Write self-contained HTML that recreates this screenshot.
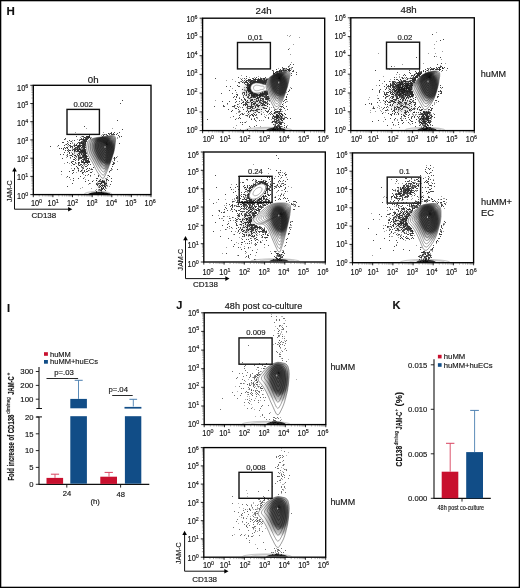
<!DOCTYPE html><html><head><meta charset="utf-8"><style>html,body{margin:0;padding:0;background:#fff;font-family:"Liberation Sans",sans-serif;}svg{display:block;opacity:.999}text{stroke:#222;stroke-width:.16px}</style></head><body>
<svg width="520" height="588" viewBox="0 0 520 588">
<rect x="0" y="0" width="520" height="588" fill="#fff"/>
<defs><filter id="blur2" x="-50%" y="-50%" width="200%" height="200%"><feGaussianBlur stdDeviation="2.5"/></filter><filter id="blur1" x="-50%" y="-50%" width="200%" height="200%"><feGaussianBlur stdDeviation="1.3"/></filter><filter id="blur05" x="-50%" y="-50%" width="200%" height="200%"><feGaussianBlur stdDeviation="0.6"/></filter><filter id="blur15" x="-50%" y="-50%" width="200%" height="200%"><feGaussianBlur stdDeviation="1.8"/></filter></defs>
<clipPath id="c0"><rect x="34" y="86" width="116.3" height="107.9"/></clipPath>
<g clip-path="url(#c0)">
<ellipse cx="80" cy="152" rx="8" ry="5" transform="rotate(5 80 152)" fill="#000" fill-opacity="0.12" filter="url(#blur2)"/>
<ellipse cx="102" cy="184" rx="4" ry="5" transform="rotate(0 102 184)" fill="#000" fill-opacity="0.12" filter="url(#blur2)"/>
<path transform="translate(0,0.5)" d="M122 100h1m-3 3h1m-4 17h1m-34 6h1m37 3h1m-12 3h1m2 0h1m4 0h1m-12 1h1m1 0h1m0 0h1m1 0h1m3 0h1m-33 1h1m18 0h1m1 0h1m2 0h1m1 0h1m0 0h1m0 0h1m0 0h1m1 0h1m-28 1h1m13 0h1m3 0h1m10 0h1m-43 1h1m5 0h1m0 0h1m2 0h1m0 0h1m0 0h1m0 0h1m12 0h1m16 0h1m1 0h1m-38 1h1m0 0h1m0 0h1m0 0h1m0 0h1m0 0h1m-25 1h1m15 0h1m1 0h1m1 0h1m0 0h1m0 0h1m0 0h1m1 0h1m-27 1h1m15 0h1m0 0h1m0 0h1m0 0h1m0 0h1m0 0h1m0 0h1m0 0h1m-19 1h1m4 0h1m4 0h1m3 0h1m0 0h1m0 0h1m0 0h1m-20 1h1m3 0h1m9 0h1m0 0h1m0 0h1m0 0h1m0 0h1m0 0h1m-25 1h1m0 0h1m14 0h1m0 0h1m0 0h1m0 0h1m0 0h1m0 0h1m0 0h1m0 0h1m-19 1h1m2 0h1m6 0h1m1 0h1m0 0h1m0 0h1m0 0h1m0 0h1m0 0h1m0 0h1m33 0h1m-54 1h1m1 0h1m5 0h1m1 0h1m2 0h1m2 0h1m0 0h1m0 0h1m0 0h1m-28 1h1m5 0h1m4 0h1m0 0h1m3 0h1m0 0h1m0 0h1m1 0h1m0 0h1m0 0h1m0 0h1m0 0h1m0 0h1m0 0h1m0 0h1m-36 1h1m19 0h1m0 0h1m0 0h1m1 0h1m2 0h1m0 0h1m0 0h1m0 0h1m1 0h1m0 0h1m0 0h1m-21 1h1m1 0h1m0 0h1m2 0h1m1 0h1m2 0h1m0 0h1m0 0h1m0 0h1m0 0h1m1 0h1m0 0h1m0 0h1m0 0h1m0 0h1m-27 1h1m1 0h1m1 0h1m1 0h1m1 0h1m6 0h1m0 0h1m1 0h1m1 0h1m3 0h1m0 0h1m-22 1h1m4 0h1m4 0h1m0 0h1m0 0h1m0 0h1m0 0h1m0 0h1m0 0h1m0 0h1m1 0h1m0 0h1m0 0h1m0 0h1m-21 1h1m1 0h1m1 0h1m0 0h1m1 0h1m1 0h1m0 0h1m1 0h1m0 0h1m1 0h1m0 0h1m0 0h1m0 0h1m0 0h1m0 0h1m-18 1h1m5 0h1m1 0h1m0 0h1m0 0h1m0 0h1m0 0h1m0 0h1m0 0h1m0 0h1m0 0h1m0 0h1m-22 1h1m4 0h1m9 0h1m0 0h1m0 0h1m0 0h1m0 0h1m0 0h1m0 0h1m-17 1h1m2 0h1m5 0h1m0 0h1m1 0h1m1 0h1m0 0h1m0 0h1m0 0h1m-27 1h1m2 0h1m3 0h1m4 0h1m4 0h1m1 0h1m1 0h1m1 0h1m0 0h1m0 0h1m-16 1h1m0 0h1m2 0h1m0 0h1m2 0h1m3 0h1m0 0h1m0 0h1m0 0h1m0 0h1m-20 1h1m4 0h1m3 0h1m1 0h1m3 0h1m0 0h1m0 0h1m0 0h1m0 0h1m0 0h1m-18 1h1m3 0h1m3 0h1m0 0h1m0 0h1m0 0h1m0 0h1m0 0h1m0 0h1m0 0h1m0 0h1m27 0h1m1 0h1m-55 1h1m12 0h1m2 0h1m0 0h1m0 0h1m0 0h1m2 0h1m0 0h1m0 0h1m0 0h1m0 0h1m25 0h1m-42 1h1m0 0h1m3 0h1m3 0h1m0 0h1m0 0h1m0 0h1m0 0h1m1 0h1m25 0h1m-40 1h1m2 0h1m2 0h1m1 0h1m1 0h1m0 0h1m0 0h1m0 0h1m25 0h1m-43 1h1m0 0h1m7 0h1m0 0h1m0 0h1m1 0h1m0 0h1m0 0h1m0 0h1m0 0h1m-23 1h1m3 0h1m3 0h1m2 0h1m0 0h1m1 0h1m0 0h1m0 0h1m0 0h1m0 0h1m0 0h1m0 0h1m0 0h1m0 0h1m23 0h1m-42 1h1m5 0h1m5 0h1m2 0h1m25 0h1m0 0h1m-42 1h1m0 0h1m3 0h1m1 0h1m0 0h1m6 0h1m1 0h1m21 0h1m0 0h1m-35 1h1m2 0h1m4 0h1m-12 1h1m4 0h1m3 0h1m0 0h1m25 0h1m-36 1h1m4 0h1m10 0h1m-20 1h1m3 0h1m4 0h1m3 0h1m1 0h1m21 0h1m-26 1h1m4 0h1m0 0h1m24 0h1m-46 1h1m0 0h1m4 0h1m2 0h1m2 0h1m3 0h1m21 0h1m-50 1h1m7 0h1m10 0h1m3 0h1m1 0h1m0 0h1m21 0h1m-37 1h1m8 0h1m0 0h1m6 0h1m0 0h1m-20 1h1m9 0h1m5 1h1m-4 1h1m4 0h1m7 0h1m9 0h1m-42 1h1m12 0h1m17 0h1m10 0h1m-41 1h1m3 1h1m4 0h1m4 0h1m12 0h1m0 0h1m13 0h1m-12 1h1m5 0h1m0 0h1m-35 1h1m14 0h1m7 0h1m2 0h1m2 0h1m3 0h1m1 0h1m-24 1h1m6 0h1m5 0h1m0 0h1m0 0h1m0 0h1m0 0h1m0 0h1m0 0h1m6 0h1m-11 1h1m0 0h1m0 0h1m0 0h1m-33 1h1m16 0h1m6 0h1m1 0h1m0 0h1m0 0h1m0 0h1m2 0h1m0 0h1m0 0h1m-11 1h1m0 0h1m2 0h1m3 0h1m0 0h1m4 0h1m-14 1h1m1 0h1m1 0h1m0 0h1m0 0h1m0 0h1m1 0h1m-40 1h1m32 0h1m1 0h1m1 0h1m0 0h1m-7 1h1m1 0h1m1 0h1m1 0h1m-5 1h1m0 0h1m0 0h1m-5 1h1m1 0h1m0 0h1m1 0h1m-5 1h1m0 0h1m3 0h1m-10 1h1m-1 1h1m4 0h1m1 1h1" stroke="#000" stroke-opacity="0.72" stroke-width="1" fill="none"/>
<path transform="translate(0,0.5)" d="M86 128h1m25 0h1m-38 4h1m27 0h1m4 1h1m0 0h1m-8 1h1m0 0h1m1 0h1m-5 1h1m1 0h1m2 0h1m-26 1h1m4 0h1m0 0h1m0 0h1m0 0h1m-10 1h1m2 0h1m0 0h1m2 0h1m0 0h1m0 0h1m0 0h1m0 0h1m25 0h1m1 0h1m-34 1h1m30 0h1m-53 1h1m11 0h1m1 0h1m3 0h1m1 0h1m0 0h1m-15 1h1m6 0h1m2 0h1m0 0h1m0 0h1m-15 1h1m13 0h1m0 0h1m-18 1h1m3 0h1m8 0h1m1 0h1m1 0h1m-16 1h1m1 0h1m1 0h1m4 0h1m1 0h1m0 0h1m0 0h1m1 0h1m-21 1h1m14 0h1m2 0h1m0 0h1m-18 1h1m5 0h1m2 0h1m0 0h1m0 0h1m0 0h1m1 0h1m1 0h1m-27 1h1m10 0h1m8 0h1m0 0h1m1 0h1m1 0h1m0 0h1m0 0h1m0 0h1m-2 1h1m-13 1h1m3 0h1m0 0h1m0 0h1m0 0h1m0 0h1m0 0h1m0 0h1m0 0h1m0 0h1m-13 1h1m6 0h1m0 0h1m0 0h1m2 0h1m-17 1h1m0 0h1m4 0h1m2 0h1m0 0h1m2 0h1m0 0h1m0 0h1m0 0h1m-10 1h1m3 0h1m1 0h1m0 0h1m0 0h1m0 0h1m0 0h1m-19 1h1m1 0h1m1 0h1m2 0h1m5 0h1m1 0h1m1 0h1m0 0h1m0 0h1m-13 1h1m5 0h1m1 0h1m0 0h1m1 0h1m-13 1h1m5 0h1m1 0h1m0 0h1m1 0h1m0 0h1m-20 1h1m0 0h1m1 0h1m1 0h1m3 0h1m1 0h1m0 0h1m0 0h1m0 0h1m2 0h1m0 0h1m0 0h1m-14 1h1m2 0h1m3 0h1m0 0h1m2 0h1m1 0h1m0 0h1m30 0h1m-52 1h1m9 0h1m3 0h1m0 0h1m3 0h1m0 0h1m27 0h1m-45 1h1m12 0h1m0 0h1m1 0h1m26 0h1m1 0h1m-42 1h1m1 0h1m2 0h1m3 0h1m0 0h1m-1 1h1m0 0h1m1 0h1m-17 1h1m14 0h1m1 0h1m0 0h1m22 0h1m4 0h1m-47 1h1m6 0h1m3 0h1m1 0h1m0 0h1m0 0h1m0 0h1m26 0h1m-51 1h1m4 0h1m5 0h1m0 0h1m2 0h1m3 0h1m0 0h1m-2 1h1m0 0h1m0 0h1m0 0h1m-16 1h1m6 0h1m0 0h1m0 0h1m3 0h1m-2 1h1m-3 1h1m1 0h1m-13 1h1m2 0h1m2 0h1m4 0h1m6 0h1m1 0h1m-18 1h1m3 0h1m3 0h1m7 0h1m20 0h1m0 0h1m-35 1h1m2 0h1m0 0h1m6 0h1m21 0h1m-34 1h1m2 0h1m10 0h1m-17 1h1m8 0h1m23 0h1m-49 2h1m21 0h1m10 0h1m-8 1h1m19 0h1m-18 1h1m18 0h1m-44 1h1m17 0h1m22 0h1m-3 1h1m0 0h1m-37 1h1m14 0h1m7 1h1m2 0h1m3 0h1m1 0h1m0 0h1m0 0h1m-13 1h1m9 0h1m0 0h1m0 0h1m1 0h1m-10 1h1m3 0h1m1 0h1m0 0h1m0 0h1m0 0h1m-17 1h1m6 0h1m3 0h1m2 0h1m1 0h1m-19 1h1m9 0h1m3 0h1m3 0h1m-6 1h1m3 0h1m1 0h1m-10 1h1m0 0h1m0 0h1m3 0h1m2 0h1m1 0h1m-28 1h1m15 0h1m2 0h1m1 0h1m-24 1h1m10 0h1m9 0h1m1 0h1m1 0h1m0 0h1m-11 1h1m1 0h1m1 0h1m-6 1h1m2 0h1m0 0h1m1 0h1m-1 1h1m0 2h1m0 0h1m5 0h1" stroke="#000" stroke-opacity="0.38" stroke-width="1" fill="none"/>
<ellipse cx="98" cy="194.3" rx="14" ry="3" fill="#000" fill-opacity="0.06" stroke="#000" stroke-opacity="0.4" stroke-width="0.5"/>
<ellipse cx="100" cy="194.3" rx="10" ry="2.2" fill="none" stroke="#000" stroke-opacity="0.3" stroke-width="0.5"/>
<ellipse cx="99" cy="194.4" rx="11" ry="2.5" fill="#000" fill-opacity="0.9" filter="url(#blur05)"/>
<path d="M86.9,145.6 87.1,143.9 87.5,142.4 88.2,141.1 89.1,140.3 90.8,139.3 92.3,138.7 94.1,138.1 96.1,137.7 98.1,137.4 99.7,137.2 102.2,136.8 104.5,136.4 106.4,136.2 108.2,135.9 110.1,135.7 111.6,135.6 112.9,135.6 113.9,135.9 115,136.5 115.4,137.4 115.6,139.3 115.4,142 115.2,143.9 114.9,146.3 114.4,149 114.1,150.9 113.4,153.5 112.6,155.8 112.1,157.6 111.1,160.5 110.5,162.4 109.8,164.3 108.7,166.9 108.1,168.5 107.3,170.6 106.4,172.6 105.6,174.5 104.8,176 103.8,177.8 103.1,178.3 102,178 100.8,176.8 99.7,175.2 98.4,173.5 97.2,171.6 96.1,169.7 95.2,167.9 94.5,166.4 93.3,164.2 92.2,162.1 91.2,160.4 90.2,158.8 89.3,157.1 88.5,155.6 87.9,154 87.4,152.5 86.9,150.3 86.8,148.9 86.7,147.3Z" fill="#fff"/>
<clipPath id="c0k"><path d="M86.9,145.6 87.1,143.9 87.5,142.4 88.2,141.1 89.1,140.3 90.8,139.3 92.3,138.7 94.1,138.1 96.1,137.7 98.1,137.4 99.7,137.2 102.2,136.8 104.5,136.4 106.4,136.2 108.2,135.9 110.1,135.7 111.6,135.6 112.9,135.6 113.9,135.9 115,136.5 115.4,137.4 115.6,139.3 115.4,142 115.2,143.9 114.9,146.3 114.4,149 114.1,150.9 113.4,153.5 112.6,155.8 112.1,157.6 111.1,160.5 110.5,162.4 109.8,164.3 108.7,166.9 108.1,168.5 107.3,170.6 106.4,172.6 105.6,174.5 104.8,176 103.8,177.8 103.1,178.3 102,178 100.8,176.8 99.7,175.2 98.4,173.5 97.2,171.6 96.1,169.7 95.2,167.9 94.5,166.4 93.3,164.2 92.2,162.1 91.2,160.4 90.2,158.8 89.3,157.1 88.5,155.6 87.9,154 87.4,152.5 86.9,150.3 86.8,148.9 86.7,147.3Z"/></clipPath>
<g clip-path="url(#c0k)">
<ellipse cx="105" cy="150" rx="15.2" ry="20.2" transform="rotate(-20 105 150)" fill="#000" fill-opacity="0.3" filter="url(#blur15)"/>
<ellipse cx="105" cy="150" rx="10.5" ry="15" transform="rotate(-20 105 150)" fill="#0a0a0a" fill-opacity="0.6" filter="url(#blur1)"/>
</g>
<path d="M88.7,145.4 88.9,143.9 89.2,142.5 89.9,141.4 90.7,140.6 92.3,139.7 93.6,139.2 95.3,138.7 97.1,138.3 98.9,138 100.3,137.8 102.6,137.5 104.6,137.1 106.4,136.9 108.1,136.6 109.8,136.4 111.1,136.3 112.3,136.4 113.2,136.6 114.2,137.2 114.6,138 114.8,139.7 114.6,142.2 114.4,143.9 114.1,146.1 113.7,148.5 113.4,150.2 112.7,152.6 112.1,154.7 111.6,156.4 110.7,158.9 110.1,160.7 109.5,162.4 108.5,164.8 107.9,166.3 107.2,168.1 106.4,170 105.7,171.7 105,173.1 104.1,174.7 103.4,175.1 102.4,174.9 101.4,173.7 100.3,172.4 99.1,170.8 98,169.1 97.1,167.3 96.2,165.7 95.6,164.4 94.5,162.3 93.5,160.5 92.6,158.9 91.7,157.4 90.9,155.9 90.2,154.5 89.6,153.1 89.2,151.7 88.7,149.7 88.6,148.5 88.6,147ZM90.5,145.3 90.6,144 90.9,142.6 91.5,141.6 92.2,140.9 93.7,140.2 94.9,139.6 96.4,139.2 98,138.9 99.6,138.6 100.9,138.4 102.9,138.1 104.8,137.8 106.4,137.6 107.9,137.4 109.4,137.2 110.6,137.1 111.7,137.1 112.5,137.4 113.4,137.8 113.8,138.6 113.9,140.1 113.8,142.3 113.6,143.9 113.4,145.9 113,148.1 112.7,149.6 112.1,151.8 111.5,153.7 111.1,155.1 110.3,157.5 109.7,159 109.2,160.6 108.3,162.7 107.8,164.1 107.1,165.7 106.4,167.4 105.7,169 105.1,170.2 104.3,171.7 103.7,172 102.8,171.8 101.9,170.8 100.9,169.6 99.9,168.2 98.9,166.6 98,165 97.2,163.5 96.6,162.3 95.7,160.5 94.8,158.8 94,157.4 93.2,156.1 92.4,154.7 91.8,153.5 91.2,152.2 90.9,150.9 90.5,149.2 90.4,148 90.3,146.7ZM92.2,145.1 92.3,144 92.6,142.8 93.1,141.9 93.8,141.3 95.1,140.6 96.1,140.1 97.5,139.7 98.9,139.4 100.4,139.2 101.5,139 103.3,138.7 105,138.5 106.4,138.3 107.8,138.1 109.1,137.9 110.2,137.8 111.2,137.9 111.9,138.1 112.7,138.5 113,139.2 113.2,140.6 113,142.5 112.9,143.9 112.6,145.7 112.3,147.7 112,149 111.5,150.9 111,152.6 110.6,153.9 109.9,156 109.4,157.4 108.9,158.8 108.1,160.7 107.7,161.9 107.1,163.4 106.4,164.9 105.8,166.3 105.3,167.4 104.5,168.7 104,169 103.2,168.8 102.4,167.9 101.5,166.8 100.6,165.6 99.7,164.2 98.9,162.8 98.2,161.4 97.7,160.4 96.9,158.7 96.1,157.2 95.3,156 94.6,154.8 93.9,153.6 93.4,152.5 92.9,151.3 92.5,150.2 92.2,148.6 92.1,147.6 92.1,146.4ZM93.8,145 94,144 94.2,142.9 94.7,142.1 95.2,141.6 96.4,141 97.3,140.6 98.5,140.2 99.8,140 101.1,139.7 102.1,139.6 103.7,139.3 105.2,139.1 106.4,138.9 107.6,138.8 108.8,138.6 109.8,138.5 110.6,138.6 111.3,138.8 112,139.1 112.3,139.8 112.4,141 112.3,142.7 112.1,143.9 111.9,145.5 111.6,147.2 111.4,148.4 110.9,150.1 110.5,151.6 110.1,152.8 109.5,154.6 109.1,155.9 108.6,157.1 107.9,158.8 107.5,159.8 107,161.1 106.4,162.5 105.9,163.7 105.4,164.7 104.8,165.8 104.3,166.1 103.6,165.9 102.8,165.2 102.1,164.2 101.3,163.1 100.5,161.8 99.8,160.6 99.2,159.4 98.7,158.5 98,157 97.3,155.7 96.6,154.6 96,153.5 95.4,152.5 94.9,151.5 94.5,150.5 94.2,149.5 93.9,148.1 93.8,147.2 93.7,146.1ZM95.5,144.9 95.6,144 95.8,143.1 96.2,142.4 96.7,141.9 97.7,141.4 98.5,141 99.5,140.7 100.7,140.5 101.8,140.3 102.7,140.2 104.1,139.9 105.3,139.7 106.4,139.6 107.5,139.4 108.5,139.3 109.4,139.2 110.1,139.3 110.7,139.4 111.3,139.8 111.5,140.3 111.6,141.3 111.5,142.9 111.4,143.9 111.2,145.3 111,146.8 110.8,147.9 110.4,149.3 110,150.6 109.6,151.7 109.1,153.3 108.7,154.3 108.3,155.4 107.8,156.9 107.4,157.8 106.9,159 106.5,160.1 106,161.2 105.6,162 105,163 104.6,163.3 104,163.1 103.3,162.4 102.6,161.6 101.9,160.6 101.2,159.5 100.6,158.5 100.1,157.4 99.7,156.6 99.1,155.4 98.5,154.2 97.9,153.2 97.4,152.3 96.8,151.4 96.4,150.5 96,149.6 95.8,148.8 95.5,147.6 95.4,146.8 95.4,145.8ZM97,144.8 97.1,144 97.3,143.2 97.7,142.6 98.1,142.2 98.9,141.7 99.6,141.4 100.5,141.2 101.5,141 102.4,140.8 103.2,140.7 104.4,140.5 105.5,140.4 106.4,140.2 107.3,140.1 108.2,140 108.9,139.9 109.6,140 110.1,140.1 110.6,140.4 110.8,140.8 110.9,141.7 110.8,143 110.7,143.9 110.6,145.1 110.3,146.4 110.1,147.3 109.8,148.6 109.5,149.7 109.2,150.6 108.7,152 108.4,152.9 108.1,153.8 107.6,155.1 107.3,155.9 106.9,156.8 106.5,157.8 106,158.7 105.7,159.5 105.2,160.3 104.8,160.6 104.3,160.4 103.8,159.8 103.2,159.1 102.6,158.3 102,157.3 101.5,156.4 101,155.5 100.7,154.8 100.1,153.7 99.6,152.8 99.1,151.9 98.6,151.1 98.2,150.3 97.8,149.6 97.5,148.8 97.3,148.1 97.1,147 97,146.4 97,145.6ZM98.5,144.6 98.6,144 98.8,143.3 99.1,142.8 99.4,142.5 100.1,142.1 100.7,141.8 101.5,141.6 102.3,141.5 103.1,141.3 103.7,141.2 104.7,141.1 105.7,140.9 106.4,140.8 107.2,140.7 108,140.6 108.6,140.6 109.1,140.6 109.5,140.7 109.9,140.9 110.1,141.3 110.2,142.1 110.1,143.2 110,143.9 109.9,144.9 109.7,146 109.6,146.8 109.3,147.9 109,148.8 108.8,149.5 108.4,150.7 108.1,151.5 107.8,152.2 107.4,153.3 107.1,154 106.8,154.8 106.5,155.6 106.1,156.4 105.8,157 105.4,157.7 105.1,157.9 104.7,157.8 104.2,157.3 103.7,156.7 103.2,156 102.7,155.2 102.3,154.4 101.9,153.7 101.6,153.1 101.1,152.2 100.7,151.4 100.3,150.7 99.9,150 99.5,149.3 99.2,148.7 98.9,148.1 98.7,147.4 98.6,146.6 98.5,146 98.5,145.3ZM100,144.5 100.1,144 100.2,143.5 100.4,143 100.7,142.8 101.3,142.4 101.8,142.2 102.4,142.1 103.1,141.9 103.7,141.8 104.2,141.7 105.1,141.6 105.8,141.5 106.5,141.4 107.1,141.3 107.7,141.2 108.2,141.2 108.6,141.2 109,141.3 109.3,141.5 109.5,141.8 109.5,142.4 109.5,143.3 109.4,144 109.3,144.8 109.1,145.7 109,146.3 108.8,147.2 108.5,147.9 108.4,148.5 108,149.5 107.8,150.1 107.6,150.7 107.2,151.6 107,152.2 106.8,152.8 106.5,153.5 106.2,154.1 105.9,154.6 105.6,155.2 105.4,155.4 105,155.3 104.6,154.9 104.2,154.4 103.8,153.8 103.4,153.2 103,152.5 102.7,151.9 102.5,151.5 102.1,150.7 101.7,150 101.4,149.5 101.1,148.9 100.8,148.4 100.5,147.9 100.3,147.3 100.2,146.8 100,146.1 99.9,145.6 99.9,145.1ZM101.4,144.4 101.4,144 101.5,143.6 101.7,143.2 101.9,143 102.4,142.8 102.8,142.6 103.3,142.5 103.8,142.4 104.3,142.3 104.7,142.2 105.4,142.1 106,142 106.5,141.9 107,141.9 107.4,141.8 107.8,141.8 108.2,141.8 108.4,141.9 108.7,142 108.8,142.3 108.9,142.8 108.8,143.5 108.8,144 108.7,144.6 108.6,145.3 108.5,145.8 108.3,146.5 108.1,147.1 108,147.6 107.7,148.3 107.5,148.8 107.4,149.3 107.1,150 106.9,150.4 106.7,151 106.5,151.5 106.3,152 106.1,152.4 105.8,152.9 105.6,153 105.3,152.9 105,152.6 104.7,152.2 104.4,151.7 104.1,151.2 103.8,150.7 103.5,150.3 103.3,149.9 103,149.3 102.8,148.8 102.5,148.3 102.2,147.9 102,147.4 101.8,147 101.6,146.6 101.5,146.2 101.4,145.7 101.3,145.3 101.3,144.9ZM102.7,144.3 102.7,144 102.8,143.7 102.9,143.4 103.1,143.3 103.4,143.1 103.7,143 104.1,142.9 104.5,142.8 104.9,142.7 105.2,142.7 105.6,142.6 106.1,142.5 106.5,142.5 106.8,142.4 107.2,142.4 107.5,142.3 107.8,142.4 107.9,142.4 108.2,142.5 108.3,142.7 108.3,143.1 108.2,143.6 108.2,144 108.1,144.5 108.1,145 108,145.3 107.8,145.9 107.7,146.3 107.6,146.7 107.4,147.2 107.3,147.6 107.1,148 106.9,148.5 106.8,148.8 106.7,149.2 106.5,149.6 106.3,150 106.2,150.3 106,150.6 105.8,150.7 105.6,150.7 105.4,150.4 105.2,150.1 104.9,149.8 104.7,149.4 104.5,149 104.3,148.7 104.1,148.4 103.9,148 103.7,147.6 103.5,147.2 103.3,146.9 103.1,146.6 103,146.3 102.8,146 102.8,145.7 102.7,145.2 102.6,145 102.6,144.6ZM103.9,144.2 103.9,144 103.9,143.8 104,143.6 104.1,143.5 104.4,143.4 104.6,143.3 104.8,143.2 105.1,143.2 105.4,143.1 105.6,143.1 105.9,143 106.2,143 106.5,142.9 106.7,142.9 107,142.9 107.2,142.9 107.4,142.9 107.5,142.9 107.6,143 107.7,143.1 107.7,143.4 107.7,143.7 107.7,144 107.6,144.3 107.6,144.7 107.5,144.9 107.4,145.3 107.3,145.6 107.3,145.8 107.1,146.2 107,146.5 106.9,146.7 106.8,147.1 106.7,147.3 106.6,147.6 106.5,147.9 106.4,148.1 106.3,148.3 106.1,148.6 106,148.6 105.9,148.6 105.7,148.4 105.6,148.2 105.4,148 105.2,147.7 105.1,147.5 105,147.2 104.9,147 104.7,146.7 104.6,146.4 104.4,146.2 104.3,146 104.2,145.8 104.1,145.6 104,145.3 103.9,145.1 103.9,144.9 103.8,144.7 103.8,144.4ZM104.9,144.1 105,144 105,143.9 105,143.8 105.1,143.7 105.3,143.6 105.4,143.6 105.5,143.5 105.7,143.5 105.8,143.5 106,143.5 106.2,143.4 106.3,143.4 106.5,143.4 106.6,143.4 106.8,143.3 106.9,143.3 107,143.3 107.1,143.4 107.2,143.4 107.2,143.5 107.2,143.6 107.2,143.8 107.2,144 107.2,144.2 107.1,144.4 107.1,144.5 107,144.8 107,144.9 106.9,145.1 106.9,145.3 106.8,145.5 106.8,145.6 106.7,145.8 106.6,146 106.6,146.1 106.5,146.3 106.4,146.4 106.4,146.6 106.3,146.7 106.2,146.7 106.1,146.7 106,146.6 106,146.5 105.9,146.4 105.8,146.2 105.7,146 105.6,145.9 105.5,145.8 105.4,145.6 105.4,145.4 105.3,145.3 105.2,145.2 105.1,145 105.1,144.9 105,144.8 105,144.7 104.9,144.5 104.9,144.4 104.9,144.3ZM105.9,144.1 105.9,144 105.9,143.9 105.9,143.9 105.9,143.9 106,143.8 106,143.8 106.1,143.8 106.2,143.8 106.2,143.8 106.3,143.8 106.4,143.8 106.4,143.8 106.5,143.7 106.6,143.7 106.6,143.7 106.7,143.7 106.7,143.7 106.7,143.7 106.8,143.8 106.8,143.8 106.8,143.8 106.8,143.9 106.8,144 106.8,144.1 106.8,144.2 106.7,144.2 106.7,144.3 106.7,144.4 106.7,144.4 106.6,144.5 106.6,144.6 106.6,144.7 106.6,144.7 106.6,144.8 106.5,144.9 106.5,144.9 106.5,145 106.4,145 106.4,145.1 106.4,145.1 106.4,145.1 106.3,145.1 106.3,145 106.2,145 106.2,144.9 106.2,144.8 106.1,144.8 106.1,144.7 106.1,144.7 106,144.6 106,144.5 106,144.5 105.9,144.4 105.9,144.4 105.9,144.3 105.9,144.3 105.9,144.2 105.9,144.2 105.9,144.1Z" fill="none" stroke="#000" stroke-opacity="0.72" stroke-width="0.5"/>
<path d="M86.9,145.6 87,144.8 87.1,143.9 87.3,143.1 87.5,142.4 87.7,141.8 88.2,141.1 88.5,140.7 89.1,140.3 89.7,139.9 90.8,139.3 91.5,139 92.3,138.7 93,138.5 94.1,138.1 94.9,138 96.1,137.7 97.3,137.5 98.1,137.4 98.9,137.3 99.7,137.2 100.9,137 102.2,136.8 103,136.7 104.5,136.4 105.3,136.3 106.4,136.2 107.3,136 108.2,135.9 109.2,135.8 110.1,135.7 111,135.6 111.6,135.6 112.4,135.6 112.9,135.6 113.4,135.7 113.9,135.9 114.6,136.2 115,136.5 115.3,136.9 115.4,137.4 115.6,138.5 115.6,139.3 115.5,140.6 115.4,142 115.3,142.9 115.2,143.9 115.1,144.8 114.9,146.3 114.7,147.9 114.4,149 114.3,149.9 114.1,150.9 113.8,152 113.4,153.5 112.9,154.9 112.6,155.8 112.4,156.7 112.1,157.6 111.6,159 111.1,160.5 110.8,161.5 110.5,162.4 110.1,163.2 109.8,164.3 109.2,165.6 108.7,166.9 108.4,167.7 108.1,168.5 107.8,169.3 107.3,170.6 106.8,171.8 106.4,172.6 105.9,173.8 105.6,174.5 105.2,175.3 104.8,176 104.2,177.2 103.8,177.8 103.4,178.2 103.1,178.3 102.4,178.2 102,178 101.4,177.4 100.8,176.8 100.3,176 99.7,175.2 99,174.4 98.4,173.5 97.9,172.8 97.2,171.6 96.7,170.8 96.1,169.7 95.5,168.6 95.2,167.9 94.8,167.1 94.5,166.4 93.9,165.3 93.3,164.2 92.9,163.4 92.2,162.1 91.8,161.4 91.2,160.4 90.7,159.6 90.2,158.8 89.8,157.9 89.3,157.1 88.8,156.2 88.5,155.6 88.1,154.6 87.9,154 87.6,153.2 87.4,152.5 87.1,151 86.9,150.3 86.8,149.5 86.8,148.9 86.7,147.9 86.7,147.3 86.8,146.4Z" fill="none" stroke="#000" stroke-opacity="0.75" stroke-width="0.55"/>
<ellipse cx="105" cy="147" rx="0.5" ry="1.0" fill="#fff" fill-opacity="0.75"/>
</g>
<path d="M32.7,189.1h-1.3M39.2,195.2v1.3M32.7,185.9h-1.3M42.7,195.2v1.3M32.7,183.6h-1.3M45.1,195.2v1.3M32.7,181.9h-1.3M47,195.2v1.3M32.7,180.4h-1.3M48.6,195.2v1.3M32.7,179.2h-1.3M49.9,195.2v1.3M32.7,178.1h-1.3M51,195.2v1.3M32.7,177.2h-1.3M52,195.2v1.3M32.7,170.9h-1.3M58.8,195.2v1.3M32.7,167.7h-1.3M62.3,195.2v1.3M32.7,165.4h-1.3M64.7,195.2v1.3M32.7,163.7h-1.3M66.6,195.2v1.3M32.7,162.2h-1.3M68.2,195.2v1.3M32.7,161h-1.3M69.5,195.2v1.3M32.7,159.9h-1.3M70.6,195.2v1.3M32.7,159h-1.3M71.6,195.2v1.3M32.7,152.7h-1.3M78.4,195.2v1.3M32.7,149.5h-1.3M81.9,195.2v1.3M32.7,147.2h-1.3M84.3,195.2v1.3M32.7,145.4h-1.3M86.2,195.2v1.3M32.7,144h-1.3M87.8,195.2v1.3M32.7,142.8h-1.3M89.1,195.2v1.3M32.7,141.7h-1.3M90.2,195.2v1.3M32.7,140.8h-1.3M91.3,195.2v1.3M32.7,134.5h-1.3M98.1,195.2v1.3M32.7,131.3h-1.3M101.5,195.2v1.3M32.7,129h-1.3M104,195.2v1.3M32.7,127.2h-1.3M105.9,195.2v1.3M32.7,125.8h-1.3M107.4,195.2v1.3M32.7,124.6h-1.3M108.7,195.2v1.3M32.7,123.5h-1.3M109.9,195.2v1.3M32.7,122.6h-1.3M110.9,195.2v1.3M32.7,116.2h-1.3M117.7,195.2v1.3M32.7,113h-1.3M121.1,195.2v1.3M32.7,110.8h-1.3M123.6,195.2v1.3M32.7,109h-1.3M125.5,195.2v1.3M32.7,107.6h-1.3M127,195.2v1.3M32.7,106.3h-1.3M128.3,195.2v1.3M32.7,105.3h-1.3M129.5,195.2v1.3M32.7,104.4h-1.3M130.5,195.2v1.3M32.7,98h-1.3M137.3,195.2v1.3M32.7,94.8h-1.3M140.7,195.2v1.3M32.7,92.5h-1.3M143.2,195.2v1.3M32.7,90.8h-1.3M145.1,195.2v1.3M32.7,89.3h-1.3M146.6,195.2v1.3M32.7,88.1h-1.3M148,195.2v1.3M32.7,87.1h-1.3M149.1,195.2v1.3M32.7,86.1h-1.3M150.1,195.2v1.3" stroke="#555" stroke-width="0.5" fill="none"/>
<path d="M33.3,194.6h-3M33.3,194.6v2.6M33.3,176.4h-3M52.9,194.6v2.6M33.3,158.2h-3M72.5,194.6v2.6M33.3,139.9h-3M92.2,194.6v2.6M33.3,121.7h-3M111.8,194.6v2.6M33.3,103.5h-3M131.4,194.6v2.6M33.3,85.3h-3M151,194.6v2.6" stroke="#111" stroke-width="0.9" fill="none"/>
<text x="28.3" y="198.6" font-size="8.3" text-anchor="end" font-family="'Liberation Sans', sans-serif" fill="#111" textLength="11.2" lengthAdjust="spacingAndGlyphs">10<tspan font-size="6.0" dy="-3.0">0</tspan></text>
<text x="28.3" y="180.4" font-size="8.3" text-anchor="end" font-family="'Liberation Sans', sans-serif" fill="#111" textLength="11.2" lengthAdjust="spacingAndGlyphs">10<tspan font-size="6.0" dy="-3.0">1</tspan></text>
<text x="28.3" y="162.2" font-size="8.3" text-anchor="end" font-family="'Liberation Sans', sans-serif" fill="#111" textLength="11.2" lengthAdjust="spacingAndGlyphs">10<tspan font-size="6.0" dy="-3.0">2</tspan></text>
<text x="28.3" y="143.9" font-size="8.3" text-anchor="end" font-family="'Liberation Sans', sans-serif" fill="#111" textLength="11.2" lengthAdjust="spacingAndGlyphs">10<tspan font-size="6.0" dy="-3.0">3</tspan></text>
<text x="28.3" y="125.7" font-size="8.3" text-anchor="end" font-family="'Liberation Sans', sans-serif" fill="#111" textLength="11.2" lengthAdjust="spacingAndGlyphs">10<tspan font-size="6.0" dy="-3.0">4</tspan></text>
<text x="28.3" y="107.5" font-size="8.3" text-anchor="end" font-family="'Liberation Sans', sans-serif" fill="#111" textLength="11.2" lengthAdjust="spacingAndGlyphs">10<tspan font-size="6.0" dy="-3.0">5</tspan></text>
<text x="28.3" y="90.9" font-size="8.3" text-anchor="end" font-family="'Liberation Sans', sans-serif" fill="#111" textLength="11.2" lengthAdjust="spacingAndGlyphs">10<tspan font-size="6.0" dy="-3.0">6</tspan></text>
<text x="36.5" y="205.6" font-size="8.3" text-anchor="middle" font-family="'Liberation Sans', sans-serif" fill="#111" textLength="11.2" lengthAdjust="spacingAndGlyphs">10<tspan font-size="6.0" dy="-3.0">0</tspan></text>
<text x="53.2" y="205.6" font-size="8.3" text-anchor="middle" font-family="'Liberation Sans', sans-serif" fill="#111" textLength="11.2" lengthAdjust="spacingAndGlyphs">10<tspan font-size="6.0" dy="-3.0">1</tspan></text>
<text x="72.6" y="205.6" font-size="8.3" text-anchor="middle" font-family="'Liberation Sans', sans-serif" fill="#111" textLength="11.2" lengthAdjust="spacingAndGlyphs">10<tspan font-size="6.0" dy="-3.0">2</tspan></text>
<text x="92" y="205.6" font-size="8.3" text-anchor="middle" font-family="'Liberation Sans', sans-serif" fill="#111" textLength="11.2" lengthAdjust="spacingAndGlyphs">10<tspan font-size="6.0" dy="-3.0">3</tspan></text>
<text x="111.4" y="205.6" font-size="8.3" text-anchor="middle" font-family="'Liberation Sans', sans-serif" fill="#111" textLength="11.2" lengthAdjust="spacingAndGlyphs">10<tspan font-size="6.0" dy="-3.0">4</tspan></text>
<text x="130.8" y="205.6" font-size="8.3" text-anchor="middle" font-family="'Liberation Sans', sans-serif" fill="#111" textLength="11.2" lengthAdjust="spacingAndGlyphs">10<tspan font-size="6.0" dy="-3.0">5</tspan></text>
<text x="150.2" y="205.6" font-size="8.3" text-anchor="middle" font-family="'Liberation Sans', sans-serif" fill="#111" textLength="11.2" lengthAdjust="spacingAndGlyphs">10<tspan font-size="6.0" dy="-3.0">6</tspan></text>
<rect x="33.3" y="85.3" width="117.7" height="109.3" fill="none" stroke="#000" stroke-width="1.35"/>
<rect x="67" y="109.4" width="32.4" height="25" fill="none" stroke="#111" stroke-width="1.4"/>
<text x="83.2" y="106.7" font-size="7.7" text-anchor="middle" font-family="'Liberation Sans', sans-serif" fill="#222">0.002</text>
<clipPath id="c1"><rect x="203.3" y="18.9" width="120.7" height="111"/></clipPath>
<g clip-path="url(#c1)">
<ellipse cx="255" cy="90" rx="11" ry="6" transform="rotate(0 255 90)" fill="#000" fill-opacity="0.3" filter="url(#blur2)"/>
<ellipse cx="256" cy="104" rx="10" ry="8" transform="rotate(0 256 104)" fill="#000" fill-opacity="0.12" filter="url(#blur2)"/>
<ellipse cx="278" cy="118" rx="3.5" ry="7" transform="rotate(0 278 118)" fill="#000" fill-opacity="0.15" filter="url(#blur2)"/>
<path transform="translate(0,0.5)" d="M288 49h1m1 15h1m2 0h1m-6 2h1m-7 1h1m9 0h1m-10 1h1m0 0h1m1 0h1m2 0h1m-14 1h1m3 0h1m2 0h1m3 0h1m0 0h1m0 0h1m-18 1h1m6 0h1m0 0h1m0 0h1m0 0h1m0 0h1m0 0h1m0 0h1m0 0h1m1 0h1m0 0h1m0 0h1m2 0h1m-21 1h1m2 0h1m0 0h1m0 0h1m0 0h1m0 0h1m0 0h1m2 0h1m4 0h1m2 0h1m0 0h1m-21 1h1m1 0h1m0 0h1m0 0h1m1 0h1m16 0h1m-24 1h1m0 0h1m16 0h1m-19 1h1m22 0h1m-6 1h1m-46 1h1m-9 1h1m17 0h1m8 0h1m-51 1h1m28 0h1m1 0h1m5 0h1m0 0h1m1 0h1m2 0h1m1 0h1m0 0h1m1 0h1m0 0h1m-24 1h1m6 0h1m0 0h1m0 0h1m2 0h1m0 0h1m0 0h1m0 0h1m0 0h1m0 0h1m0 0h1m0 0h1m0 0h1m1 0h1m0 0h1m1 0h1m0 0h1m-26 1h1m1 0h1m1 0h1m0 0h1m0 0h1m0 0h1m0 0h1m0 0h1m0 0h1m0 0h1m0 0h1m0 0h1m1 0h1m0 0h1m0 0h1m0 0h1m0 0h1m0 0h1m0 0h1m0 0h1m0 0h1m0 0h1m-26 1h1m3 0h1m0 0h1m1 0h1m1 0h1m0 0h1m0 0h1m0 0h1m0 0h1m0 0h1m0 0h1m0 0h1m0 0h1m0 0h1m0 0h1m0 0h1m0 0h1m0 0h1m0 0h1m0 0h1m0 0h1m-29 1h1m0 0h1m2 0h1m1 0h1m0 0h1m0 0h1m0 0h1m1 0h1m0 0h1m0 0h1m0 0h1m0 0h1m0 0h1m0 0h1m0 0h1m0 0h1m0 0h1m0 0h1m0 0h1m0 0h1m0 0h1m0 0h1m0 0h1m0 0h1m0 0h1m-23 1h1m2 0h1m0 0h1m1 0h1m0 0h1m0 0h1m0 0h1m0 0h1m5 0h1m0 0h1m0 0h1m0 0h1m0 0h1m0 0h1m-21 1h1m1 0h1m0 0h1m0 0h1m0 0h1m0 0h1m11 0h1m0 0h1m0 0h1m-29 1h1m9 0h1m0 0h1m0 0h1m0 0h1m0 0h1m-26 1h1m3 0h1m7 0h1m0 0h1m7 0h1m0 0h1m0 0h1m0 0h1m0 0h1m-6 1h1m0 0h1m0 0h1m0 0h1m0 0h1m-4 1h1m0 0h1m0 0h1m0 0h1m40 0h1m-50 1h1m4 0h1m0 0h1m0 0h1m0 0h1m-22 1h1m5 0h1m11 0h1m0 0h1m0 0h1m0 0h1m0 0h1m37 0h1m-44 1h1m1 0h1m0 0h1m0 0h1m0 0h1m12 0h1m0 0h1m0 0h1m0 0h1m20 0h1m-46 1h1m0 0h1m1 0h1m3 0h1m0 0h1m0 0h1m9 0h1m1 0h1m0 0h1m0 0h1m0 0h1m-47 1h1m10 0h1m9 0h1m1 0h1m4 0h1m0 0h1m0 0h1m0 0h1m0 0h1m0 0h1m0 0h1m4 0h1m0 0h1m0 0h1m0 0h1m0 0h1m0 0h1m0 0h1m0 0h1m-32 1h1m0 0h1m6 0h1m1 0h1m1 0h1m2 0h1m0 0h1m0 0h1m0 0h1m0 0h1m0 0h1m0 0h1m1 0h1m0 0h1m0 0h1m0 0h1m0 0h1m0 0h1m0 0h1m0 0h1m0 0h1m19 0h1m-51 1h1m5 0h1m2 0h1m2 0h1m1 0h1m0 0h1m0 0h1m0 0h1m0 0h1m0 0h1m0 0h1m0 0h1m0 0h1m0 0h1m0 0h1m0 0h1m0 0h1m1 0h1m0 0h1m-33 1h1m1 0h1m11 0h1m2 0h1m0 0h1m0 0h1m0 0h1m0 0h1m0 0h1m0 0h1m1 0h1m0 0h1m1 0h1m0 0h1m0 0h1m0 0h1m0 0h1m0 0h1m0 0h1m17 0h1m-54 1h1m2 0h1m6 0h1m3 0h1m0 0h1m1 0h1m0 0h1m1 0h1m0 0h1m0 0h1m1 0h1m0 0h1m0 0h1m4 0h1m0 0h1m0 0h1m0 0h1m0 0h1m17 0h1m-48 1h1m4 0h1m4 0h1m6 0h1m0 0h1m0 0h1m1 0h1m0 0h1m0 0h1m0 0h1m1 0h1m0 0h1m0 0h1m0 0h1m0 0h1m-35 1h1m5 0h1m2 0h1m0 0h1m5 0h1m0 0h1m1 0h1m3 0h1m1 0h1m1 0h1m0 0h1m1 0h1m0 0h1m0 0h1m0 0h1m16 0h1m0 0h1m-42 1h1m1 0h1m2 0h1m0 0h1m0 0h1m3 0h1m1 0h1m1 0h1m0 0h1m1 0h1m5 0h1m14 0h1m-63 1h1m6 0h1m6 0h1m2 0h1m3 0h1m2 0h1m3 0h1m2 0h1m2 0h1m0 0h1m1 0h1m2 0h1m0 0h1m0 0h1m0 0h1m1 0h1m15 0h1m-49 1h1m6 0h1m0 0h1m1 0h1m1 0h1m0 0h1m2 0h1m0 0h1m2 0h1m3 0h1m0 0h1m2 0h1m0 0h1m0 0h1m0 0h1m18 0h1m-59 1h1m13 0h1m3 0h1m0 0h1m4 0h1m1 0h1m0 0h1m0 0h1m5 0h1m0 0h1m0 0h1m1 0h1m1 0h1m-31 1h1m5 0h1m0 0h1m0 0h1m0 0h1m0 0h1m3 0h1m1 0h1m0 0h1m1 0h1m0 0h1m4 0h1m0 0h1m0 0h1m2 0h1m1 0h1m12 0h1m-60 1h1m10 0h1m8 0h1m1 0h1m1 0h1m3 0h1m4 0h1m0 0h1m0 0h1m0 0h1m1 0h1m0 0h1m1 0h1m0 0h1m-52 1h1m8 0h1m0 0h1m7 0h1m0 0h1m0 0h1m2 0h1m9 0h1m0 0h1m0 0h1m0 0h1m0 0h1m0 0h1m0 0h1m1 0h1m1 0h1m0 0h1m8 0h1m12 0h1m0 0h1m0 0h1m3 0h1m-49 1h1m3 0h1m4 0h1m2 0h1m0 0h1m0 0h1m2 0h1m7 0h1m19 0h1m-49 1h1m0 0h1m10 0h1m0 0h1m0 0h1m0 0h1m1 0h1m11 0h1m0 0h1m0 0h1m17 0h1m-57 1h1m9 0h1m4 0h1m7 0h1m4 0h1m0 0h1m0 0h1m0 0h1m1 0h1m7 0h1m5 0h1m3 0h1m0 0h1m0 0h1m5 0h1m-56 1h1m14 0h1m2 0h1m0 0h1m0 0h1m0 0h1m1 0h1m0 0h1m8 0h1m2 0h1m5 0h1m5 0h1m-50 1h1m7 0h1m6 0h1m1 0h1m1 0h1m6 0h1m8 0h1m0 0h1m0 0h1m2 0h1m3 0h1m0 0h1m0 0h1m0 0h1m0 0h1m0 0h1m-33 1h1m6 0h1m2 0h1m0 0h1m7 0h1m2 0h1m3 0h1m0 0h1m0 0h1m0 0h1m1 0h1m-38 1h1m10 0h1m15 0h1m1 0h1m2 0h1m3 0h1m0 0h1m0 0h1m0 0h1m2 0h1m-45 1h1m1 0h1m0 0h1m4 0h1m2 0h1m0 0h1m1 0h1m1 0h1m4 0h1m8 0h1m1 0h1m3 0h1m0 0h1m1 0h1m1 0h1m0 0h1m2 0h1m-47 1h1m6 0h1m0 0h1m2 0h1m1 0h1m0 0h1m1 0h1m17 0h1m2 0h1m0 0h1m0 0h1m1 0h1m1 0h1m-50 1h1m15 0h1m3 0h1m19 0h1m0 0h1m0 0h1m0 0h1m0 0h1m0 0h1m1 0h1m0 0h1m-43 1h1m9 0h1m6 0h1m8 0h1m2 0h1m3 0h1m1 0h1m0 0h1m0 0h1m0 0h1m0 0h1m0 0h1m1 0h1m3 0h1m0 0h1m-49 1h1m1 0h1m13 0h1m13 0h1m3 0h1m0 0h1m2 0h1m0 0h1m2 0h1m0 0h1m0 0h1m0 0h1m0 0h1m2 0h1m2 0h1m-84 1h1m27 0h1m15 0h1m2 0h1m19 0h1m0 0h1m0 0h1m1 0h1m1 0h1m0 0h1m1 0h1m-29 1h1m3 0h1m14 0h1m1 0h1m0 0h1m0 0h1m2 0h1m0 0h1m-11 1h1m0 0h1m0 0h1m0 0h1m0 0h1m2 0h1m-40 1h1m1 0h1m2 0h1m26 0h1m2 0h1m0 0h1m1 0h1m0 0h1m0 0h1m0 0h1m0 0h1m-7 1h1m0 0h1m1 0h1m0 0h1m0 0h1m2 0h1m-43 1h1m30 0h1m1 0h1m2 0h1m1 0h1m0 0h1m-26 1h1m18 0h1m1 0h1m0 0h1m0 0h1m4 0h1m-36 1h1m4 0h1m19 0h1m0 0h1m0 0h1m0 0h1m0 0h1m0 0h1m0 0h1m0 0h1m4 0h1m-13 1h1m1 0h1m0 0h1m1 0h1m0 0h1m3 0h1m1 0h1m-14 1h1m6 0h1m-34 1h1m24 0h1m0 0h1m0 0h1m0 0h1m1 0h1m5 0h1" stroke="#000" stroke-opacity="0.7" stroke-width="1" fill="none"/>
<path transform="translate(0,0.5)" d="M287 35h1m2 0h1m-2 1h1m9 1h1m-7 7h1m-5 4h1m0 6h1m0 8h1m-3 3h1m-1 1h1m-2 1h1m2 0h1m-14 1h1m3 0h1m0 0h1m1 0h1m3 0h1m0 0h1m0 0h1m-10 1h1m0 0h1m0 0h1m0 0h1m0 0h1m0 0h1m0 0h1m0 0h1m1 0h1m-19 1h1m5 0h1m1 0h1m1 0h1m1 0h1m2 0h1m0 0h1m0 0h1m-14 1h1m1 0h1m1 0h1m1 0h1m1 0h1m1 0h1m-13 1h1m-3 1h1m0 0h1m-34 2h1m16 1h1m-10 1h1m4 0h1m5 0h1m-21 1h1m1 0h1m19 0h1m0 0h1m0 0h1m0 0h1m0 0h1m0 0h1m-36 1h1m12 0h1m2 0h1m1 0h1m3 0h1m0 0h1m2 0h1m0 0h1m0 0h1m0 0h1m0 0h1m1 0h1m0 0h1m0 0h1m-41 1h1m19 0h1m2 0h1m1 0h1m0 0h1m4 0h1m0 0h1m0 0h1m0 0h1m0 0h1m0 0h1m1 0h1m0 0h1m0 0h1m-32 1h1m4 0h1m2 0h1m5 0h1m0 0h1m0 0h1m1 0h1m0 0h1m0 0h1m0 0h1m0 0h1m0 0h1m0 0h1m0 0h1m0 0h1m0 0h1m0 0h1m0 0h1m0 0h1m-24 1h1m0 0h1m2 0h1m0 0h1m2 0h1m1 0h1m0 0h1m0 0h1m0 0h1m0 0h1m0 0h1m0 0h1m0 0h1m0 0h1m0 0h1m0 0h1m0 0h1m0 0h1m0 0h1m-27 1h1m10 0h1m0 0h1m0 0h1m1 0h1m4 0h1m1 0h1m0 0h1m0 0h1m1 0h1m-20 1h1m0 0h1m1 0h1m0 0h1m0 0h1m0 0h1m10 0h1m0 0h1m0 0h1m0 0h1m-21 1h1m0 0h1m0 0h1m0 0h1m0 0h1m0 0h1m-3 1h1m0 0h1m-7 1h1m1 0h1m1 0h1m0 0h1m0 0h1m39 0h1m-59 1h1m14 0h1m0 0h1m0 0h1m-6 1h1m3 0h1m0 0h1m0 0h1m38 0h1m-46 1h1m0 0h1m0 0h1m1 0h1m0 0h1m0 0h1m-3 1h1m0 0h1m0 0h1m0 0h1m12 0h1m0 0h1m1 0h1m20 0h1m-53 1h1m5 0h1m3 0h1m1 0h1m0 0h1m1 0h1m0 0h1m10 0h1m0 0h1m0 0h1m0 0h1m19 0h1m-41 1h1m3 0h1m0 0h1m0 0h1m1 0h1m1 0h1m3 0h1m1 0h1m0 0h1m0 0h1m0 0h1m0 0h1m0 0h1m-26 1h1m6 0h1m1 0h1m1 0h1m0 0h1m0 0h1m0 0h1m0 0h1m0 0h1m0 0h1m0 0h1m0 0h1m0 0h1m0 0h1m0 0h1m0 0h1m0 0h1m0 0h1m-23 1h1m2 0h1m2 0h1m0 0h1m0 0h1m0 0h1m1 0h1m0 0h1m0 0h1m0 0h1m0 0h1m0 0h1m0 0h1m1 0h1m1 0h1m-24 1h1m3 0h1m5 0h1m0 0h1m4 0h1m0 0h1m0 0h1m5 0h1m-29 1h1m11 0h1m0 0h1m4 0h1m1 0h1m0 0h1m5 0h1m19 0h1m-39 1h1m1 0h1m5 0h1m0 0h1m8 0h1m0 0h1m0 0h1m-34 1h1m14 0h1m1 0h1m2 0h1m0 0h1m9 0h1m0 0h1m18 0h1m-72 1h1m25 0h1m0 0h1m2 0h1m1 0h1m3 0h1m5 0h1m0 0h1m0 0h1m0 0h1m1 0h1m4 0h1m0 0h1m-22 1h1m6 0h1m0 0h1m1 0h1m2 0h1m8 0h1m16 0h1m0 0h1m-42 1h1m0 0h1m1 0h1m1 0h1m0 0h1m1 0h1m6 0h1m3 0h1m1 0h1m-29 1h1m1 0h1m11 0h1m0 0h1m3 0h1m1 0h1m0 0h1m4 0h1m1 0h1m14 0h1m-57 1h1m10 0h1m7 0h1m5 0h1m7 0h1m3 0h1m2 0h1m14 0h1m-48 1h1m9 0h1m5 0h1m2 0h1m0 0h1m3 0h1m2 0h1m0 0h1m1 0h1m0 0h1m16 0h1m-45 1h1m18 0h1m8 0h1m-34 1h1m5 0h1m5 0h1m8 0h1m2 0h1m3 0h1m0 0h1m0 0h1m4 0h1m1 0h1m1 0h1m7 0h1m1 0h1m-31 1h1m0 0h1m2 0h1m5 0h1m2 0h1m2 0h1m10 0h1m-34 1h1m13 0h1m12 0h1m-36 1h1m14 0h1m0 0h1m1 0h1m27 0h1m-55 1h1m6 0h1m1 0h1m7 0h1m0 0h1m3 0h1m2 0h1m4 0h1m15 0h1m1 0h1m1 0h1m0 0h1m-45 1h1m0 0h1m14 0h1m8 0h1m10 0h1m3 0h1m-43 1h1m4 0h1m2 0h1m2 0h1m1 0h1m11 0h1m11 0h1m0 0h1m0 0h1m2 0h1m2 0h1m-28 1h1m9 0h1m3 0h1m7 0h1m2 0h1m1 0h1m0 0h1m2 0h1m-41 1h1m3 0h1m2 0h1m3 0h1m9 0h1m6 0h1m2 0h1m0 0h1m0 0h1m0 0h1m0 0h1m1 0h1m0 0h1m-37 1h1m16 0h1m7 0h1m0 0h1m2 0h1m0 0h1m0 0h1m0 0h1m1 0h1m0 0h1m1 0h1m-55 1h1m26 0h1m16 0h1m1 0h1m0 0h1m1 0h1m0 0h1m0 0h1m0 0h1m1 0h1m-49 1h1m14 0h1m5 0h1m16 0h1m1 0h1m0 0h1m0 0h1m0 0h1m-29 1h1m19 0h1m6 0h1m0 0h1m1 0h1m1 0h1m0 0h1m-24 1h1m1 0h1m15 0h1m2 0h1m-37 1h1m9 0h1m16 0h1m2 0h1m0 0h1m0 0h1m1 0h1m1 0h1m-39 1h1m26 0h1m0 0h1m1 0h1m0 0h1m1 0h1m0 0h1m2 0h1m1 0h1m-9 1h1m3 0h1m0 0h1m-7 1h1m4 0h1m0 0h1m-45 1h1m37 0h1m12 0h1m-28 1h1m15 0h1m2 0h1m2 0h1m-50 1h1m16 0h1m22 0h1m1 0h1m3 0h1m-45 1h1m44 0h1m-41 1h1m39 0h1m3 0h1" stroke="#000" stroke-opacity="0.38" stroke-width="1" fill="none"/>
<ellipse cx="268.5" cy="130.3" rx="23.5" ry="3" fill="#000" fill-opacity="0.06" stroke="#000" stroke-opacity="0.4" stroke-width="0.5"/>
<ellipse cx="270.5" cy="130.3" rx="16.8" ry="2.2" fill="none" stroke="#000" stroke-opacity="0.3" stroke-width="0.5"/>
<ellipse cx="276" cy="130.4" rx="10" ry="2.8" fill="#000" fill-opacity="0.8" filter="url(#blur05)"/>
<path d="M250.8,86.6 251.2,85.5 251.6,84.9 252.2,84.2 253.1,83.8 254.4,83.2 255.3,82.9 256.3,82.8 257.5,82.9 259.1,83.1 260,83.3 261,83.5 261.9,83.8 263,84.2 263.9,84.3 265,84.5 266.4,84.5 268.3,84.5 269.2,84.9 269.8,85.7 270,86.9 270,88.8 269.6,89.7 268.8,90.4 267.6,90.6 265.7,90.7 264.6,90.9 263.4,91.2 262.4,91.6 261.1,92.2 260.3,92.6 259.3,92.8 258.2,93 256.8,93.1 255.9,93.1 254.9,93 254,92.7 252.9,92.1 252.2,91.7 251.6,91 251.2,90.2 250.7,89 250.6,88.3 250.6,87.4Z" fill="#fff" stroke="#444" stroke-width="0.6"/>
<path d="M253.6,87.2 253.8,86.6 254,86.3 254.4,85.9 254.8,85.7 255.6,85.3 256.1,85.2 256.6,85.1 257.3,85.2 258.1,85.3 258.7,85.4 259.2,85.5 259.7,85.7 260.3,85.9 260.8,86 261.4,86.1 262.1,86.1 263.2,86.1 263.7,86.3 264,86.7 264.1,87.4 264.1,88.4 263.9,88.9 263.5,89.3 262.9,89.4 261.8,89.5 261.2,89.6 260.5,89.7 260,90 259.3,90.3 258.8,90.5 258.2,90.7 257.7,90.7 256.9,90.8 256.4,90.8 255.9,90.7 255.4,90.6 254.7,90.3 254.4,90 254,89.7 253.8,89.2 253.6,88.6 253.5,88.2 253.5,87.7Z" fill="none" stroke="#666" stroke-width="0.5"/>
<path d="M266.4,83.9 266.7,82.1 267.3,80.4 268.3,78.7 269.5,77.4 271.2,76.2 272.9,74.9 274.7,73.9 277.1,73 279.7,72.3 281.4,72 283.6,71.5 285.6,71.2 287.3,71.1 288.4,71.3 289.5,71.8 289.9,72.7 290,74.5 289.6,77.3 289.2,79.2 288.7,81.7 288.3,83.3 287.8,85.5 287.2,87.7 286.6,89.3 286.1,90.9 285.4,92.9 284.8,94.7 284.2,96.3 283.4,98.3 282.6,100.2 281.7,102.1 280.5,104.3 279.6,106 278.3,108.1 277,109.4 275.5,109.4 274.1,107.7 273.3,106.2 272.2,104.2 271.2,102.1 270.2,99.8 269.5,97.6 268.9,95.6 268.3,93.5 267.7,91.8 267.2,90.6 266.6,88.9 266.2,87.7 266.1,86.2 266.2,84.7Z" fill="#fff"/>
<clipPath id="c1k"><path d="M266.4,83.9 266.7,82.1 267.3,80.4 268.3,78.7 269.5,77.4 271.2,76.2 272.9,74.9 274.7,73.9 277.1,73 279.7,72.3 281.4,72 283.6,71.5 285.6,71.2 287.3,71.1 288.4,71.3 289.5,71.8 289.9,72.7 290,74.5 289.6,77.3 289.2,79.2 288.7,81.7 288.3,83.3 287.8,85.5 287.2,87.7 286.6,89.3 286.1,90.9 285.4,92.9 284.8,94.7 284.2,96.3 283.4,98.3 282.6,100.2 281.7,102.1 280.5,104.3 279.6,106 278.3,108.1 277,109.4 275.5,109.4 274.1,107.7 273.3,106.2 272.2,104.2 271.2,102.1 270.2,99.8 269.5,97.6 268.9,95.6 268.3,93.5 267.7,91.8 267.2,90.6 266.6,88.9 266.2,87.7 266.1,86.2 266.2,84.7Z"/></clipPath>
<g clip-path="url(#c1k)">
<ellipse cx="279" cy="84" rx="13" ry="16.9" transform="rotate(-15 279 84)" fill="#000" fill-opacity="0.3" filter="url(#blur15)"/>
<ellipse cx="279" cy="84" rx="9" ry="12.5" transform="rotate(-15 279 84)" fill="#0a0a0a" fill-opacity="0.62" filter="url(#blur1)"/>
</g>
<path d="M267.6,83.4 267.9,81.8 268.4,80.2 269.3,78.7 270.4,77.5 271.9,76.4 273.5,75.3 275.2,74.3 277.3,73.5 279.7,72.9 281.3,72.6 283.2,72.2 285,71.9 286.6,71.8 287.6,71.9 288.6,72.4 289,73.2 289,74.9 288.7,77.4 288.3,79.1 287.9,81.4 287.5,82.8 287,84.8 286.5,86.8 286,88.3 285.5,89.8 284.9,91.6 284.3,93.2 283.8,94.7 283.1,96.5 282.3,98.2 281.5,99.9 280.4,101.9 279.6,103.5 278.4,105.4 277.2,106.6 275.9,106.6 274.6,105 273.9,103.6 272.9,101.9 272,100 271.1,97.9 270.4,95.9 269.9,94 269.3,92.2 268.8,90.6 268.4,89.5 267.8,88 267.5,86.8 267.4,85.5 267.5,84.2ZM268.8,82.9 269,81.5 269.5,80 270.3,78.7 271.3,77.6 272.7,76.6 274.1,75.6 275.6,74.7 277.5,74 279.7,73.4 281.1,73.1 282.8,72.8 284.5,72.5 285.9,72.5 286.8,72.6 287.7,73 288,73.7 288.1,75.3 287.8,77.5 287.4,79.1 287,81.1 286.7,82.4 286.3,84.2 285.8,86 285.3,87.4 284.9,88.6 284.4,90.3 283.8,91.7 283.4,93.1 282.7,94.7 282,96.3 281.3,97.8 280.3,99.6 279.5,101 278.5,102.8 277.4,103.8 276.2,103.8 275.1,102.4 274.4,101.1 273.6,99.6 272.7,97.8 271.9,96 271.3,94.1 270.8,92.5 270.3,90.8 269.8,89.4 269.5,88.4 268.9,87 268.6,86 268.6,84.8 268.7,83.6ZM269.9,82.4 270.2,81.2 270.6,79.9 271.3,78.7 272.2,77.7 273.4,76.8 274.7,75.9 276,75.1 277.7,74.5 279.6,74 280.9,73.7 282.5,73.4 284,73.2 285.2,73.1 286,73.2 286.8,73.6 287.1,74.3 287.2,75.6 286.9,77.6 286.6,79 286.2,80.8 286,82 285.6,83.6 285.1,85.2 284.7,86.4 284.3,87.6 283.8,89 283.4,90.3 282.9,91.5 282.4,93 281.8,94.4 281.1,95.7 280.3,97.3 279.5,98.6 278.6,100.2 277.6,101.1 276.6,101.1 275.6,99.8 275,98.7 274.2,97.3 273.4,95.8 272.7,94.1 272.2,92.5 271.8,91 271.3,89.5 270.9,88.2 270.5,87.3 270.1,86.1 269.8,85.2 269.7,84.1 269.8,83.1ZM271,82 271.2,80.8 271.6,79.7 272.2,78.7 273,77.8 274.1,77 275.2,76.2 276.4,75.5 277.9,75 279.6,74.5 280.7,74.3 282.1,74 283.4,73.8 284.5,73.7 285.3,73.8 286,74.1 286.2,74.8 286.3,75.9 286,77.7 285.8,78.9 285.4,80.5 285.2,81.6 284.8,83 284.4,84.4 284.1,85.5 283.8,86.5 283.3,87.8 282.9,89 282.5,90 282,91.3 281.5,92.5 280.9,93.7 280.2,95.1 279.5,96.3 278.7,97.6 277.9,98.5 276.9,98.4 276,97.3 275.5,96.4 274.8,95.1 274.1,93.8 273.5,92.3 273,90.8 272.7,89.5 272.3,88.2 271.9,87.1 271.6,86.3 271.2,85.2 270.9,84.4 270.9,83.5 270.9,82.5ZM272.1,81.5 272.3,80.5 272.6,79.5 273.2,78.6 273.9,77.9 274.8,77.2 275.8,76.5 276.8,75.9 278.1,75.4 279.6,75 280.6,74.8 281.8,74.6 282.9,74.4 283.9,74.3 284.5,74.4 285.2,74.7 285.4,75.2 285.4,76.3 285.2,77.8 285,78.9 284.7,80.3 284.5,81.2 284.2,82.4 283.8,83.7 283.5,84.6 283.2,85.5 282.8,86.6 282.5,87.6 282.2,88.5 281.7,89.6 281.2,90.7 280.7,91.8 280.1,93 279.5,94 278.8,95.2 278.1,95.9 277.3,95.9 276.5,94.9 276,94.1 275.4,93 274.8,91.8 274.3,90.5 273.9,89.3 273.5,88.1 273.2,87 272.9,86 272.6,85.3 272.2,84.4 272,83.7 272,82.8 272,82ZM273.2,81.1 273.3,80.3 273.6,79.4 274.1,78.6 274.7,78 275.5,77.4 276.3,76.8 277.2,76.3 278.3,75.8 279.6,75.5 280.4,75.3 281.5,75.1 282.4,75 283.3,74.9 283.8,75 284.4,75.2 284.5,75.7 284.6,76.6 284.4,77.9 284.2,78.8 283.9,80 283.8,80.8 283.5,81.9 283.2,82.9 282.9,83.7 282.7,84.5 282.4,85.5 282.1,86.3 281.8,87.1 281.4,88.1 281,89 280.5,89.9 280,90.9 279.5,91.8 278.9,92.8 278.3,93.4 277.6,93.4 276.9,92.6 276.5,91.9 276,90.9 275.5,89.9 275,88.8 274.7,87.7 274.4,86.8 274.1,85.8 273.8,84.9 273.6,84.3 273.3,83.5 273.1,82.9 273,82.2 273.1,81.5ZM274.2,80.7 274.3,80 274.5,79.3 274.9,78.6 275.4,78.1 276.1,77.5 276.8,77 277.6,76.6 278.5,76.3 279.6,76 280.3,75.8 281.2,75.7 282,75.5 282.7,75.5 283.1,75.6 283.6,75.8 283.7,76.1 283.8,76.9 283.6,78 283.4,78.8 283.2,79.8 283.1,80.4 282.9,81.3 282.6,82.2 282.4,82.9 282.2,83.5 281.9,84.3 281.7,85.1 281.4,85.7 281.1,86.5 280.8,87.3 280.4,88.1 279.9,89 279.5,89.7 279,90.5 278.5,91.1 277.9,91 277.3,90.4 277,89.7 276.6,89 276.1,88.1 275.7,87.2 275.4,86.3 275.2,85.4 274.9,84.6 274.7,83.9 274.5,83.4 274.3,82.7 274.1,82.2 274.1,81.6 274.1,81ZM275.1,80.3 275.2,79.7 275.4,79.1 275.8,78.6 276.2,78.1 276.7,77.7 277.3,77.3 277.9,77 278.7,76.7 279.6,76.4 280.1,76.3 280.9,76.2 281.5,76.1 282.1,76 282.5,76.1 282.8,76.3 283,76.6 283,77.2 282.9,78.1 282.7,78.7 282.6,79.5 282.4,80.1 282.3,80.8 282,81.5 281.9,82.1 281.7,82.6 281.5,83.3 281.3,83.9 281.1,84.4 280.8,85.1 280.5,85.7 280.2,86.3 279.8,87.1 279.5,87.7 279.1,88.4 278.7,88.8 278.2,88.8 277.7,88.2 277.4,87.7 277.1,87.1 276.7,86.4 276.4,85.6 276.2,84.9 276,84.2 275.8,83.5 275.6,82.9 275.4,82.5 275.2,82 275.1,81.6 275.1,81.1 275.1,80.6ZM276.1,79.9 276.1,79.5 276.3,79 276.6,78.6 276.9,78.2 277.3,77.9 277.8,77.6 278.2,77.3 278.9,77.1 279.6,76.9 280,76.8 280.6,76.7 281.1,76.6 281.5,76.6 281.8,76.6 282.1,76.7 282.2,77 282.2,77.5 282.1,78.2 282,78.7 281.9,79.3 281.8,79.8 281.7,80.3 281.5,80.9 281.4,81.3 281.2,81.7 281.1,82.3 280.9,82.7 280.7,83.2 280.5,83.7 280.3,84.2 280.1,84.7 279.8,85.3 279.5,85.7 279.2,86.3 278.8,86.6 278.5,86.6 278.1,86.2 277.9,85.8 277.6,85.3 277.3,84.7 277.1,84.1 276.9,83.5 276.7,83 276.6,82.4 276.4,82 276.3,81.7 276.1,81.2 276,80.9 276,80.5 276,80.1ZM276.9,79.6 277,79.2 277.1,78.9 277.3,78.5 277.5,78.3 277.9,78 278.2,77.8 278.6,77.6 279,77.4 279.5,77.3 279.9,77.2 280.3,77.1 280.7,77.1 281,77.1 281.2,77.1 281.5,77.2 281.5,77.4 281.6,77.7 281.5,78.3 281.4,78.6 281.3,79.1 281.2,79.4 281.1,79.9 281,80.3 280.9,80.6 280.8,80.9 280.7,81.3 280.5,81.7 280.4,82 280.3,82.4 280.1,82.8 279.9,83.1 279.7,83.6 279.5,83.9 279.3,84.3 279,84.6 278.7,84.6 278.4,84.2 278.3,83.9 278.1,83.6 277.9,83.1 277.7,82.7 277.5,82.3 277.4,81.9 277.3,81.5 277.2,81.1 277.1,80.9 277,80.5 276.9,80.3 276.9,80 276.9,79.7ZM277.7,79.2 277.8,79 277.8,78.8 278,78.5 278.2,78.4 278.4,78.2 278.6,78 278.9,77.9 279.2,77.8 279.5,77.7 279.8,77.6 280,77.6 280.3,77.5 280.6,77.5 280.7,77.5 280.9,77.6 280.9,77.7 280.9,78 280.9,78.3 280.8,78.6 280.7,78.9 280.7,79.1 280.6,79.4 280.5,79.7 280.5,80 280.4,80.2 280.3,80.4 280.2,80.7 280.1,80.9 280,81.2 279.9,81.4 279.8,81.7 279.6,82 279.5,82.2 279.3,82.5 279.2,82.7 279,82.7 278.8,82.4 278.7,82.2 278.5,82 278.4,81.7 278.3,81.4 278.2,81.1 278.1,80.8 278,80.5 277.9,80.3 277.8,80.1 277.8,79.9 277.7,79.7 277.7,79.5 277.7,79.3ZM278.5,78.9 278.5,78.8 278.5,78.6 278.6,78.5 278.7,78.4 278.8,78.3 279,78.2 279.1,78.1 279.3,78.1 279.5,78 279.7,78 279.8,77.9 280,77.9 280.1,77.9 280.2,77.9 280.3,78 280.3,78 280.3,78.2 280.3,78.4 280.3,78.6 280.2,78.8 280.2,78.9 280.2,79.1 280.1,79.2 280.1,79.4 280,79.5 280,79.6 279.9,79.8 279.9,79.9 279.8,80.1 279.7,80.2 279.7,80.4 279.6,80.6 279.5,80.7 279.4,80.9 279.3,81 279.2,81 279.1,80.8 279,80.7 278.9,80.6 278.8,80.4 278.8,80.2 278.7,80 278.7,79.9 278.6,79.7 278.6,79.6 278.5,79.5 278.5,79.3 278.4,79.2 278.4,79.1 278.4,79ZM279.1,78.7 279.1,78.6 279.1,78.6 279.1,78.5 279.2,78.5 279.2,78.4 279.3,78.4 279.3,78.4 279.4,78.3 279.5,78.3 279.6,78.3 279.6,78.3 279.7,78.3 279.8,78.3 279.8,78.3 279.8,78.3 279.8,78.3 279.8,78.4 279.8,78.5 279.8,78.5 279.8,78.6 279.8,78.7 279.8,78.7 279.7,78.8 279.7,78.9 279.7,78.9 279.7,79 279.7,79 279.7,79.1 279.6,79.1 279.6,79.2 279.6,79.3 279.5,79.3 279.5,79.4 279.5,79.5 279.4,79.5 279.4,79.5 279.3,79.4 279.3,79.4 279.3,79.3 279.2,79.3 279.2,79.2 279.2,79.1 279.2,79.1 279.1,79 279.1,78.9 279.1,78.9 279.1,78.8 279.1,78.8 279.1,78.8 279.1,78.7Z" fill="none" stroke="#000" stroke-opacity="0.72" stroke-width="0.5"/>
<path d="M266.4,83.9 266.6,83 266.7,82.1 266.9,81.3 267.3,80.4 267.6,79.7 268.3,78.7 268.7,78.2 269.5,77.4 270.3,76.8 271.2,76.2 272,75.5 272.9,74.9 273.9,74.3 274.7,73.9 276.1,73.3 277.1,73 278.4,72.6 279.7,72.3 280.6,72.1 281.4,72 282.3,71.8 283.6,71.5 284.8,71.3 285.6,71.2 286.7,71.1 287.3,71.1 287.9,71.2 288.4,71.3 289.2,71.5 289.5,71.8 289.8,72.2 289.9,72.7 290,73.7 290,74.5 289.8,75.8 289.6,77.3 289.4,78.2 289.2,79.2 289,80.1 288.7,81.7 288.5,82.5 288.3,83.3 288,84.5 287.8,85.5 287.5,86.4 287.2,87.7 286.9,88.5 286.6,89.3 286.4,90.1 286.1,90.9 285.8,91.9 285.4,92.9 285.1,93.9 284.8,94.7 284.5,95.5 284.2,96.3 283.9,97.1 283.4,98.3 283,99.2 282.6,100.2 282,101.3 281.7,102.1 281.3,102.9 280.5,104.3 280,105.2 279.6,106 279.1,106.9 278.3,108.1 277.5,109.1 277,109.4 276,109.6 275.5,109.4 274.8,108.7 274.1,107.7 273.7,106.9 273.3,106.2 272.9,105.4 272.2,104.2 271.6,103 271.2,102.1 270.6,100.7 270.2,99.8 269.8,98.7 269.5,97.6 269.2,96.6 268.9,95.6 268.6,94.6 268.3,93.5 268.1,92.9 267.7,91.8 267.5,91.3 267.2,90.6 267,90 266.6,88.9 266.4,88.3 266.2,87.7 266.2,87.2 266.1,86.2 266.2,85.6 266.2,84.7Z" fill="none" stroke="#000" stroke-opacity="0.75" stroke-width="0.55"/>
<ellipse cx="278.8" cy="82.5" rx="0.5" ry="1.0" fill="#fff" fill-opacity="0.75"/>
</g>
<path d="M202,125h-1.3M208.7,131.2v1.3M202,121.7h-1.3M212.3,131.2v1.3M202,119.3h-1.3M214.9,131.2v1.3M202,117.5h-1.3M216.8,131.2v1.3M202,116h-1.3M218.4,131.2v1.3M202,114.8h-1.3M219.8,131.2v1.3M202,113.7h-1.3M221,131.2v1.3M202,112.7h-1.3M222,131.2v1.3M202,106.2h-1.3M229.1,131.2v1.3M202,102.9h-1.3M232.7,131.2v1.3M202,100.6h-1.3M235.2,131.2v1.3M202,98.8h-1.3M237.2,131.2v1.3M202,97.3h-1.3M238.8,131.2v1.3M202,96h-1.3M240.1,131.2v1.3M202,94.9h-1.3M241.3,131.2v1.3M202,94h-1.3M242.4,131.2v1.3M202,87.5h-1.3M249.4,131.2v1.3M202,84.2h-1.3M253,131.2v1.3M202,81.9h-1.3M255.6,131.2v1.3M202,80h-1.3M257.5,131.2v1.3M202,78.6h-1.3M259.1,131.2v1.3M202,77.3h-1.3M260.5,131.2v1.3M202,76.2h-1.3M261.7,131.2v1.3M202,75.3h-1.3M262.7,131.2v1.3M202,68.8h-1.3M269.8,131.2v1.3M202,65.5h-1.3M273.4,131.2v1.3M202,63.1h-1.3M275.9,131.2v1.3M202,61.3h-1.3M277.9,131.2v1.3M202,59.8h-1.3M279.5,131.2v1.3M202,58.6h-1.3M280.8,131.2v1.3M202,57.5h-1.3M282,131.2v1.3M202,56.5h-1.3M283.1,131.2v1.3M202,50h-1.3M290.1,131.2v1.3M202,46.7h-1.3M293.7,131.2v1.3M202,44.4h-1.3M296.3,131.2v1.3M202,42.6h-1.3M298.2,131.2v1.3M202,41.1h-1.3M299.8,131.2v1.3M202,39.8h-1.3M301.2,131.2v1.3M202,38.7h-1.3M302.4,131.2v1.3M202,37.8h-1.3M303.4,131.2v1.3M202,31.3h-1.3M310.5,131.2v1.3M202,28h-1.3M314.1,131.2v1.3M202,25.7h-1.3M316.6,131.2v1.3M202,23.8h-1.3M318.6,131.2v1.3M202,22.4h-1.3M320.2,131.2v1.3M202,21.1h-1.3M321.5,131.2v1.3M202,20h-1.3M322.7,131.2v1.3M202,19.1h-1.3M323.8,131.2v1.3" stroke="#555" stroke-width="0.5" fill="none"/>
<path d="M202.6,130.6h-3M202.6,130.6v2.6M202.6,111.9h-3M222.9,130.6v2.6M202.6,93.1h-3M243.3,130.6v2.6M202.6,74.4h-3M263.6,130.6v2.6M202.6,55.7h-3M284,130.6v2.6M202.6,36.9h-3M304.4,130.6v2.6M202.6,18.2h-3M324.7,130.6v2.6" stroke="#111" stroke-width="0.9" fill="none"/>
<text x="197.6" y="132.6" font-size="8.3" text-anchor="end" font-family="'Liberation Sans', sans-serif" fill="#111" textLength="11.2" lengthAdjust="spacingAndGlyphs">10<tspan font-size="6.0" dy="-3.0">0</tspan></text>
<text x="197.6" y="113.9" font-size="8.3" text-anchor="end" font-family="'Liberation Sans', sans-serif" fill="#111" textLength="11.2" lengthAdjust="spacingAndGlyphs">10<tspan font-size="6.0" dy="-3.0">1</tspan></text>
<text x="197.6" y="95.1" font-size="8.3" text-anchor="end" font-family="'Liberation Sans', sans-serif" fill="#111" textLength="11.2" lengthAdjust="spacingAndGlyphs">10<tspan font-size="6.0" dy="-3.0">2</tspan></text>
<text x="197.6" y="76.4" font-size="8.3" text-anchor="end" font-family="'Liberation Sans', sans-serif" fill="#111" textLength="11.2" lengthAdjust="spacingAndGlyphs">10<tspan font-size="6.0" dy="-3.0">3</tspan></text>
<text x="197.6" y="57.7" font-size="8.3" text-anchor="end" font-family="'Liberation Sans', sans-serif" fill="#111" textLength="11.2" lengthAdjust="spacingAndGlyphs">10<tspan font-size="6.0" dy="-3.0">4</tspan></text>
<text x="197.6" y="38.9" font-size="8.3" text-anchor="end" font-family="'Liberation Sans', sans-serif" fill="#111" textLength="11.2" lengthAdjust="spacingAndGlyphs">10<tspan font-size="6.0" dy="-3.0">5</tspan></text>
<text x="197.6" y="21.8" font-size="8.3" text-anchor="end" font-family="'Liberation Sans', sans-serif" fill="#111" textLength="11.2" lengthAdjust="spacingAndGlyphs">10<tspan font-size="6.0" dy="-3.0">6</tspan></text>
<text x="208.3" y="141.6" font-size="8.3" text-anchor="middle" font-family="'Liberation Sans', sans-serif" fill="#111" textLength="11.2" lengthAdjust="spacingAndGlyphs">10<tspan font-size="6.0" dy="-3.0">0</tspan></text>
<text x="225.2" y="141.6" font-size="8.3" text-anchor="middle" font-family="'Liberation Sans', sans-serif" fill="#111" textLength="11.2" lengthAdjust="spacingAndGlyphs">10<tspan font-size="6.0" dy="-3.0">1</tspan></text>
<text x="244.8" y="141.6" font-size="8.3" text-anchor="middle" font-family="'Liberation Sans', sans-serif" fill="#111" textLength="11.2" lengthAdjust="spacingAndGlyphs">10<tspan font-size="6.0" dy="-3.0">2</tspan></text>
<text x="264.4" y="141.6" font-size="8.3" text-anchor="middle" font-family="'Liberation Sans', sans-serif" fill="#111" textLength="11.2" lengthAdjust="spacingAndGlyphs">10<tspan font-size="6.0" dy="-3.0">3</tspan></text>
<text x="284" y="141.6" font-size="8.3" text-anchor="middle" font-family="'Liberation Sans', sans-serif" fill="#111" textLength="11.2" lengthAdjust="spacingAndGlyphs">10<tspan font-size="6.0" dy="-3.0">4</tspan></text>
<text x="303.6" y="141.6" font-size="8.3" text-anchor="middle" font-family="'Liberation Sans', sans-serif" fill="#111" textLength="11.2" lengthAdjust="spacingAndGlyphs">10<tspan font-size="6.0" dy="-3.0">5</tspan></text>
<text x="323.2" y="141.6" font-size="8.3" text-anchor="middle" font-family="'Liberation Sans', sans-serif" fill="#111" textLength="11.2" lengthAdjust="spacingAndGlyphs">10<tspan font-size="6.0" dy="-3.0">6</tspan></text>
<rect x="202.6" y="18.2" width="122.1" height="112.4" fill="none" stroke="#000" stroke-width="1.35"/>
<rect x="237.5" y="42.5" width="32.9" height="26.4" fill="none" stroke="#111" stroke-width="1.4"/>
<text x="255.2" y="39.9" font-size="7.7" text-anchor="middle" font-family="'Liberation Sans', sans-serif" fill="#222">0,01</text>
<clipPath id="c2"><rect x="351.5" y="18.5" width="122.1" height="111.4"/></clipPath>
<g clip-path="url(#c2)">
<ellipse cx="403" cy="88.5" rx="8.5" ry="5.5" transform="rotate(-12 403 88.5)" fill="#000" fill-opacity="0.4" filter="url(#blur2)"/>
<ellipse cx="402" cy="105" rx="10" ry="8" transform="rotate(0 402 105)" fill="#000" fill-opacity="0.12" filter="url(#blur2)"/>
<ellipse cx="425" cy="118" rx="3.5" ry="7" transform="rotate(0 425 118)" fill="#000" fill-opacity="0.15" filter="url(#blur2)"/>
<path transform="translate(0,0.5)" d="M432 34h1m10 5h1m-4 1h1m-7 16h1m-19 1h1m23 0h1m0 6h1m-5 1h1m-47 2h1m48 0h1m0 0h1m-12 1h1m5 0h1m1 0h1m0 0h1m0 0h1m1 0h1m1 0h1m-18 1h1m3 0h1m1 0h1m0 0h1m2 0h1m1 0h1m2 0h1m0 0h1m3 0h1m-29 1h1m5 0h1m2 0h1m1 0h1m0 0h1m0 0h1m0 0h1m1 0h1m0 0h1m0 0h1m0 0h1m0 0h1m0 0h1m-66 1h1m33 0h1m9 0h1m3 0h1m3 0h1m11 0h1m2 0h1m-28 1h1m3 0h1m1 0h1m1 0h1m1 0h1m-29 1h1m11 0h1m6 0h1m1 0h1m0 0h1m0 0h1m0 0h1m-12 1h1m5 0h1m0 0h1m0 0h1m0 0h1m0 0h1m0 0h1m-18 1h1m9 0h1m2 0h1m0 0h1m0 0h1m0 0h1m-18 1h1m1 0h1m5 0h1m0 0h1m1 0h1m1 0h1m0 0h1m0 0h1m0 0h1m-7 1h1m1 0h1m0 0h1m0 0h1m1 0h1m-26 1h1m7 0h1m3 0h1m6 0h1m0 0h1m0 0h1m0 0h1m0 0h1m-16 1h1m0 0h1m3 0h1m2 0h1m0 0h1m0 0h1m0 0h1m0 0h1m0 0h1m-22 1h1m1 0h1m0 0h1m2 0h1m6 0h1m4 0h1m0 0h1m0 0h1m0 0h1m-37 1h1m18 0h1m2 0h1m1 0h1m0 0h1m0 0h1m4 0h1m0 0h1m0 0h1m0 0h1m0 0h1m0 0h1m-32 1h1m4 0h1m2 0h1m0 0h1m0 0h1m4 0h1m1 0h1m0 0h1m0 0h1m0 0h1m0 0h1m0 0h1m0 0h1m0 0h1m0 0h1m0 0h1m1 0h1m0 0h1m0 0h1m-23 1h1m0 0h1m1 0h1m1 0h1m0 0h1m0 0h1m0 0h1m0 0h1m0 0h1m2 0h1m2 0h1m1 0h1m0 0h1m1 0h1m0 0h1m-25 1h1m1 0h1m0 0h1m0 0h1m1 0h1m2 0h1m0 0h1m0 0h1m0 0h1m1 0h1m0 0h1m0 0h1m0 0h1m0 0h1m0 0h1m0 0h1m0 0h1m0 0h1m-27 1h1m3 0h1m1 0h1m0 0h1m0 0h1m0 0h1m1 0h1m0 0h1m0 0h1m0 0h1m0 0h1m0 0h1m0 0h1m1 0h1m0 0h1m0 0h1m0 0h1m1 0h1m0 0h1m0 0h1m-34 1h1m8 0h1m1 0h1m0 0h1m0 0h1m0 0h1m1 0h1m0 0h1m0 0h1m0 0h1m0 0h1m0 0h1m1 0h1m1 0h1m0 0h1m0 0h1m0 0h1m0 0h1m0 0h1m0 0h1m0 0h1m0 0h1m27 0h1m-57 1h1m2 0h1m0 0h1m0 0h1m0 0h1m1 0h1m0 0h1m0 0h1m0 0h1m0 0h1m0 0h1m0 0h1m0 0h1m0 0h1m1 0h1m0 0h1m1 0h1m0 0h1m0 0h1m1 0h1m0 0h1m0 0h1m-26 1h1m3 0h1m1 0h1m0 0h1m0 0h1m1 0h1m0 0h1m0 0h1m0 0h1m0 0h1m0 0h1m0 0h1m1 0h1m1 0h1m0 0h1m0 0h1m0 0h1m0 0h1m0 0h1m28 0h1m1 0h1m-57 1h1m6 0h1m1 0h1m1 0h1m0 0h1m0 0h1m1 0h1m0 0h1m0 0h1m0 0h1m0 0h1m0 0h1m0 0h1m0 0h1m0 0h1m0 0h1m0 0h1m-40 1h1m7 0h1m4 0h1m3 0h1m0 0h1m1 0h1m0 0h1m0 0h1m1 0h1m0 0h1m0 0h1m0 0h1m0 0h1m0 0h1m0 0h1m0 0h1m0 0h1m1 0h1m1 0h1m0 0h1m0 0h1m0 0h1m-33 1h1m14 0h1m0 0h1m0 0h1m1 0h1m0 0h1m0 0h1m0 0h1m0 0h1m0 0h1m0 0h1m0 0h1m0 0h1m0 0h1m0 0h1m0 0h1m0 0h1m29 0h1m-62 1h1m9 0h1m0 0h1m1 0h1m1 0h1m0 0h1m1 0h1m0 0h1m0 0h1m0 0h1m0 0h1m0 0h1m0 0h1m0 0h1m0 0h1m0 0h1m0 0h1m0 0h1m0 0h1m0 0h1m0 0h1m0 0h1m25 0h1m1 0h1m0 0h1m-63 1h1m4 0h1m1 0h1m0 0h1m0 0h1m1 0h1m0 0h1m1 0h1m2 0h1m0 0h1m0 0h1m0 0h1m1 0h1m0 0h1m0 0h1m0 0h1m0 0h1m0 0h1m0 0h1m0 0h1m0 0h1m0 0h1m0 0h1m0 0h1m28 0h1m-58 1h1m1 0h1m3 0h1m1 0h1m1 0h1m1 0h1m0 0h1m1 0h1m0 0h1m0 0h1m0 0h1m0 0h1m1 0h1m0 0h1m0 0h1m0 0h1m0 0h1m0 0h1m0 0h1m0 0h1m27 0h1m0 0h1m-58 1h1m0 0h1m0 0h1m0 0h1m3 0h1m0 0h1m0 0h1m1 0h1m0 0h1m0 0h1m0 0h1m0 0h1m0 0h1m0 0h1m1 0h1m0 0h1m0 0h1m0 0h1m0 0h1m0 0h1m0 0h1m0 0h1m0 0h1m0 0h1m0 0h1m24 0h1m-54 1h1m3 0h1m5 0h1m0 0h1m1 0h1m0 0h1m0 0h1m0 0h1m0 0h1m0 0h1m1 0h1m0 0h1m0 0h1m0 0h1m0 0h1m1 0h1m0 0h1m0 0h1m-31 1h1m2 0h1m0 0h1m3 0h1m0 0h1m0 0h1m2 0h1m0 0h1m1 0h1m0 0h1m0 0h1m0 0h1m0 0h1m1 0h1m1 0h1m1 0h1m0 0h1m0 0h1m0 0h1m24 0h1m0 0h1m-54 1h1m4 0h1m1 0h1m0 0h1m2 0h1m0 0h1m1 0h1m1 0h1m0 0h1m0 0h1m0 0h1m1 0h1m0 0h1m0 0h1m1 0h1m4 0h1m21 0h1m-60 1h1m6 0h1m6 0h1m3 0h1m0 0h1m0 0h1m2 0h1m1 0h1m0 0h1m1 0h1m1 0h1m4 0h1m-21 1h1m0 0h1m0 0h1m0 0h1m3 0h1m1 0h1m0 0h1m1 0h1m4 0h1m0 0h1m3 0h1m-37 1h1m3 0h1m2 0h1m3 0h1m0 0h1m0 0h1m2 0h1m2 0h1m3 0h1m0 0h1m1 0h1m1 0h1m5 0h1m21 0h1m0 0h1m-52 1h1m1 0h1m3 0h1m0 0h1m0 0h1m0 0h1m4 0h1m2 0h1m6 0h1m0 0h1m1 0h1m25 0h1m-62 1h1m7 0h1m2 0h1m0 0h1m0 0h1m3 0h1m0 0h1m2 0h1m1 0h1m0 0h1m2 0h1m0 0h1m0 0h1m4 0h1m1 0h1m0 0h1m0 0h1m-47 1h1m1 0h1m21 0h1m4 0h1m0 0h1m5 0h1m0 0h1m2 0h1m0 0h1m4 0h1m-51 1h1m5 0h1m13 0h1m1 0h1m2 0h1m1 0h1m4 0h1m7 0h1m2 0h1m5 0h1m0 0h1m-26 1h1m1 0h1m8 0h1m0 0h1m6 0h1m4 0h1m17 0h1m-46 1h1m9 0h1m2 0h1m0 0h1m1 0h1m0 0h1m0 0h1m5 0h1m3 0h1m3 0h1m-47 1h1m10 0h1m1 0h1m7 0h1m0 0h1m1 0h1m0 0h1m0 0h1m3 0h1m2 0h1m0 0h1m10 0h1m1 0h1m9 0h1m-58 1h1m0 0h1m8 0h1m10 0h1m1 0h1m3 0h1m1 0h1m5 0h1m2 0h1m1 0h1m0 0h1m2 0h1m13 0h1m0 0h1m-46 1h1m3 0h1m2 0h1m1 0h1m1 0h1m2 0h1m7 0h1m0 0h1m1 0h1m1 0h1m2 0h1m1 0h1m1 0h1m0 0h1m5 0h1m0 0h1m1 0h1m-47 1h1m0 0h1m6 0h1m0 0h1m10 0h1m3 0h1m1 0h1m8 0h1m0 0h1m8 0h1m0 0h1m-40 1h1m1 0h1m10 0h1m1 0h1m15 0h1m0 0h1m1 0h1m1 0h1m-34 1h1m1 0h1m6 0h1m0 0h1m0 0h1m1 0h1m4 0h1m0 0h1m1 0h1m1 0h1m1 0h1m2 0h1m0 0h1m0 0h1m0 0h1m0 0h1m0 0h1m0 0h1m0 0h1m-49 1h1m5 0h1m3 0h1m1 0h1m3 0h1m6 0h1m15 0h1m0 0h1m1 0h1m0 0h1m0 0h1m0 0h1m0 0h1m0 0h1m-40 1h1m0 0h1m2 0h1m3 0h1m2 0h1m4 0h1m2 0h1m9 0h1m0 0h1m0 0h1m0 0h1m0 0h1m0 0h1m0 0h1m0 0h1m0 0h1m1 0h1m4 0h1m-44 1h1m11 0h1m0 0h1m3 0h1m13 0h1m0 0h1m1 0h1m0 0h1m0 0h1m2 0h1m0 0h1m-31 1h1m2 0h1m0 0h1m6 0h1m1 0h1m2 0h1m1 0h1m1 0h1m0 0h1m0 0h1m0 0h1m1 0h1m0 0h1m0 0h1m0 0h1m1 0h1m0 0h1m-25 1h1m2 0h1m2 0h1m3 0h1m2 0h1m1 0h1m0 0h1m1 0h1m0 0h1m0 0h1m1 0h1m0 0h1m2 0h1m-45 1h1m4 0h1m4 0h1m4 0h1m5 0h1m8 0h1m0 0h1m0 0h1m0 0h1m0 0h1m0 0h1m0 0h1m0 0h1m0 0h1m0 0h1m0 0h1m-46 1h1m8 0h1m14 0h1m6 0h1m2 0h1m0 0h1m1 0h1m0 0h1m0 0h1m0 0h1m0 0h1m0 0h1m0 0h1m-51 1h1m22 0h1m0 0h1m7 0h1m8 0h1m1 0h1m1 0h1m0 0h1m2 0h1m0 0h1m0 0h1m0 0h1m-59 1h1m38 0h1m0 0h1m6 0h1m2 0h1m0 0h1m0 0h1m0 0h1m0 0h1m1 0h1m1 0h1m-39 1h1m5 0h1m4 0h1m4 0h1m6 0h1m3 0h1m0 0h1m0 0h1m1 0h1m0 0h1m0 0h1m1 0h1m0 0h1m0 0h1m0 0h1m-29 1h1m9 0h1m8 0h1m0 0h1m0 0h1m0 0h1m0 0h1m0 0h1m2 0h1m-37 1h1m4 0h1m21 0h1m1 0h1m2 0h1m1 0h1m2 0h1m-44 1h1m31 0h1m3 0h1m0 0h1m0 0h1m1 0h1m0 0h1m3 0h1m-18 1h1m8 0h1m0 0h1m0 0h1m-4 1h1m2 0h1m0 0h1m1 0h1m0 0h1m-9 1h1m3 0h1m0 0h1m-5 1h1m0 0h1m0 0h1m0 0h1m2 0h1m1 0h1" stroke="#000" stroke-opacity="0.72" stroke-width="1" fill="none"/>
<path transform="translate(0,0.5)" d="M436 32h1m-1 9h1m-3 3h1m-1 4h1m7 3h1m-65 2h1m49 0h1m6 0h1m0 3h1m4 3h1m-19 4h1m21 0h1m-44 1h1m37 1h1m-47 1h1m47 1h1m-15 1h1m0 0h1m2 0h1m3 0h1m2 0h1m2 0h1m-54 1h1m40 0h1m1 0h1m0 0h1m2 0h1m2 0h1m0 0h1m-15 1h1m0 0h1m0 0h1m1 0h1m15 0h1m-28 1h1m0 0h1m4 0h1m2 0h1m12 0h1m-21 1h1m3 0h1m-11 1h1m0 0h1m0 0h1m0 0h1m0 0h1m0 0h1m-25 1h1m2 0h1m14 0h1m0 0h1m1 0h1m0 0h1m0 0h1m0 0h1m-8 1h1m3 0h1m0 0h1m0 0h1m-37 1h1m15 0h1m11 0h1m3 0h1m0 0h1m0 0h1m0 0h1m-23 1h1m2 0h1m1 0h1m2 0h1m5 0h1m1 0h1m2 0h1m0 0h1m0 0h1m-13 1h1m2 0h1m0 0h1m1 0h1m0 0h1m1 0h1m0 0h1m-26 1h1m9 0h1m5 0h1m5 0h1m0 0h1m0 0h1m0 0h1m-16 1h1m8 0h1m3 0h1m0 0h1m-25 1h1m4 0h1m3 0h1m0 0h1m0 0h1m2 0h1m0 0h1m3 0h1m2 0h1m0 0h1m-21 1h1m0 0h1m1 0h1m1 0h1m0 0h1m1 0h1m0 0h1m0 0h1m2 0h1m0 0h1m3 0h1m0 0h1m1 0h1m-33 1h1m11 0h1m2 0h1m0 0h1m1 0h1m1 0h1m0 0h1m0 0h1m1 0h1m0 0h1m1 0h1m0 0h1m0 0h1m0 0h1m0 0h1m-28 1h1m3 0h1m0 0h1m3 0h1m0 0h1m1 0h1m0 0h1m0 0h1m0 0h1m1 0h1m1 0h1m1 0h1m0 0h1m0 0h1m1 0h1m-36 1h1m9 0h1m3 0h1m5 0h1m0 0h1m0 0h1m1 0h1m2 0h1m0 0h1m1 0h1m0 0h1m0 0h1m0 0h1m0 0h1m0 0h1m0 0h1m-23 1h1m2 0h1m4 0h1m3 0h1m1 0h1m0 0h1m0 0h1m0 0h1m0 0h1m1 0h1m0 0h1m-24 1h1m5 0h1m0 0h1m2 0h1m0 0h1m0 0h1m0 0h1m0 0h1m1 0h1m0 0h1m0 0h1m0 0h1m0 0h1m0 0h1m1 0h1m-24 1h1m0 0h1m1 0h1m2 0h1m0 0h1m0 0h1m2 0h1m0 0h1m0 0h1m1 0h1m0 0h1m1 0h1m0 0h1m0 0h1m0 0h1m31 0h1m-49 1h1m0 0h1m1 0h1m1 0h1m0 0h1m0 0h1m0 0h1m0 0h1m0 0h1m0 0h1m0 0h1m0 0h1m1 0h1m0 0h1m0 0h1m0 0h1m-24 1h1m1 0h1m0 0h1m0 0h1m0 0h1m1 0h1m0 0h1m0 0h1m0 0h1m0 0h1m3 0h1m0 0h1m0 0h1m3 0h1m0 0h1m0 0h1m-29 1h1m8 0h1m1 0h1m0 0h1m0 0h1m0 0h1m0 0h1m2 0h1m0 0h1m1 0h1m1 0h1m0 0h1m0 0h1m0 0h1m0 0h1m0 0h1m27 0h1m-52 1h1m3 0h1m1 0h1m0 0h1m1 0h1m1 0h1m0 0h1m1 0h1m0 0h1m0 0h1m2 0h1m1 0h1m0 0h1m0 0h1m0 0h1m-23 1h1m4 0h1m2 0h1m1 0h1m1 0h1m0 0h1m0 0h1m2 0h1m2 0h1m0 0h1m0 0h1m-21 1h1m0 0h1m1 0h1m3 0h1m0 0h1m1 0h1m0 0h1m0 0h1m0 0h1m4 0h1m0 0h1m0 0h1m0 0h1m-37 1h1m10 0h1m4 0h1m0 0h1m2 0h1m0 0h1m0 0h1m2 0h1m1 0h1m0 0h1m0 0h1m1 0h1m0 0h1m1 0h1m0 0h1m-26 1h1m0 0h1m6 0h1m8 0h1m2 0h1m0 0h1m0 0h1m0 0h1m0 0h1m0 0h1m0 0h1m-45 1h1m16 0h1m13 0h1m1 0h1m6 0h1m2 0h1m-36 1h1m11 0h1m1 0h1m5 0h1m4 0h1m0 0h1m2 0h1m-39 1h1m20 0h1m3 0h1m6 0h1m-9 1h1m1 0h1m1 0h1m8 0h1m3 0h1m2 0h1m-29 1h1m2 0h1m1 0h1m0 0h1m2 0h1m4 0h1m0 0h1m0 0h1m6 0h1m5 0h1m-34 1h1m8 0h1m3 0h1m1 0h1m1 0h1m0 0h1m0 0h1m0 0h1m9 0h1m0 0h1m22 0h1m1 0h1m-53 1h1m15 0h1m0 0h1m0 0h1m1 0h1m4 0h1m24 0h1m-36 1h1m0 0h1m0 0h1m1 0h1m2 0h1m0 0h1m3 0h1m22 0h1m-57 1h1m10 0h1m0 0h1m9 0h1m1 0h1m2 0h1m-33 1h1m5 0h1m11 0h1m2 0h1m1 0h1m7 0h1m1 0h1m-30 1h1m3 0h1m6 0h1m9 0h1m5 0h1m0 0h1m1 0h1m1 0h1m4 0h1m-43 1h1m6 0h1m11 0h1m6 0h1m0 0h1m7 0h1m7 0h1m-34 1h1m12 0h1m3 0h1m2 0h1m10 0h1m-44 1h1m9 0h1m6 0h1m0 0h1m9 0h1m1 0h1m3 0h1m2 0h1m1 0h1m0 0h1m8 0h1m0 0h1m7 0h1m-54 1h1m5 0h1m16 0h1m2 0h1m4 0h1m0 0h1m2 0h1m3 0h1m8 0h1m1 0h1m1 0h1m1 0h1m-60 1h1m12 0h1m1 0h1m9 0h1m9 0h1m7 0h1m0 0h1m8 0h1m0 0h1m1 0h1m0 0h1m0 0h1m0 0h1m-48 1h1m21 0h1m7 0h1m7 0h1m2 0h1m0 0h1m2 0h1m0 0h1m1 0h1m2 0h1m-38 1h1m6 0h1m1 0h1m6 0h1m0 0h1m1 0h1m0 0h1m1 0h1m4 0h1m1 0h1m1 0h1m2 0h1m0 0h1m-19 1h1m1 0h1m7 0h1m2 0h1m1 0h1m0 0h1m-19 1h1m10 0h1m3 0h1m0 0h1m0 0h1m-45 1h1m16 0h1m20 0h1m0 0h1m1 0h1m0 0h1m0 0h1m0 0h1m-28 1h1m1 0h1m14 0h1m0 0h1m2 0h1m0 0h1m1 0h1m0 0h1m0 0h1m0 0h1m2 0h1m-35 1h1m3 0h1m18 0h1m0 0h1m0 0h1m0 0h1m2 0h1m0 0h1m3 0h1m-38 1h1m2 0h1m4 0h1m3 0h1m11 0h1m3 0h1m0 0h1m1 0h1m0 0h1m0 0h1m0 0h1m-46 1h1m34 0h1m1 0h1m1 0h1m0 0h1m0 0h1m0 0h1m2 0h1m0 0h1m1 0h1m-12 1h1m0 0h1m0 0h1m1 0h1m3 0h1m0 0h1m-21 1h1m9 0h1m1 0h1m0 0h1m2 0h1m0 0h1m-17 1h1m12 0h1m0 0h1m1 0h1m0 0h1m-35 1h1m1 0h1m24 0h1m1 0h1m4 0h1m2 0h1m-10 1h1m1 0h1m1 0h1m0 0h1m1 0h1m-30 1h1m21 0h1m4 0h1m1 0h1m-38 1h1m33 0h1m-3 1h1m0 0h1m10 0h1m-61 1h1m43 0h1" stroke="#000" stroke-opacity="0.38" stroke-width="1" fill="none"/>
<ellipse cx="425" cy="130.3" rx="20" ry="3" fill="#000" fill-opacity="0.06" stroke="#000" stroke-opacity="0.4" stroke-width="0.5"/>
<ellipse cx="427" cy="130.3" rx="14.3" ry="2.2" fill="none" stroke="#000" stroke-opacity="0.3" stroke-width="0.5"/>
<ellipse cx="427" cy="130.4" rx="10" ry="2.8" fill="#000" fill-opacity="0.8" filter="url(#blur05)"/>
<path d="M414.8,82.8 416.1,81.2 417.6,79.2 419.4,77.3 420.5,76.2 422.2,74.9 424,74 425.8,73.1 427.5,72.5 429.4,71.9 431.3,71.5 433.2,71.1 435,70.9 436.5,70.9 437.5,71.2 438.7,71.8 439.4,72.5 439.7,74.1 439.7,76.2 439.4,78.5 439.1,80.3 438.6,83.4 438.2,85.5 437.7,87.7 437.2,89.3 436.8,90.9 436.1,92.9 435.6,94.7 435,96.3 434.2,98.3 433.2,100.2 432.1,102.1 431.2,103.6 430.2,104.9 429.2,106.3 427.7,108.1 426,109.4 424.3,109.4 422.8,107.7 421.9,106.2 420.8,104.3 419.6,102.2 418.4,100.2 417.4,98.4 416.6,96.7 415.7,95 414.8,93.4 414,92 413.3,90.5 412.6,89 412.5,87.4 413.2,85.3Z" fill="#fff"/>
<clipPath id="c2k"><path d="M414.8,82.8 416.1,81.2 417.6,79.2 419.4,77.3 420.5,76.2 422.2,74.9 424,74 425.8,73.1 427.5,72.5 429.4,71.9 431.3,71.5 433.2,71.1 435,70.9 436.5,70.9 437.5,71.2 438.7,71.8 439.4,72.5 439.7,74.1 439.7,76.2 439.4,78.5 439.1,80.3 438.6,83.4 438.2,85.5 437.7,87.7 437.2,89.3 436.8,90.9 436.1,92.9 435.6,94.7 435,96.3 434.2,98.3 433.2,100.2 432.1,102.1 431.2,103.6 430.2,104.9 429.2,106.3 427.7,108.1 426,109.4 424.3,109.4 422.8,107.7 421.9,106.2 420.8,104.3 419.6,102.2 418.4,100.2 417.4,98.4 416.6,96.7 415.7,95 414.8,93.4 414,92 413.3,90.5 412.6,89 412.5,87.4 413.2,85.3Z"/></clipPath>
<g clip-path="url(#c2k)">
<ellipse cx="429" cy="85" rx="13.8" ry="18.9" transform="rotate(-15 429 85)" fill="#000" fill-opacity="0.3" filter="url(#blur15)"/>
<ellipse cx="429" cy="85" rx="9.5" ry="14" transform="rotate(-15 429 85)" fill="#0a0a0a" fill-opacity="0.62" filter="url(#blur1)"/>
</g>
<path d="M416.2,82.3 417.3,80.9 418.7,79 420.3,77.3 421.4,76.3 422.9,75.2 424.5,74.3 426.1,73.5 427.6,72.9 429.4,72.4 431.2,72 432.8,71.7 434.5,71.5 435.8,71.5 436.8,71.7 437.9,72.3 438.5,73 438.8,74.4 438.7,76.3 438.5,78.4 438.2,80.1 437.8,82.8 437.4,84.8 436.9,86.7 436.5,88.2 436.1,89.7 435.5,91.5 435,93.1 434.5,94.6 433.8,96.4 432.9,98.1 431.9,99.8 431,101.2 430.1,102.4 429.2,103.6 427.9,105.3 426.3,106.5 424.8,106.5 423.4,104.9 422.6,103.5 421.6,101.8 420.5,100 419.4,98.1 418.5,96.4 417.8,95 416.9,93.4 416.1,91.9 415.4,90.6 414.7,89.3 414.1,88 414.1,86.5 414.7,84.5ZM417.5,81.8 418.5,80.5 419.8,78.9 421.2,77.3 422.2,76.4 423.6,75.4 425,74.6 426.4,73.9 427.8,73.4 429.4,72.9 431,72.5 432.5,72.3 434,72.1 435.2,72.1 436,72.3 437.1,72.8 437.6,73.4 437.9,74.7 437.8,76.4 437.6,78.3 437.4,79.8 437,82.3 436.6,84.1 436.2,85.8 435.8,87.2 435.4,88.5 434.9,90.1 434.5,91.6 434,92.9 433.3,94.5 432.6,96.1 431.6,97.6 430.9,98.8 430.1,99.9 429.3,101 428.1,102.6 426.7,103.6 425.2,103.6 424,102.2 423.3,101 422.3,99.4 421.4,97.8 420.4,96.1 419.6,94.6 418.9,93.2 418.2,91.8 417.5,90.5 416.8,89.3 416.2,88.1 415.6,86.9 415.6,85.6 416.2,83.9ZM418.8,81.4 419.7,80.2 420.8,78.7 422.1,77.3 423,76.5 424.2,75.6 425.5,74.9 426.8,74.3 428,73.8 429.4,73.4 430.8,73.1 432.2,72.9 433.5,72.7 434.6,72.7 435.3,72.9 436.3,73.3 436.8,73.9 437,75 436.9,76.5 436.7,78.2 436.5,79.6 436.2,81.8 435.8,83.4 435.5,84.9 435.1,86.1 434.8,87.3 434.4,88.8 434,90.1 433.5,91.2 432.9,92.7 432.2,94.1 431.4,95.5 430.7,96.5 430,97.5 429.3,98.5 428.2,99.9 427,100.8 425.7,100.8 424.6,99.6 423.9,98.5 423.1,97.1 422.3,95.6 421.4,94.1 420.7,92.7 420,91.6 419.4,90.3 418.7,89.1 418.2,88.1 417.6,87 417.1,85.9 417.1,84.7 417.6,83.2ZM420,80.9 420.8,79.9 421.8,78.6 422.9,77.3 423.7,76.6 424.8,75.8 425.9,75.2 427.1,74.7 428.2,74.2 429.4,73.9 430.7,73.6 431.9,73.4 433,73.3 434,73.3 434.7,73.4 435.5,73.8 435.9,74.3 436.1,75.3 436.1,76.7 435.9,78.1 435.7,79.3 435.4,81.3 435.1,82.7 434.8,84.1 434.5,85.1 434.2,86.1 433.8,87.4 433.4,88.6 433.1,89.6 432.5,90.9 431.9,92.2 431.2,93.4 430.6,94.3 429.9,95.2 429.3,96.1 428.4,97.3 427.3,98.1 426.1,98.1 425.2,97 424.6,96 423.9,94.8 423.1,93.5 422.4,92.2 421.7,91 421.1,89.9 420.6,88.8 420,87.8 419.5,86.8 419,85.9 418.6,84.9 418.5,83.9 419,82.5ZM421.2,80.5 421.9,79.6 422.8,78.5 423.8,77.4 424.5,76.8 425.4,76.1 426.4,75.5 427.4,75 428.3,74.7 429.4,74.3 430.5,74.1 431.6,73.9 432.6,73.8 433.4,73.8 434,73.9 434.7,74.3 435.1,74.7 435.3,75.6 435.2,76.8 435.1,78.1 434.9,79.1 434.6,80.8 434.4,82 434.1,83.2 433.8,84.2 433.6,85 433.2,86.2 432.9,87.2 432.6,88.1 432.1,89.2 431.6,90.3 431,91.3 430.4,92.2 429.9,92.9 429.3,93.7 428.5,94.8 427.5,95.5 426.6,95.5 425.7,94.5 425.2,93.6 424.6,92.6 423.9,91.4 423.3,90.3 422.7,89.2 422.2,88.3 421.7,87.4 421.2,86.4 420.8,85.6 420.4,84.8 420,84 419.9,83.1 420.3,81.9ZM422.4,80.1 423,79.3 423.8,78.3 424.6,77.4 425.2,76.9 426,76.3 426.8,75.8 427.7,75.4 428.5,75.1 429.4,74.8 430.4,74.6 431.3,74.4 432.2,74.3 432.9,74.3 433.4,74.4 434,74.7 434.3,75.1 434.4,75.9 434.4,76.9 434.3,78 434.1,78.9 433.9,80.3 433.7,81.4 433.4,82.4 433.2,83.2 433,84 432.7,84.9 432.4,85.8 432.2,86.6 431.8,87.5 431.3,88.5 430.8,89.4 430.3,90.1 429.8,90.8 429.4,91.4 428.7,92.3 427.8,92.9 427,92.9 426.2,92.1 425.8,91.4 425.3,90.4 424.7,89.5 424.2,88.5 423.7,87.6 423.3,86.8 422.8,86 422.4,85.2 422,84.5 421.6,83.8 421.3,83.1 421.3,82.3 421.6,81.2ZM423.5,79.7 424,79 424.7,78.2 425.4,77.4 425.9,77 426.5,76.5 427.3,76.1 428,75.7 428.7,75.5 429.4,75.2 430.2,75 431,74.9 431.7,74.8 432.3,74.8 432.7,74.9 433.3,75.2 433.5,75.5 433.6,76.1 433.6,77 433.5,77.9 433.4,78.7 433.2,79.9 433,80.8 432.8,81.6 432.6,82.3 432.4,82.9 432.2,83.8 432,84.5 431.7,85.1 431.4,85.9 431,86.7 430.6,87.5 430.2,88.1 429.8,88.6 429.4,89.2 428.8,89.9 428.1,90.5 427.4,90.5 426.8,89.8 426.4,89.1 425.9,88.4 425.5,87.6 425,86.7 424.6,86 424.2,85.3 423.9,84.6 423.5,84 423.2,83.4 422.9,82.8 422.6,82.2 422.6,81.5 422.9,80.7ZM424.6,79.3 425,78.7 425.6,78.1 426.1,77.4 426.5,77.1 427.1,76.6 427.7,76.3 428.3,76.1 428.8,75.8 429.5,75.6 430.1,75.5 430.7,75.4 431.3,75.3 431.8,75.3 432.2,75.4 432.6,75.6 432.8,75.9 432.9,76.4 432.9,77.1 432.8,77.8 432.7,78.4 432.5,79.5 432.4,80.2 432.2,80.9 432.1,81.4 431.9,81.9 431.7,82.6 431.5,83.2 431.3,83.7 431.1,84.4 430.7,85 430.4,85.7 430.1,86.2 429.7,86.6 429.4,87.1 428.9,87.7 428.3,88.1 427.8,88.1 427.3,87.5 427,87 426.6,86.4 426.2,85.7 425.8,85 425.5,84.4 425.2,83.9 424.9,83.3 424.6,82.8 424.4,82.3 424.1,81.8 423.9,81.3 423.9,80.8 424.1,80.1ZM425.7,78.9 426,78.5 426.4,77.9 426.8,77.4 427.2,77.2 427.6,76.8 428.1,76.6 428.5,76.4 429,76.2 429.5,76 430,75.9 430.5,75.8 430.9,75.8 431.3,75.8 431.6,75.8 431.9,76 432.1,76.2 432.2,76.6 432.2,77.2 432.1,77.8 432,78.2 431.9,79 431.8,79.6 431.6,80.2 431.5,80.6 431.4,81 431.2,81.5 431.1,82 430.9,82.4 430.7,83 430.5,83.5 430.2,83.9 429.9,84.3 429.7,84.7 429.4,85 429,85.5 428.6,85.9 428.1,85.9 427.7,85.4 427.5,85 427.2,84.5 426.9,84 426.6,83.5 426.3,83 426.1,82.5 425.9,82.1 425.6,81.7 425.4,81.3 425.2,80.9 425.1,80.5 425,80.1 425.2,79.5ZM426.6,78.5 426.9,78.2 427.2,77.8 427.5,77.5 427.7,77.2 428.1,77 428.4,76.8 428.8,76.6 429.1,76.5 429.5,76.4 429.9,76.3 430.2,76.3 430.6,76.2 430.9,76.2 431.1,76.3 431.3,76.4 431.4,76.5 431.5,76.8 431.5,77.2 431.4,77.7 431.4,78.1 431.3,78.7 431.2,79.1 431.1,79.5 431,79.8 430.9,80.1 430.8,80.5 430.7,80.9 430.6,81.2 430.4,81.6 430.2,82 430,82.3 429.8,82.6 429.6,82.9 429.4,83.1 429.2,83.5 428.8,83.8 428.5,83.8 428.2,83.4 428,83.1 427.8,82.8 427.6,82.4 427.3,82 427.1,81.6 427,81.3 426.8,80.9 426.6,80.6 426.5,80.3 426.3,80.1 426.2,79.8 426.2,79.4 426.3,79ZM427.5,78.2 427.7,78 427.9,77.7 428.1,77.5 428.3,77.3 428.5,77.2 428.8,77 429,76.9 429.2,76.8 429.5,76.7 429.7,76.7 430,76.6 430.2,76.6 430.4,76.6 430.6,76.6 430.7,76.7 430.8,76.8 430.9,77 430.9,77.3 430.8,77.6 430.8,77.9 430.7,78.3 430.7,78.6 430.6,78.9 430.5,79.1 430.5,79.3 430.4,79.6 430.3,79.8 430.2,80 430.1,80.3 430,80.6 429.9,80.8 429.7,81 429.6,81.2 429.5,81.4 429.3,81.6 429,81.8 428.8,81.8 428.6,81.6 428.5,81.4 428.3,81.1 428.2,80.8 428,80.6 427.9,80.3 427.8,80.1 427.6,79.9 427.5,79.6 427.4,79.5 427.3,79.3 427.2,79.1 427.2,78.8 427.3,78.5ZM428.3,77.9 428.4,77.8 428.6,77.6 428.7,77.5 428.8,77.4 428.9,77.3 429.1,77.2 429.2,77.2 429.3,77.1 429.5,77.1 429.6,77 429.8,77 429.9,77 430.1,77 430.1,77 430.2,77 430.3,77.1 430.3,77.2 430.3,77.4 430.3,77.6 430.3,77.7 430.2,78 430.2,78.1 430.1,78.3 430.1,78.4 430.1,78.6 430,78.7 430,78.9 429.9,79 429.9,79.2 429.8,79.3 429.7,79.5 429.6,79.6 429.6,79.7 429.5,79.8 429.4,79.9 429.2,80 429.1,80 429,79.9 428.9,79.8 428.8,79.6 428.7,79.5 428.6,79.3 428.5,79.2 428.5,79 428.4,78.9 428.3,78.8 428.3,78.7 428.2,78.5 428.2,78.4 428.1,78.3 428.2,78.1ZM429,77.7 429.1,77.6 429.1,77.6 429.2,77.5 429.2,77.5 429.3,77.4 429.3,77.4 429.4,77.4 429.4,77.3 429.5,77.3 429.6,77.3 429.6,77.3 429.7,77.3 429.7,77.3 429.8,77.3 429.8,77.3 429.8,77.3 429.8,77.4 429.8,77.5 429.8,77.5 429.8,77.6 429.8,77.7 429.8,77.8 429.8,77.8 429.7,77.9 429.7,77.9 429.7,78 429.7,78.1 429.7,78.1 429.7,78.2 429.6,78.2 429.6,78.3 429.6,78.3 429.5,78.4 429.5,78.4 429.4,78.5 429.4,78.5 429.3,78.5 429.3,78.5 429.3,78.4 429.2,78.4 429.2,78.3 429.1,78.2 429.1,78.2 429.1,78.1 429.1,78.1 429,78 429,78 429,77.9 429,77.9 429,77.8 429,77.8Z" fill="none" stroke="#000" stroke-opacity="0.72" stroke-width="0.5"/>
<path d="M414.8,82.8 415.4,82 416.1,81.2 416.7,80.4 417.6,79.2 418.6,78 419.4,77.3 420,76.7 420.5,76.2 421.3,75.6 422.2,74.9 423.1,74.4 424,74 424.9,73.6 425.8,73.1 426.7,72.7 427.5,72.5 428.6,72.1 429.4,71.9 430.4,71.6 431.3,71.5 432.3,71.3 433.2,71.1 434.1,71 435,70.9 435.6,70.9 436.5,70.9 436.9,71 437.5,71.2 438,71.3 438.7,71.8 439.1,72.1 439.4,72.5 439.6,73.1 439.7,74.1 439.7,74.9 439.7,76.2 439.5,77.6 439.4,78.5 439.2,79.4 439.1,80.3 438.9,81.8 438.6,83.4 438.4,84.5 438.2,85.5 437.9,86.5 437.7,87.7 437.4,88.5 437.2,89.3 437,90.1 436.8,90.9 436.5,91.9 436.1,92.9 435.8,93.9 435.6,94.7 435.3,95.5 435,96.3 434.7,97.1 434.2,98.3 433.7,99.2 433.2,100.2 432.6,101.3 432.1,102.1 431.6,102.9 431.2,103.6 430.7,104.3 430.2,104.9 429.7,105.6 429.2,106.3 428.7,106.9 427.7,108.1 426.7,109.1 426,109.4 424.9,109.6 424.3,109.4 423.5,108.7 422.8,107.7 422.3,106.9 421.9,106.2 421.4,105.4 420.8,104.3 420.1,103.1 419.6,102.2 418.9,101 418.4,100.2 417.9,99.2 417.4,98.4 417,97.6 416.6,96.7 416.1,95.9 415.7,95 415.3,94.4 414.8,93.4 414.5,92.8 414,92 413.6,91.2 413.3,90.5 412.9,89.8 412.6,89 412.4,88.1 412.5,87.4 412.9,86.1 413.2,85.3 414,84Z" fill="none" stroke="#000" stroke-opacity="0.75" stroke-width="0.55"/>
<ellipse cx="428" cy="81.5" rx="0.5" ry="1.0" fill="#fff" fill-opacity="0.75"/>
</g>
<path d="M350.2,124.9h-1.3M357,131.2v1.3M350.2,121.6h-1.3M360.6,131.2v1.3M350.2,119.3h-1.3M363.2,131.2v1.3M350.2,117.5h-1.3M365.2,131.2v1.3M350.2,116h-1.3M366.8,131.2v1.3M350.2,114.7h-1.3M368.2,131.2v1.3M350.2,113.6h-1.3M369.4,131.2v1.3M350.2,112.7h-1.3M370.4,131.2v1.3M350.2,106.1h-1.3M377.6,131.2v1.3M350.2,102.8h-1.3M381.2,131.2v1.3M350.2,100.5h-1.3M383.8,131.2v1.3M350.2,98.7h-1.3M385.8,131.2v1.3M350.2,97.2h-1.3M387.4,131.2v1.3M350.2,95.9h-1.3M388.8,131.2v1.3M350.2,94.8h-1.3M390,131.2v1.3M350.2,93.9h-1.3M391,131.2v1.3M350.2,87.3h-1.3M398.2,131.2v1.3M350.2,84h-1.3M401.8,131.2v1.3M350.2,81.7h-1.3M404.4,131.2v1.3M350.2,79.9h-1.3M406.4,131.2v1.3M350.2,78.4h-1.3M408,131.2v1.3M350.2,77.1h-1.3M409.4,131.2v1.3M350.2,76h-1.3M410.6,131.2v1.3M350.2,75.1h-1.3M411.6,131.2v1.3M350.2,68.5h-1.3M418.7,131.2v1.3M350.2,65.2h-1.3M422.4,131.2v1.3M350.2,62.9h-1.3M424.9,131.2v1.3M350.2,61.1h-1.3M426.9,131.2v1.3M350.2,59.6h-1.3M428.6,131.2v1.3M350.2,58.3h-1.3M429.9,131.2v1.3M350.2,57.2h-1.3M431.1,131.2v1.3M350.2,56.3h-1.3M432.2,131.2v1.3M350.2,49.7h-1.3M439.3,131.2v1.3M350.2,46.4h-1.3M443,131.2v1.3M350.2,44.1h-1.3M445.5,131.2v1.3M350.2,42.3h-1.3M447.5,131.2v1.3M350.2,40.8h-1.3M449.2,131.2v1.3M350.2,39.5h-1.3M450.5,131.2v1.3M350.2,38.4h-1.3M451.7,131.2v1.3M350.2,37.5h-1.3M452.8,131.2v1.3M350.2,30.9h-1.3M459.9,131.2v1.3M350.2,27.6h-1.3M463.5,131.2v1.3M350.2,25.3h-1.3M466.1,131.2v1.3M350.2,23.5h-1.3M468.1,131.2v1.3M350.2,22h-1.3M469.7,131.2v1.3M350.2,20.7h-1.3M471.1,131.2v1.3M350.2,19.6h-1.3M472.3,131.2v1.3M350.2,18.7h-1.3M473.4,131.2v1.3" stroke="#555" stroke-width="0.5" fill="none"/>
<path d="M350.8,130.6h-3M350.8,130.6v2.6M350.8,111.8h-3M371.4,130.6v2.6M350.8,93h-3M392,130.6v2.6M350.8,74.2h-3M412.6,130.6v2.6M350.8,55.4h-3M433.1,130.6v2.6M350.8,36.6h-3M453.7,130.6v2.6M350.8,17.8h-3M474.3,130.6v2.6" stroke="#111" stroke-width="0.9" fill="none"/>
<text x="345.8" y="132.6" font-size="8.3" text-anchor="end" font-family="'Liberation Sans', sans-serif" fill="#111" textLength="11.2" lengthAdjust="spacingAndGlyphs">10<tspan font-size="6.0" dy="-3.0">0</tspan></text>
<text x="345.8" y="113.8" font-size="8.3" text-anchor="end" font-family="'Liberation Sans', sans-serif" fill="#111" textLength="11.2" lengthAdjust="spacingAndGlyphs">10<tspan font-size="6.0" dy="-3.0">1</tspan></text>
<text x="345.8" y="95" font-size="8.3" text-anchor="end" font-family="'Liberation Sans', sans-serif" fill="#111" textLength="11.2" lengthAdjust="spacingAndGlyphs">10<tspan font-size="6.0" dy="-3.0">2</tspan></text>
<text x="345.8" y="76.2" font-size="8.3" text-anchor="end" font-family="'Liberation Sans', sans-serif" fill="#111" textLength="11.2" lengthAdjust="spacingAndGlyphs">10<tspan font-size="6.0" dy="-3.0">3</tspan></text>
<text x="345.8" y="57.4" font-size="8.3" text-anchor="end" font-family="'Liberation Sans', sans-serif" fill="#111" textLength="11.2" lengthAdjust="spacingAndGlyphs">10<tspan font-size="6.0" dy="-3.0">4</tspan></text>
<text x="345.8" y="38.6" font-size="8.3" text-anchor="end" font-family="'Liberation Sans', sans-serif" fill="#111" textLength="11.2" lengthAdjust="spacingAndGlyphs">10<tspan font-size="6.0" dy="-3.0">5</tspan></text>
<text x="345.8" y="21.4" font-size="8.3" text-anchor="end" font-family="'Liberation Sans', sans-serif" fill="#111" textLength="11.2" lengthAdjust="spacingAndGlyphs">10<tspan font-size="6.0" dy="-3.0">6</tspan></text>
<text x="356.5" y="141.6" font-size="8.3" text-anchor="middle" font-family="'Liberation Sans', sans-serif" fill="#111" textLength="11.2" lengthAdjust="spacingAndGlyphs">10<tspan font-size="6.0" dy="-3.0">0</tspan></text>
<text x="373.4" y="141.6" font-size="8.3" text-anchor="middle" font-family="'Liberation Sans', sans-serif" fill="#111" textLength="11.2" lengthAdjust="spacingAndGlyphs">10<tspan font-size="6.0" dy="-3.0">1</tspan></text>
<text x="393" y="141.6" font-size="8.3" text-anchor="middle" font-family="'Liberation Sans', sans-serif" fill="#111" textLength="11.2" lengthAdjust="spacingAndGlyphs">10<tspan font-size="6.0" dy="-3.0">2</tspan></text>
<text x="412.6" y="141.6" font-size="8.3" text-anchor="middle" font-family="'Liberation Sans', sans-serif" fill="#111" textLength="11.2" lengthAdjust="spacingAndGlyphs">10<tspan font-size="6.0" dy="-3.0">3</tspan></text>
<text x="432.2" y="141.6" font-size="8.3" text-anchor="middle" font-family="'Liberation Sans', sans-serif" fill="#111" textLength="11.2" lengthAdjust="spacingAndGlyphs">10<tspan font-size="6.0" dy="-3.0">4</tspan></text>
<text x="451.8" y="141.6" font-size="8.3" text-anchor="middle" font-family="'Liberation Sans', sans-serif" fill="#111" textLength="11.2" lengthAdjust="spacingAndGlyphs">10<tspan font-size="6.0" dy="-3.0">5</tspan></text>
<text x="471.4" y="141.6" font-size="8.3" text-anchor="middle" font-family="'Liberation Sans', sans-serif" fill="#111" textLength="11.2" lengthAdjust="spacingAndGlyphs">10<tspan font-size="6.0" dy="-3.0">6</tspan></text>
<rect x="350.8" y="17.8" width="123.5" height="112.8" fill="none" stroke="#000" stroke-width="1.35"/>
<rect x="386.5" y="42.2" width="33.1" height="26.7" fill="none" stroke="#111" stroke-width="1.4"/>
<text x="404.9" y="39.8" font-size="7.7" text-anchor="middle" font-family="'Liberation Sans', sans-serif" fill="#222">0.02</text>
<clipPath id="c3"><rect x="204.5" y="152.7" width="120.1" height="108.6"/></clipPath>
<g clip-path="url(#c3)">
<ellipse cx="257.5" cy="191.5" rx="11" ry="7" transform="rotate(-45 257.5 191.5)" fill="#000" fill-opacity="0.15" filter="url(#blur2)"/>
<ellipse cx="250" cy="224" rx="7" ry="12" transform="rotate(0 250 224)" fill="#000" fill-opacity="0.12" filter="url(#blur2)"/>
<path transform="translate(0,0.5)" d="M276 155h1m1 3h1m-11 10h1m7 2h1m3 0h1m-3 2h1m1 0h1m3 1h1m-6 1h1m5 0h1m0 0h1m-72 1h1m66 0h1m2 0h1m-48 1h1m15 0h1m23 0h1m-12 1h1m1 0h1m11 0h1m-10 1h1m1 0h1m-29 1h1m0 0h1m5 0h1m7 0h1m7 0h1m17 0h1m-36 1h1m3 0h1m6 0h1m15 0h1m3 0h1m-29 1h1m2 0h1m0 0h1m0 0h1m0 0h1m0 0h1m0 0h1m1 0h1m0 0h1m3 0h1m7 0h1m1 0h1m4 0h1m-44 1h1m0 0h1m12 0h1m0 0h1m1 0h1m0 0h1m0 0h1m0 0h1m0 0h1m0 0h1m0 0h1m-11 1h1m2 0h1m0 0h1m0 0h1m1 0h1m0 0h1m0 0h1m0 0h1m0 0h1m0 0h1m5 0h1m0 0h1m7 0h1m0 0h1m-48 1h1m16 0h1m0 0h1m0 0h1m2 0h1m0 0h1m4 0h1m0 0h1m0 0h1m0 0h1m2 0h1m6 0h1m7 0h1m-42 1h1m2 0h1m1 0h1m1 0h1m1 0h1m1 0h1m0 0h1m9 0h1m0 0h1m0 0h1m2 0h1m5 0h1m2 0h1m2 0h1m-47 1h1m1 0h1m3 0h1m3 0h1m2 0h1m1 0h1m0 0h1m1 0h1m11 0h1m1 0h1m0 0h1m3 0h1m0 0h1m2 0h1m1 0h1m0 0h1m-66 1h1m13 0h1m4 0h1m8 0h1m0 0h1m1 0h1m1 0h1m0 0h1m0 0h1m0 0h1m14 0h1m2 0h1m5 0h1m2 0h1m5 0h1m-37 1h1m0 0h1m15 0h1m0 0h1m0 0h1m0 0h1m4 0h1m10 0h1m-55 1h1m6 0h1m6 0h1m0 0h1m2 0h1m1 0h1m14 0h1m0 0h1m0 0h1m0 0h1m2 0h1m11 0h1m-38 1h1m0 0h1m0 0h1m0 0h1m0 0h1m14 0h1m0 0h1m1 0h1m0 0h1m7 0h1m-44 1h1m9 0h1m3 0h1m15 0h1m1 0h1m17 0h1m-53 1h1m7 0h1m2 0h1m20 0h1m1 0h1m-20 1h1m15 0h1m0 0h1m-41 1h1m15 0h1m1 0h1m0 0h1m2 0h1m0 0h1m0 0h1m17 0h1m0 0h1m1 0h1m10 0h1m-46 1h1m8 0h1m1 0h1m0 0h1m14 0h1m1 0h1m2 0h1m0 0h1m10 0h1m2 0h1m-47 1h1m3 0h1m1 0h1m3 0h1m0 0h1m13 0h1m0 0h1m0 0h1m0 0h1m0 0h1m-31 1h1m0 0h1m1 0h1m7 0h1m0 0h1m12 0h1m1 0h1m11 0h1m8 0h1m-49 1h1m0 0h1m2 0h1m3 0h1m2 0h1m0 0h1m0 0h1m9 0h1m0 0h1m0 0h1m1 0h1m0 0h1m1 0h1m12 0h1m3 0h1m1 0h1m1 0h1m-70 1h1m20 0h1m2 0h1m0 0h1m1 0h1m0 0h1m2 0h1m0 0h1m0 0h1m3 0h1m2 0h1m0 0h1m0 0h1m0 0h1m1 0h1m1 0h1m0 0h1m0 0h1m10 0h1m1 0h1m-44 1h1m8 0h1m0 0h1m0 0h1m0 0h1m0 0h1m0 0h1m1 0h1m0 0h1m2 0h1m0 0h1m0 0h1m1 0h1m0 0h1m2 0h1m2 0h1m0 0h1m5 0h1m12 0h1m-57 1h1m0 0h1m3 0h1m3 0h1m0 0h1m1 0h1m0 0h1m0 0h1m0 0h1m1 0h1m0 0h1m0 0h1m0 0h1m0 0h1m1 0h1m1 0h1m1 0h1m0 0h1m0 0h1m1 0h1m0 0h1m0 0h1m0 0h1m1 0h1m0 0h1m16 0h1m6 0h1m0 0h1m0 0h1m-60 1h1m0 0h1m0 0h1m3 0h1m0 0h1m0 0h1m0 0h1m0 0h1m1 0h1m1 0h1m0 0h1m0 0h1m1 0h1m0 0h1m0 0h1m0 0h1m0 0h1m1 0h1m0 0h1m6 0h1m1 0h1m25 0h1m-84 1h1m12 0h1m11 0h1m3 0h1m0 0h1m0 0h1m2 0h1m0 0h1m0 0h1m0 0h1m0 0h1m0 0h1m0 0h1m0 0h1m2 0h1m0 0h1m0 0h1m0 0h1m0 0h1m1 0h1m2 0h1m1 0h1m1 0h1m20 0h1m-63 1h1m2 0h1m5 0h1m1 0h1m0 0h1m1 0h1m0 0h1m0 0h1m0 0h1m1 0h1m0 0h1m0 0h1m1 0h1m0 0h1m3 0h1m0 0h1m3 0h1m1 0h1m2 0h1m23 0h1m0 0h1m1 0h1m-64 1h1m0 0h1m1 0h1m8 0h1m0 0h1m0 0h1m0 0h1m2 0h1m0 0h1m1 0h1m1 0h1m3 0h1m1 0h1m2 0h1m0 0h1m0 0h1m29 0h1m-66 1h1m1 0h1m3 0h1m0 0h1m0 0h1m0 0h1m1 0h1m1 0h1m0 0h1m2 0h1m1 0h1m1 0h1m0 0h1m1 0h1m0 0h1m0 0h1m1 0h1m0 0h1m0 0h1m0 0h1m36 0h1m-74 1h1m6 0h1m11 0h1m1 0h1m1 0h1m0 0h1m0 0h1m0 0h1m1 0h1m1 0h1m4 0h1m0 0h1m0 0h1m-37 1h1m4 0h1m9 0h1m1 0h1m1 0h1m2 0h1m1 0h1m1 0h1m0 0h1m3 0h1m0 0h1m2 0h1m-38 1h1m6 0h1m2 0h1m5 0h1m3 0h1m1 0h1m0 0h1m2 0h1m0 0h1m1 0h1m1 0h1m0 0h1m1 0h1m0 0h1m0 0h1m32 0h1m0 0h1m-76 1h1m7 0h1m8 0h1m1 0h1m0 0h1m8 0h1m0 0h1m2 0h1m3 0h1m0 0h1m0 0h1m0 0h1m-41 1h1m12 0h1m3 0h1m3 0h1m0 0h1m0 0h1m0 0h1m0 0h1m3 0h1m1 0h1m0 0h1m2 0h1m0 0h1m3 0h1m-39 1h1m1 0h1m0 0h1m21 0h1m0 0h1m1 0h1m0 0h1m1 0h1m0 0h1m1 0h1m0 0h1m-20 1h1m1 0h1m1 0h1m3 0h1m2 0h1m3 0h1m0 0h1m0 0h1m0 0h1m0 0h1m-19 1h1m2 0h1m2 0h1m0 0h1m0 0h1m2 0h1m2 0h1m0 0h1m0 0h1m2 0h1m-46 1h1m24 0h1m0 0h1m0 0h1m2 0h1m1 0h1m0 0h1m0 0h1m0 0h1m0 0h1m0 0h1m0 0h1m1 0h1m0 0h1m0 0h1m0 0h1m-33 1h1m14 0h1m0 0h1m5 0h1m5 0h1m1 0h1m0 0h1m-23 1h1m11 0h1m3 0h1m0 0h1m0 0h1m0 0h1m1 0h1m-35 1h1m9 0h1m5 0h1m2 0h1m6 0h1m0 0h1m0 0h1m1 0h1m0 0h1m-15 1h1m0 0h1m1 0h1m0 0h1m1 0h1m1 0h1m1 0h1m0 0h1m1 0h1m0 0h1m0 0h1m-29 1h1m6 0h1m4 0h1m6 0h1m3 0h1m1 0h1m0 0h1m0 0h1m0 0h1m-16 1h1m3 0h1m0 0h1m5 0h1m1 0h1m0 0h1m0 0h1m40 0h1m-78 1h1m19 0h1m5 0h1m2 0h1m0 0h1m0 0h1m0 0h1m0 0h1m0 0h1m0 0h1m39 0h1m-63 1h1m7 0h1m6 0h1m1 0h1m2 0h1m1 0h1m-24 1h1m8 0h1m3 0h1m0 0h1m3 0h1m1 0h1m1 0h1m0 0h1m0 0h1m0 0h1m0 0h1m0 0h1m35 0h1m-69 1h1m13 0h1m0 0h1m5 0h1m3 0h1m0 0h1m0 0h1m0 0h1m0 0h1m0 0h1m0 0h1m0 0h1m0 0h1m0 0h1m-28 1h1m15 0h1m1 0h1m1 0h1m1 0h1m0 0h1m1 0h1m0 0h1m0 0h1m0 0h1m1 0h1m-33 1h1m3 0h1m6 0h1m1 0h1m2 0h1m0 0h1m1 0h1m0 0h1m2 0h1m0 0h1m0 0h1m0 0h1m0 0h1m0 0h1m0 0h1m0 0h1m0 0h1m0 0h1m0 0h1m0 0h1m27 0h1m-54 1h1m3 0h1m6 0h1m1 0h1m1 0h1m0 0h1m0 0h1m0 0h1m2 0h1m1 0h1m0 0h1m1 0h1m1 0h1m-40 1h1m13 0h1m1 0h1m0 0h1m3 0h1m0 0h1m0 0h1m0 0h1m0 0h1m0 0h1m0 0h1m0 0h1m1 0h1m0 0h1m4 0h1m1 0h1m0 0h1m25 0h1m-53 1h1m2 0h1m1 0h1m0 0h1m1 0h1m1 0h1m2 0h1m0 0h1m0 0h1m1 0h1m6 0h1m0 0h1m0 0h1m-52 1h1m17 0h1m6 0h1m3 0h1m0 0h1m6 0h1m0 0h1m4 0h1m1 0h1m0 0h1m0 0h1m0 0h1m0 0h1m0 0h1m0 0h1m0 0h1m0 0h1m-22 1h1m0 0h1m4 0h1m1 0h1m0 0h1m1 0h1m2 0h1m2 0h1m0 0h1m1 0h1m0 0h1m-28 1h1m2 0h1m8 0h1m0 0h1m12 0h1m22 0h1m0 0h1m-56 1h1m8 0h1m0 0h1m1 0h1m2 0h1m1 0h1m4 0h1m6 0h1m1 0h1m1 0h1m20 0h1m-45 1h1m1 0h1m1 0h1m0 0h1m0 0h1m1 0h1m1 0h1m6 0h1m5 0h1m0 0h1m-49 1h1m21 0h1m1 0h1m6 0h1m0 0h1m0 0h1m0 0h1m7 0h1m-7 1h1m5 0h1m1 0h1m0 0h1m0 0h1m0 0h1m-40 1h1m21 0h1m3 0h1m0 0h1m31 0h1m-46 1h1m3 0h1m1 0h1m7 0h1m0 0h1m28 0h1m-56 1h1m19 0h1m3 0h1m10 0h1m-23 1h1m4 0h1m10 0h1m-20 1h1m0 0h1m14 0h1m2 0h1m25 0h1m-40 1h1m1 0h1m5 0h1m-22 1h1m6 0h1m14 0h1m7 0h1m-10 1h1m12 0h1m16 0h1m-53 1h1m4 1h1m9 0h1m-5 1h1m-4 1h1m10 1h1m-8 1h1m28 0h1m0 0h1m7 0h1m-28 1h1m25 0h1m0 0h1m-58 1h1m44 0h1m4 0h1m0 0h1m0 0h1m5 0h1m-35 1h1m26 0h1m1 0h1m1 0h1m-44 1h1m9 0h1m28 0h1m0 0h1m0 0h1m0 0h1m2 0h1m-38 1h1m1 0h1m25 0h1m3 0h1m0 0h1m0 0h1m1 0h1m-35 1h1m26 0h1m0 0h1m3 0h1m0 0h1m0 0h1m-7 1h1m0 0h1m1 0h1m0 0h1m-27 1h1m18 0h1m4 0h1m0 1h1m1 0h1m-27 1h1m17 0h1m1 0h1m1 0h1" stroke="#000" stroke-opacity="0.7" stroke-width="1" fill="none"/>
<path transform="translate(0,0.5)" d="M253 164h1m16 5h1m8 3h1m2 0h1m2 0h1m-18 1h1m9 0h1m1 2h1m-6 1h1m10 1h1m-7 1h1m-26 1h1m-9 1h1m7 0h1m0 0h1m7 0h1m0 0h1m-10 1h1m1 0h1m2 0h1m1 0h1m1 0h1m0 0h1m15 0h1m-43 1h1m14 0h1m4 0h1m0 0h1m0 0h1m1 0h1m0 0h1m2 0h1m9 0h1m-40 1h1m13 0h1m3 0h1m1 0h1m2 0h1m1 0h1m0 0h1m4 0h1m8 0h1m1 0h1m-51 1h1m22 0h1m1 0h1m0 0h1m7 0h1m0 0h1m3 0h1m10 0h1m2 0h1m-34 1h1m0 0h1m0 0h1m0 0h1m0 0h1m11 0h1m2 0h1m1 0h1m3 0h1m-26 1h1m0 0h1m1 0h1m11 0h1m0 0h1m8 0h1m11 0h1m-44 1h1m1 0h1m4 0h1m13 0h1m0 0h1m1 0h1m5 0h1m15 0h1m-48 1h1m1 0h1m1 0h1m1 0h1m16 0h1m-35 1h1m12 0h1m4 0h1m15 0h1m-20 1h1m1 0h1m0 0h1m14 0h1m3 0h1m10 0h1m0 0h1m-37 1h1m0 0h1m0 0h1m0 0h1m0 0h1m26 0h1m7 0h1m1 0h1m-41 1h1m1 0h1m26 0h1m-28 1h1m14 0h1m0 0h1m1 0h1m13 0h1m2 0h1m-40 1h1m2 0h1m21 0h1m12 0h1m-44 1h1m4 0h1m0 0h1m18 0h1m2 0h1m0 0h1m8 0h1m-38 1h1m3 0h1m16 0h1m0 0h1m11 0h1m4 0h1m-38 1h1m0 0h1m0 0h1m0 0h1m1 0h1m0 0h1m11 0h1m1 0h1m0 0h1m2 0h1m6 0h1m0 0h1m-42 1h1m9 0h1m1 0h1m1 0h1m0 0h1m9 0h1m1 0h1m1 0h1m0 0h1m4 0h1m-61 1h1m15 0h1m6 0h1m1 0h1m2 0h1m6 0h1m0 0h1m0 0h1m2 0h1m0 0h1m0 0h1m5 0h1m0 0h1m0 0h1m0 0h1m3 0h1m1 0h1m0 0h1m0 0h1m-34 1h1m2 0h1m10 0h1m0 0h1m0 0h1m0 0h1m1 0h1m1 0h1m1 0h1m7 0h1m1 0h1m-35 1h1m4 0h1m2 0h1m4 0h1m0 0h1m0 0h1m0 0h1m0 0h1m0 0h1m0 0h1m2 0h1m0 0h1m0 0h1m1 0h1m4 0h1m1 0h1m0 0h1m2 0h1m-56 1h1m15 0h1m7 0h1m1 0h1m4 0h1m2 0h1m1 0h1m1 0h1m0 0h1m2 0h1m1 0h1m1 0h1m1 0h1m4 0h1m19 0h1m-52 1h1m3 0h1m0 0h1m1 0h1m0 0h1m0 0h1m3 0h1m0 0h1m1 0h1m2 0h1m0 0h1m1 0h1m0 0h1m0 0h1m30 0h1m-57 1h1m0 0h1m4 0h1m0 0h1m0 0h1m6 0h1m0 0h1m0 0h1m1 0h1m6 0h1m1 0h1m0 0h1m26 0h1m1 0h1m-72 1h1m1 0h1m5 0h1m2 0h1m0 0h1m1 0h1m3 0h1m4 0h1m1 0h1m1 0h1m6 0h1m1 0h1m1 0h1m0 0h1m1 0h1m27 0h1m-60 1h1m4 0h1m1 0h1m3 0h1m0 0h1m0 0h1m1 0h1m0 0h1m5 0h1m2 0h1m2 0h1m0 0h1m30 0h1m0 0h1m3 0h1m-60 1h1m3 0h1m1 0h1m2 0h1m0 0h1m1 0h1m0 0h1m1 0h1m2 0h1m0 0h1m3 0h1m-23 1h1m0 0h1m1 0h1m1 0h1m2 0h1m1 0h1m0 0h1m1 0h1m-23 1h1m10 0h1m5 0h1m0 0h1m0 0h1m0 0h1m1 0h1m0 0h1m2 0h1m0 0h1m-42 1h1m11 0h1m4 0h1m15 0h1m0 0h1m1 0h1m1 0h1m0 0h1m-34 1h1m11 0h1m9 0h1m0 0h1m2 0h1m0 0h1m2 0h1m3 0h1m-17 1h1m3 0h1m3 0h1m0 0h1m2 0h1m0 0h1m0 0h1m1 0h1m-18 1h1m2 0h1m1 0h1m1 0h1m0 0h1m1 0h1m1 0h1m0 0h1m0 0h1m2 0h1m-20 1h1m10 0h1m-33 1h1m28 0h1m1 0h1m3 0h1m1 0h1m-32 1h1m2 0h1m1 0h1m14 0h1m0 0h1m1 0h1m2 0h1m0 0h1m-19 1h1m3 0h1m12 0h1m0 0h1m-31 1h1m0 0h1m7 0h1m11 0h1m0 0h1m2 0h1m1 0h1m0 0h1m1 0h1m0 0h1m-11 1h1m0 0h1m2 0h1m0 0h1m0 0h1m2 0h1m-19 1h1m2 0h1m12 0h1m0 0h1m0 0h1m-24 1h1m8 0h1m3 0h1m1 0h1m4 0h1m0 0h1m0 0h1m39 0h1m0 0h1m-47 1h1m0 0h1m1 0h1m0 0h1m0 0h1m-9 1h1m0 0h1m4 0h1m-10 1h1m0 0h1m4 0h1m2 0h1m0 0h1m0 0h1m0 0h1m1 0h1m-13 1h1m4 0h1m4 0h1m0 0h1m37 0h1m0 0h1m-49 1h1m3 0h1m0 0h1m6 0h1m0 0h1m3 0h1m-19 1h1m3 0h1m4 0h1m2 0h1m0 0h1m1 0h1m0 0h1m0 0h1m4 0h1m25 0h1m0 0h1m-63 1h1m2 0h1m9 0h1m7 0h1m0 0h1m3 0h1m1 0h1m2 0h1m0 0h1m27 0h1m-64 1h1m15 0h1m7 0h1m1 0h1m4 0h1m1 0h1m2 0h1m-43 1h1m26 0h1m0 0h1m8 0h1m4 0h1m0 0h1m0 0h1m1 0h1m-32 1h1m6 0h1m2 0h1m0 0h1m0 0h1m3 0h1m0 0h1m2 0h1m10 0h1m22 0h1m-53 1h1m2 0h1m3 0h1m3 0h1m2 0h1m12 0h1m1 0h1m-12 1h1m1 0h1m10 0h1m-36 1h1m9 0h1m4 0h1m10 0h1m2 0h1m0 0h1m-10 1h1m1 0h1m0 0h1m9 0h1m-25 1h1m4 0h1m-10 1h1m13 0h1m7 0h1m4 0h1m-26 1h1m9 0h1m13 0h1m-12 1h1m-4 1h1m6 0h1m3 0h1m-27 2h1m14 0h1m9 0h1m-24 1h1m6 0h1m5 0h1m2 1h1m0 0h1m-12 2h1m39 0h1m-59 1h1m13 0h1m9 0h1m13 0h1m-17 1h1m8 1h1m24 1h1m0 0h1m-14 1h1m5 0h1m-31 1h1m28 0h1m6 0h1m-61 1h1m22 0h1m30 0h1m0 0h1m0 1h1m0 0h1m0 0h1m0 0h1m0 0h1m-46 1h1m17 0h1m20 0h1m2 0h1m1 0h1m-6 1h1m0 0h1m3 0h1m-37 1h1m3 1h1m26 0h1m0 0h1m1 0h1m-25 1h1m21 0h1m0 0h1m-2 1h1m2 0h1" stroke="#000" stroke-opacity="0.38" stroke-width="1" fill="none"/>
<ellipse cx="275" cy="261.7" rx="25" ry="3" fill="#000" fill-opacity="0.06" stroke="#000" stroke-opacity="0.4" stroke-width="0.5"/>
<ellipse cx="277" cy="261.7" rx="17.9" ry="2.2" fill="none" stroke="#000" stroke-opacity="0.3" stroke-width="0.5"/>
<ellipse cx="279" cy="261.8" rx="10" ry="2.8" fill="#000" fill-opacity="0.8" filter="url(#blur05)"/>
<path d="M264.8,184.9 265.3,185.7 265.5,186.5 265.6,187.5 265.5,188.6 265.2,189.7 264.7,190.9 264,192.1 263.2,193.3 262.2,194.4 261.1,195.5 259.9,196.5 258.7,197.3 257.4,198.1 256.1,198.6 254.9,199 253.7,199.2 252.7,199.2 251.7,199 250.9,198.6 250.2,198.1 249.7,197.3 249.5,196.5 249.4,195.5 249.5,194.4 249.8,193.3 250.3,192.1 251,190.9 251.8,189.7 252.8,188.6 253.9,187.5 255.1,186.5 256.3,185.7 257.6,184.9 258.9,184.4 260.1,184 261.3,183.8 262.3,183.8 263.3,184 264.1,184.4Z" fill="#fff" stroke="#444" stroke-width="0.6"/>
<path d="M261.5,187.9 261.8,188.3 261.9,188.8 262,189.3 261.9,189.9 261.7,190.5 261.5,191.2 261.1,191.8 260.6,192.5 260.1,193.1 259.5,193.7 258.8,194.2 258.2,194.7 257.5,195.1 256.8,195.4 256.1,195.6 255.4,195.7 254.8,195.7 254.3,195.6 253.9,195.4 253.5,195.1 253.2,194.7 253.1,194.2 253,193.7 253.1,193.1 253.3,192.5 253.5,191.8 253.9,191.2 254.4,190.5 254.9,189.9 255.5,189.3 256.2,188.8 256.8,188.3 257.5,187.9 258.2,187.6 258.9,187.4 259.6,187.3 260.2,187.3 260.7,187.4 261.1,187.6Z" fill="none" stroke="#666" stroke-width="0.5"/>
<path d="M255.4,216.8 257.1,215.2 258.8,213.6 260.5,212.1 262.1,210.7 263.8,209.3 265.4,207.8 267,206.7 268.7,205.6 270.4,204.8 272.1,204.2 273.9,203.6 275.9,203.2 277.8,203 280,202.9 282.2,202.9 284,203 285.8,203.2 287.3,203.7 289.1,204.4 290,205.3 290.5,206.8 290.5,208.9 290.3,211.1 290,213.6 289.7,215.8 289.3,218 288.9,220 288.4,221.9 288,223.8 287.6,225.6 287.1,227.6 286.7,229.5 286.1,232 285.5,234.3 285,236 284.4,238.3 283.9,240.1 283.1,242.9 282.5,244.7 282,246.3 281.2,248.5 280.6,250.5 279.7,251.9 278.8,251.9 277.7,250.6 276.7,248.7 275.9,247 274.7,244.3 273.8,242.4 273,240.5 271.8,237.6 271.1,235.8 270.2,233.6 269.1,231.3 268,229.2 266.8,227.6 265.7,226.2 264.5,225 263.2,224.2 262,224 260,224.1 258.5,224 257.2,223.6 256.1,222.9 254.5,221.4 253.7,220.2 253.8,218.9 254.7,217.5Z" fill="#fff"/>
<clipPath id="c3k"><path d="M255.4,216.8 257.1,215.2 258.8,213.6 260.5,212.1 262.1,210.7 263.8,209.3 265.4,207.8 267,206.7 268.7,205.6 270.4,204.8 272.1,204.2 273.9,203.6 275.9,203.2 277.8,203 280,202.9 282.2,202.9 284,203 285.8,203.2 287.3,203.7 289.1,204.4 290,205.3 290.5,206.8 290.5,208.9 290.3,211.1 290,213.6 289.7,215.8 289.3,218 288.9,220 288.4,221.9 288,223.8 287.6,225.6 287.1,227.6 286.7,229.5 286.1,232 285.5,234.3 285,236 284.4,238.3 283.9,240.1 283.1,242.9 282.5,244.7 282,246.3 281.2,248.5 280.6,250.5 279.7,251.9 278.8,251.9 277.7,250.6 276.7,248.7 275.9,247 274.7,244.3 273.8,242.4 273,240.5 271.8,237.6 271.1,235.8 270.2,233.6 269.1,231.3 268,229.2 266.8,227.6 265.7,226.2 264.5,225 263.2,224.2 262,224 260,224.1 258.5,224 257.2,223.6 256.1,222.9 254.5,221.4 253.7,220.2 253.8,218.9 254.7,217.5Z"/></clipPath>
<g clip-path="url(#c3k)">
<ellipse cx="279.5" cy="219" rx="12.8" ry="18.2" transform="rotate(-10 279.5 219)" fill="#000" fill-opacity="0.3" filter="url(#blur15)"/>
<ellipse cx="279.5" cy="219" rx="8.8" ry="13.5" transform="rotate(-10 279.5 219)" fill="#0a0a0a" fill-opacity="0.62" filter="url(#blur1)"/>
</g>
<path d="M257.8,216.5 259.3,215.1 260.8,213.7 262.4,212.2 263.8,211 265.3,209.7 266.8,208.4 268.2,207.4 269.8,206.4 271.4,205.7 272.9,205.1 274.5,204.5 276.4,204.2 278.1,204 280.1,203.9 282.1,203.9 283.7,204 285.4,204.2 286.7,204.6 288.4,205.3 289.1,206.1 289.6,207.5 289.6,209.4 289.5,211.3 289.2,213.7 288.9,215.6 288.5,217.7 288.1,219.4 287.7,221.1 287.4,222.9 287,224.6 286.6,226.3 286.1,228.1 285.6,230.3 285,232.5 284.7,233.9 284.1,236.1 283.6,237.7 282.9,240.2 282.4,241.8 281.9,243.4 281.2,245.4 280.6,247.1 279.9,248.4 279,248.4 278,247.3 277.1,245.5 276.4,244 275.2,241.5 274.5,239.8 273.7,238 272.6,235.4 272,233.8 271.1,231.8 270.2,229.7 269.1,227.8 268.1,226.3 267.1,225.1 266,224 264.9,223.3 263.7,223 261.9,223.2 260.6,223.1 259.4,222.7 258.4,222.1 256.9,220.7 256.2,219.6 256.3,218.4 257.1,217.2ZM260.1,216.3 261.4,215 262.8,213.7 264.3,212.4 265.5,211.3 266.9,210.1 268.2,209 269.5,208 270.9,207.2 272.4,206.5 273.7,206 275.2,205.5 276.8,205.1 278.4,205 280.2,204.9 282,204.9 283.5,205 284.9,205.2 286.1,205.5 287.6,206.2 288.3,206.9 288.7,208.1 288.8,209.8 288.6,211.6 288.4,213.7 288.1,215.4 287.8,217.3 287.4,218.9 287.1,220.4 286.7,222 286.4,223.5 286,225.1 285.6,226.7 285.1,228.7 284.6,230.6 284.3,232 283.8,233.9 283.4,235.4 282.7,237.6 282.3,239.1 281.8,240.5 281.2,242.3 280.6,243.8 280,245 279.2,245 278.3,244 277.5,242.4 276.8,241 275.8,238.8 275.1,237.2 274.4,235.7 273.5,233.3 272.9,231.8 272.1,230 271.3,228.2 270.3,226.4 269.4,225.1 268.5,224 267.5,223 266.4,222.4 265.4,222.2 263.8,222.3 262.6,222.2 261.5,221.9 260.6,221.3 259.3,220 258.7,219.1 258.8,218 259.5,216.9ZM262.3,216 263.5,214.9 264.8,213.7 266,212.6 267.2,211.6 268.4,210.5 269.6,209.5 270.7,208.7 272,207.9 273.3,207.3 274.5,206.8 275.8,206.4 277.3,206.1 278.7,205.9 280.3,205.9 281.9,205.9 283.2,205.9 284.5,206.1 285.6,206.4 286.9,207 287.5,207.7 287.9,208.8 287.9,210.3 287.8,211.9 287.6,213.7 287.3,215.3 287,217 286.7,218.4 286.4,219.7 286.1,221.1 285.8,222.5 285.5,223.9 285.1,225.4 284.7,227.2 284.3,228.9 283.9,230.1 283.5,231.8 283.1,233.1 282.5,235.1 282.1,236.4 281.7,237.6 281.2,239.2 280.7,240.7 280.1,241.7 279.4,241.7 278.6,240.8 277.9,239.3 277.3,238.1 276.4,236.2 275.7,234.8 275.1,233.3 274.3,231.2 273.7,229.9 273.1,228.3 272.3,226.6 271.5,225.1 270.6,223.9 269.8,222.9 268.9,222 268,221.5 267.1,221.3 265.6,221.4 264.6,221.3 263.6,221 262.8,220.5 261.6,219.4 261,218.5 261.1,217.5 261.8,216.6ZM264.5,215.8 265.5,214.8 266.7,213.8 267.8,212.7 268.8,211.9 269.9,210.9 270.9,210 271.9,209.3 273.1,208.6 274.2,208.1 275.2,207.7 276.4,207.3 277.7,207 278.9,206.9 280.4,206.8 281.8,206.8 282.9,206.9 284.1,207 285.1,207.3 286.2,207.8 286.8,208.4 287.1,209.4 287.1,210.7 287,212.1 286.8,213.8 286.6,215.1 286.3,216.6 286.1,217.8 285.8,219.1 285.5,220.3 285.2,221.5 285,222.8 284.7,224 284.3,225.6 283.9,227.1 283.6,228.2 283.2,229.7 282.9,230.9 282.3,232.7 282,233.8 281.6,234.9 281.2,236.3 280.7,237.6 280.2,238.5 279.5,238.4 278.9,237.6 278.2,236.4 277.7,235.3 276.9,233.6 276.4,232.3 275.8,231.1 275.1,229.2 274.6,228.1 274,226.6 273.3,225.2 272.6,223.8 271.8,222.7 271.1,221.9 270.4,221.1 269.5,220.6 268.7,220.4 267.4,220.5 266.5,220.5 265.6,220.2 264.9,219.8 263.9,218.8 263.4,218 263.5,217.1 264,216.3ZM266.6,215.6 267.5,214.7 268.5,213.8 269.5,212.9 270.4,212.1 271.3,211.3 272.2,210.5 273.1,209.9 274.1,209.3 275.1,208.8 276,208.5 277,208.1 278.1,207.9 279.2,207.8 280.4,207.8 281.7,207.7 282.7,207.8 283.7,207.9 284.5,208.2 285.6,208.6 286,209.1 286.3,210 286.3,211.1 286.2,212.4 286.1,213.8 285.9,215 285.6,216.3 285.4,217.4 285.2,218.4 284.9,219.5 284.7,220.6 284.4,221.6 284.2,222.7 283.8,224.1 283.5,225.5 283.3,226.4 282.9,227.7 282.6,228.7 282.2,230.3 281.9,231.3 281.6,232.2 281.1,233.4 280.7,234.5 280.3,235.3 279.7,235.3 279.2,234.6 278.6,233.5 278.1,232.6 277.4,231.1 276.9,230 276.5,228.9 275.8,227.3 275.4,226.3 274.9,225 274.3,223.7 273.7,222.6 273,221.6 272.4,220.9 271.7,220.2 271,219.8 270.3,219.6 269.1,219.7 268.4,219.7 267.6,219.4 267,219 266.1,218.2 265.6,217.5 265.7,216.7 266.2,216ZM268.7,215.3 269.4,214.6 270.3,213.8 271.1,213.1 271.9,212.4 272.7,211.7 273.5,211 274.2,210.5 275.1,210 275.9,209.6 276.7,209.3 277.6,209 278.5,208.8 279.5,208.7 280.5,208.6 281.6,208.6 282.5,208.7 283.3,208.8 284,209 284.9,209.4 285.3,209.8 285.6,210.5 285.6,211.5 285.5,212.6 285.4,213.8 285.2,214.8 285,216 284.8,216.9 284.6,217.8 284.4,218.7 284.2,219.6 284,220.6 283.7,221.5 283.4,222.7 283.2,223.8 282.9,224.6 282.6,225.7 282.4,226.6 282,228 281.7,228.8 281.5,229.6 281.1,230.7 280.8,231.6 280.4,232.3 279.9,232.3 279.4,231.7 278.9,230.7 278.5,229.9 277.9,228.6 277.5,227.7 277.1,226.8 276.6,225.4 276.2,224.5 275.8,223.4 275.3,222.4 274.7,221.3 274.1,220.5 273.6,219.9 273,219.3 272.4,218.9 271.8,218.8 270.8,218.9 270.1,218.9 269.5,218.6 269,218.3 268.2,217.6 267.8,217 267.9,216.3 268.3,215.7ZM270.6,215.1 271.3,214.5 272,213.9 272.7,213.2 273.3,212.7 274,212.1 274.7,211.5 275.3,211 276,210.6 276.7,210.3 277.4,210 278.1,209.8 278.9,209.6 279.7,209.5 280.6,209.5 281.5,209.5 282.2,209.5 282.9,209.6 283.5,209.8 284.3,210.1 284.6,210.5 284.8,211.1 284.9,211.9 284.8,212.8 284.7,213.9 284.5,214.7 284.4,215.6 284.2,216.4 284,217.2 283.8,218 283.7,218.7 283.5,219.5 283.3,220.3 283.1,221.3 282.8,222.3 282.6,222.9 282.4,223.9 282.2,224.6 281.8,225.7 281.6,226.4 281.4,227.1 281.1,228 280.8,228.8 280.5,229.4 280.1,229.4 279.7,228.9 279.3,228.1 278.9,227.4 278.4,226.3 278.1,225.5 277.7,224.7 277.3,223.6 277,222.9 276.6,221.9 276.2,221 275.7,220.2 275.2,219.5 274.8,219 274.3,218.5 273.8,218.2 273.3,218 272.5,218.1 271.9,218.1 271.3,217.9 270.9,217.6 270.2,217 269.9,216.5 270,216 270.3,215.4ZM272.5,214.9 273,214.4 273.6,213.9 274.2,213.4 274.7,212.9 275.3,212.4 275.8,212 276.3,211.6 276.9,211.2 277.5,211 278,210.7 278.6,210.5 279.3,210.4 279.9,210.3 280.7,210.3 281.4,210.3 282,210.3 282.6,210.4 283.1,210.6 283.7,210.8 284,211.1 284.1,211.6 284.2,212.3 284.1,213 284,213.9 283.9,214.6 283.7,215.3 283.6,216 283.5,216.6 283.3,217.2 283.2,217.9 283,218.5 282.9,219.2 282.7,220 282.5,220.8 282.3,221.3 282.1,222.1 282,222.7 281.7,223.6 281.5,224.2 281.3,224.7 281.1,225.5 280.9,226.1 280.6,226.6 280.3,226.6 279.9,226.2 279.6,225.5 279.3,225 278.9,224.1 278.6,223.4 278.3,222.8 277.9,221.8 277.7,221.2 277.4,220.5 277,219.8 276.7,219.1 276.3,218.5 275.9,218.1 275.5,217.6 275.1,217.4 274.7,217.3 274,217.4 273.5,217.3 273.1,217.2 272.7,217 272.2,216.5 271.9,216.1 272,215.6 272.3,215.2ZM274.3,214.7 274.7,214.3 275.2,213.9 275.6,213.5 276,213.1 276.5,212.8 276.9,212.4 277.3,212.1 277.8,211.8 278.2,211.6 278.7,211.4 279.1,211.3 279.7,211.2 280.2,211.1 280.7,211.1 281.3,211.1 281.8,211.1 282.3,211.2 282.6,211.3 283.1,211.5 283.3,211.7 283.5,212.1 283.5,212.7 283.4,213.2 283.4,213.9 283.3,214.5 283.2,215.1 283.1,215.6 282.9,216.1 282.8,216.6 282.7,217.1 282.6,217.6 282.5,218.1 282.3,218.7 282.2,219.3 282.1,219.8 281.9,220.4 281.8,220.8 281.5,221.6 281.4,222 281.3,222.5 281.1,223.1 280.9,223.6 280.7,223.9 280.4,223.9 280.1,223.6 279.9,223.1 279.7,222.7 279.3,221.9 279.1,221.4 278.9,220.9 278.6,220.2 278.4,219.7 278.2,219.1 277.9,218.5 277.6,218 277.3,217.6 277,217.2 276.7,216.9 276.3,216.7 276,216.6 275.5,216.6 275.1,216.6 274.8,216.5 274.5,216.3 274,215.9 273.8,215.6 273.9,215.3 274.1,214.9ZM276,214.5 276.3,214.2 276.6,213.9 277,213.6 277.3,213.3 277.6,213.1 277.9,212.8 278.2,212.6 278.6,212.4 278.9,212.2 279.2,212.1 279.6,212 280,211.9 280.4,211.8 280.8,211.8 281.2,211.8 281.6,211.8 281.9,211.9 282.2,212 282.6,212.1 282.8,212.3 282.9,212.6 282.9,213 282.8,213.4 282.8,213.9 282.7,214.3 282.6,214.8 282.5,215.2 282.5,215.5 282.4,215.9 282.3,216.3 282.2,216.7 282.1,217 282,217.5 281.9,218 281.8,218.3 281.7,218.8 281.6,219.1 281.4,219.7 281.3,220 281.2,220.3 281,220.8 280.9,221.2 280.8,221.4 280.6,221.4 280.4,221.2 280.2,220.8 280,220.5 279.8,219.9 279.6,219.6 279.4,219.2 279.2,218.6 279.1,218.3 278.9,217.8 278.7,217.4 278.4,217 278.2,216.7 278,216.4 277.8,216.2 277.5,216 277.3,216 276.9,216 276.6,216 276.3,215.9 276.1,215.7 275.8,215.4 275.6,215.2 275.7,215 275.8,214.7ZM277.5,214.4 277.8,214.2 278,214 278.2,213.7 278.4,213.6 278.7,213.4 278.9,213.2 279.1,213 279.3,212.9 279.6,212.8 279.8,212.7 280,212.6 280.3,212.5 280.6,212.5 280.9,212.5 281.2,212.5 281.4,212.5 281.6,212.5 281.8,212.6 282.1,212.7 282.2,212.8 282.3,213 282.3,213.3 282.3,213.6 282.2,214 282.2,214.2 282.1,214.5 282.1,214.8 282,215.1 281.9,215.3 281.9,215.6 281.8,215.8 281.8,216.1 281.7,216.4 281.6,216.7 281.5,217 281.5,217.3 281.4,217.5 281.3,217.9 281.2,218.1 281.1,218.4 281,218.7 280.9,218.9 280.8,219.1 280.7,219.1 280.6,218.9 280.4,218.7 280.3,218.5 280.1,218.1 280,217.8 279.9,217.6 279.8,217.2 279.7,216.9 279.5,216.6 279.4,216.3 279.2,216.1 279.1,215.8 278.9,215.6 278.8,215.5 278.6,215.4 278.4,215.3 278.2,215.4 278,215.4 277.8,215.3 277.6,215.2 277.4,215 277.3,214.8 277.3,214.7 277.4,214.5ZM279,214.2 279.1,214.1 279.2,214 279.4,213.8 279.5,213.7 279.6,213.6 279.8,213.5 279.9,213.4 280,213.3 280.2,213.3 280.3,213.2 280.4,213.2 280.6,213.1 280.7,213.1 280.9,213.1 281.1,213.1 281.2,213.1 281.4,213.1 281.5,213.2 281.6,213.2 281.7,213.3 281.8,213.4 281.8,213.6 281.7,213.8 281.7,214 281.7,214.1 281.7,214.3 281.6,214.5 281.6,214.6 281.6,214.8 281.5,214.9 281.5,215.1 281.5,215.2 281.4,215.4 281.4,215.6 281.3,215.7 281.3,215.9 281.2,216.1 281.2,216.3 281.1,216.4 281.1,216.6 281,216.8 281,216.9 280.9,217 280.8,217 280.7,216.9 280.7,216.8 280.6,216.6 280.5,216.4 280.4,216.3 280.4,216.1 280.3,215.9 280.2,215.7 280.1,215.6 280.1,215.4 280,215.2 279.9,215.1 279.8,215 279.7,214.9 279.6,214.8 279.5,214.8 279.3,214.8 279.2,214.8 279.1,214.8 279,214.7 278.9,214.6 278.8,214.5 278.8,214.4 278.9,214.3ZM280.2,214.1 280.2,214 280.3,214 280.3,213.9 280.4,213.9 280.4,213.8 280.5,213.8 280.5,213.8 280.6,213.7 280.7,213.7 280.7,213.7 280.8,213.7 280.8,213.6 280.9,213.6 281,213.6 281,213.6 281.1,213.6 281.2,213.7 281.2,213.7 281.3,213.7 281.3,213.7 281.3,213.8 281.3,213.8 281.3,213.9 281.3,214 281.3,214.1 281.3,214.1 281.3,214.2 281.2,214.3 281.2,214.3 281.2,214.4 281.2,214.4 281.2,214.5 281.2,214.6 281.1,214.7 281.1,214.7 281.1,214.8 281.1,214.8 281.1,214.9 281,215 281,215 281,215.1 281,215.2 281,215.2 280.9,215.2 280.9,215.2 280.9,215.1 280.8,215.1 280.8,215 280.8,214.9 280.7,214.9 280.7,214.8 280.7,214.7 280.6,214.6 280.6,214.6 280.6,214.5 280.5,214.4 280.5,214.4 280.5,214.4 280.4,214.3 280.4,214.3 280.3,214.3 280.3,214.3 280.2,214.3 280.2,214.3 280.1,214.2 280.1,214.2 280.1,214.2 280.1,214.1Z" fill="none" stroke="#000" stroke-opacity="0.72" stroke-width="0.5"/>
<path d="M255.4,216.8 256.3,216 257.1,215.2 257.9,214.5 258.8,213.6 259.5,213 260.5,212.1 261.2,211.5 262.1,210.7 262.9,210 263.8,209.3 264.6,208.5 265.4,207.8 266.3,207.2 267,206.7 268,206 268.7,205.6 269.6,205.2 270.4,204.8 271.3,204.5 272.1,204.2 272.9,203.9 273.9,203.6 274.6,203.4 275.9,203.2 276.7,203.1 277.8,203 278.9,202.9 280,202.9 281.1,202.9 282.2,202.9 283.3,202.9 284,203 285.1,203.1 285.8,203.2 286.6,203.4 287.3,203.7 288.5,204.1 289.1,204.4 289.7,204.9 290,205.3 290.3,206.2 290.5,206.8 290.5,207.9 290.5,208.9 290.4,210 290.3,211.1 290.2,212.3 290,213.6 289.9,214.8 289.7,215.8 289.5,216.7 289.3,218 289.1,219 288.9,220 288.6,220.9 288.4,221.9 288.2,222.8 288,223.8 287.8,224.7 287.6,225.6 287.3,226.6 287.1,227.6 286.9,228.6 286.7,229.5 286.3,230.9 286.1,232 285.8,233.1 285.5,234.3 285.2,235.2 285,236 284.6,237.4 284.4,238.3 284.1,239.2 283.9,240.1 283.5,241.5 283.1,242.9 282.8,243.9 282.5,244.7 282.3,245.4 282,246.3 281.6,247.5 281.2,248.5 280.9,249.5 280.6,250.5 280.2,251.3 279.7,251.9 279.4,252 278.8,251.9 278.3,251.5 277.7,250.6 277.1,249.5 276.7,248.7 276.3,247.8 275.9,247 275.3,245.7 274.7,244.3 274.2,243.3 273.8,242.4 273.4,241.5 273,240.5 272.4,239 271.8,237.6 271.4,236.7 271.1,235.8 270.7,234.9 270.2,233.6 269.6,232.2 269.1,231.3 268.4,230 268,229.2 267.4,228.3 266.8,227.6 266.2,226.9 265.7,226.2 265.1,225.6 264.5,225 264,224.6 263.2,224.2 262.7,224.1 262,224 261.3,224 260,224.1 259.3,224.1 258.5,224 258,223.9 257.2,223.6 256.7,223.4 256.1,222.9 255.5,222.4 254.5,221.4 254,220.8 253.7,220.2 253.7,219.7 253.8,218.9 254.1,218.3 254.7,217.5Z" fill="none" stroke="#000" stroke-opacity="0.75" stroke-width="0.55"/>
<ellipse cx="278.8" cy="215.6" rx="0.5" ry="1.0" fill="#fff" fill-opacity="0.75"/>
</g>
<path d="M203.2,256.5h-1.3M209.9,262.6v1.3M203.2,253.3h-1.3M213.5,262.6v1.3M203.2,251h-1.3M216,262.6v1.3M203.2,249.2h-1.3M218,262.6v1.3M203.2,247.7h-1.3M219.6,262.6v1.3M203.2,246.5h-1.3M220.9,262.6v1.3M203.2,245.4h-1.3M222.1,262.6v1.3M203.2,244.5h-1.3M223.1,262.6v1.3M203.2,238.1h-1.3M230.1,262.6v1.3M203.2,234.9h-1.3M233.7,262.6v1.3M203.2,232.6h-1.3M236.2,262.6v1.3M203.2,230.9h-1.3M238.2,262.6v1.3M203.2,229.4h-1.3M239.8,262.6v1.3M203.2,228.2h-1.3M241.2,262.6v1.3M203.2,227.1h-1.3M242.3,262.6v1.3M203.2,226.2h-1.3M243.4,262.6v1.3M203.2,219.8h-1.3M250.4,262.6v1.3M203.2,216.6h-1.3M254,262.6v1.3M203.2,214.3h-1.3M256.5,262.6v1.3M203.2,212.5h-1.3M258.5,262.6v1.3M203.2,211.1h-1.3M260.1,262.6v1.3M203.2,209.8h-1.3M261.4,262.6v1.3M203.2,208.8h-1.3M262.6,262.6v1.3M203.2,207.8h-1.3M263.6,262.6v1.3M203.2,201.5h-1.3M270.6,262.6v1.3M203.2,198.3h-1.3M274.2,262.6v1.3M203.2,196h-1.3M276.7,262.6v1.3M203.2,194.2h-1.3M278.7,262.6v1.3M203.2,192.7h-1.3M280.3,262.6v1.3M203.2,191.5h-1.3M281.7,262.6v1.3M203.2,190.4h-1.3M282.8,262.6v1.3M203.2,189.5h-1.3M283.9,262.6v1.3M203.2,183.1h-1.3M290.9,262.6v1.3M203.2,179.9h-1.3M294.5,262.6v1.3M203.2,177.6h-1.3M297,262.6v1.3M203.2,175.9h-1.3M299,262.6v1.3M203.2,174.4h-1.3M300.6,262.6v1.3M203.2,173.2h-1.3M301.9,262.6v1.3M203.2,172.1h-1.3M303.1,262.6v1.3M203.2,171.2h-1.3M304.1,262.6v1.3M203.2,164.8h-1.3M311.1,262.6v1.3M203.2,161.6h-1.3M314.7,262.6v1.3M203.2,159.3h-1.3M317.2,262.6v1.3M203.2,157.5h-1.3M319.2,262.6v1.3M203.2,156.1h-1.3M320.8,262.6v1.3M203.2,154.8h-1.3M322.2,262.6v1.3M203.2,153.8h-1.3M323.3,262.6v1.3M203.2,152.8h-1.3M324.4,262.6v1.3" stroke="#555" stroke-width="0.5" fill="none"/>
<path d="M203.8,262h-3M203.8,262v2.6M203.8,243.7h-3M224.1,262v2.6M203.8,225.3h-3M244.3,262v2.6M203.8,207h-3M264.6,262v2.6M203.8,188.7h-3M284.8,262v2.6M203.8,170.3h-3M305.1,262v2.6M203.8,152h-3M325.3,262v2.6" stroke="#111" stroke-width="0.9" fill="none"/>
<text x="198.8" y="266.5" font-size="8.3" text-anchor="end" font-family="'Liberation Sans', sans-serif" fill="#111" textLength="11.2" lengthAdjust="spacingAndGlyphs">10<tspan font-size="6.0" dy="-3.0">0</tspan></text>
<text x="198.8" y="248.2" font-size="8.3" text-anchor="end" font-family="'Liberation Sans', sans-serif" fill="#111" textLength="11.2" lengthAdjust="spacingAndGlyphs">10<tspan font-size="6.0" dy="-3.0">1</tspan></text>
<text x="198.8" y="229.8" font-size="8.3" text-anchor="end" font-family="'Liberation Sans', sans-serif" fill="#111" textLength="11.2" lengthAdjust="spacingAndGlyphs">10<tspan font-size="6.0" dy="-3.0">2</tspan></text>
<text x="198.8" y="211.5" font-size="8.3" text-anchor="end" font-family="'Liberation Sans', sans-serif" fill="#111" textLength="11.2" lengthAdjust="spacingAndGlyphs">10<tspan font-size="6.0" dy="-3.0">3</tspan></text>
<text x="198.8" y="193.2" font-size="8.3" text-anchor="end" font-family="'Liberation Sans', sans-serif" fill="#111" textLength="11.2" lengthAdjust="spacingAndGlyphs">10<tspan font-size="6.0" dy="-3.0">4</tspan></text>
<text x="198.8" y="174.8" font-size="8.3" text-anchor="end" font-family="'Liberation Sans', sans-serif" fill="#111" textLength="11.2" lengthAdjust="spacingAndGlyphs">10<tspan font-size="6.0" dy="-3.0">5</tspan></text>
<text x="198.8" y="158.1" font-size="8.3" text-anchor="end" font-family="'Liberation Sans', sans-serif" fill="#111" textLength="11.2" lengthAdjust="spacingAndGlyphs">10<tspan font-size="6.0" dy="-3.0">6</tspan></text>
<text x="208" y="274.5" font-size="8.3" text-anchor="middle" font-family="'Liberation Sans', sans-serif" fill="#111" textLength="11.2" lengthAdjust="spacingAndGlyphs">10<tspan font-size="6.0" dy="-3.0">0</tspan></text>
<text x="224.9" y="274.5" font-size="8.3" text-anchor="middle" font-family="'Liberation Sans', sans-serif" fill="#111" textLength="11.2" lengthAdjust="spacingAndGlyphs">10<tspan font-size="6.0" dy="-3.0">1</tspan></text>
<text x="244.5" y="274.5" font-size="8.3" text-anchor="middle" font-family="'Liberation Sans', sans-serif" fill="#111" textLength="11.2" lengthAdjust="spacingAndGlyphs">10<tspan font-size="6.0" dy="-3.0">2</tspan></text>
<text x="264.1" y="274.5" font-size="8.3" text-anchor="middle" font-family="'Liberation Sans', sans-serif" fill="#111" textLength="11.2" lengthAdjust="spacingAndGlyphs">10<tspan font-size="6.0" dy="-3.0">3</tspan></text>
<text x="283.7" y="274.5" font-size="8.3" text-anchor="middle" font-family="'Liberation Sans', sans-serif" fill="#111" textLength="11.2" lengthAdjust="spacingAndGlyphs">10<tspan font-size="6.0" dy="-3.0">4</tspan></text>
<text x="303.3" y="274.5" font-size="8.3" text-anchor="middle" font-family="'Liberation Sans', sans-serif" fill="#111" textLength="11.2" lengthAdjust="spacingAndGlyphs">10<tspan font-size="6.0" dy="-3.0">5</tspan></text>
<text x="322.9" y="274.5" font-size="8.3" text-anchor="middle" font-family="'Liberation Sans', sans-serif" fill="#111" textLength="11.2" lengthAdjust="spacingAndGlyphs">10<tspan font-size="6.0" dy="-3.0">6</tspan></text>
<rect x="203.8" y="152" width="121.5" height="110" fill="none" stroke="#000" stroke-width="1.35"/>
<rect x="239.2" y="176.3" width="32.9" height="26.2" fill="none" stroke="#111" stroke-width="1.4"/>
<text x="255.4" y="173.6" font-size="7.7" text-anchor="middle" font-family="'Liberation Sans', sans-serif" fill="#222">0.24</text>
<clipPath id="c4"><rect x="353.2" y="153.6" width="119.7" height="108.4"/></clipPath>
<g clip-path="url(#c4)">
<ellipse cx="406" cy="190" rx="8" ry="3.5" transform="rotate(-33 406 190)" fill="#000" fill-opacity="0.12" filter="url(#blur2)"/>
<ellipse cx="401" cy="222" rx="6" ry="8" transform="rotate(0 401 222)" fill="#000" fill-opacity="0.12" filter="url(#blur2)"/>
<path transform="translate(0,0.5)" d="M430 165h1m-5 2h1m1 1h1m1 0h1m-6 1h1m3 0h1m2 1h1m-8 1h1m0 1h1m3 0h1m-4 1h1m1 0h1m-10 2h1m10 0h1m1 0h1m-6 1h1m-24 2h1m0 0h1m4 0h1m6 0h1m1 0h1m2 0h1m4 0h1m-33 1h1m19 0h1m0 0h1m10 0h1m1 0h1m-22 1h1m4 0h1m3 0h1m7 0h1m6 0h1m-38 1h1m8 0h1m1 0h1m0 0h1m2 0h1m6 0h1m0 0h1m5 0h1m1 0h1m0 0h1m-17 1h1m0 0h1m10 0h1m1 0h1m0 0h1m-22 1h1m1 0h1m0 0h1m0 0h1m0 0h1m1 0h1m0 0h1m1 0h1m11 0h1m3 0h1m1 0h1m-30 1h1m4 0h1m5 0h1m1 0h1m-16 1h1m0 0h1m1 0h1m0 0h1m0 0h1m1 0h1m1 0h1m0 0h1m0 0h1m2 0h1m0 0h1m10 0h1m0 0h1m0 0h1m-29 1h1m0 0h1m1 0h1m0 0h1m0 0h1m0 0h1m0 0h1m1 0h1m1 0h1m0 0h1m0 0h1m1 0h1m15 0h1m-54 1h1m15 0h1m0 0h1m1 0h1m1 0h1m0 0h1m1 0h1m1 0h1m0 0h1m2 0h1m0 0h1m0 0h1m1 0h1m6 0h1m2 0h1m2 0h1m-29 1h1m1 0h1m0 0h1m0 0h1m1 0h1m0 0h1m0 0h1m0 0h1m0 0h1m1 0h1m0 0h1m2 0h1m0 0h1m13 0h1m-40 1h1m7 0h1m0 0h1m1 0h1m0 0h1m0 0h1m0 0h1m0 0h1m0 0h1m0 0h1m1 0h1m17 0h1m0 0h1m-38 1h1m1 0h1m1 0h1m0 0h1m2 0h1m1 0h1m0 0h1m0 0h1m0 0h1m0 0h1m0 0h1m0 0h1m0 0h1m0 0h1m0 0h1m0 0h1m1 0h1m1 0h1m-21 1h1m0 0h1m1 0h1m0 0h1m1 0h1m0 0h1m0 0h1m1 0h1m0 0h1m1 0h1m0 0h1m2 0h1m11 0h1m3 0h1m0 0h1m0 0h1m0 0h1m-36 1h1m0 0h1m3 0h1m0 0h1m0 0h1m0 0h1m0 0h1m1 0h1m0 0h1m0 0h1m0 0h1m0 0h1m8 0h1m5 0h1m0 0h1m-38 1h1m3 0h1m1 0h1m0 0h1m0 0h1m0 0h1m1 0h1m0 0h1m0 0h1m0 0h1m0 0h1m0 0h1m0 0h1m0 0h1m3 0h1m12 0h1m-33 1h1m0 0h1m0 0h1m0 0h1m0 0h1m0 0h1m1 0h1m0 0h1m0 0h1m2 0h1m2 0h1m0 0h1m-19 1h1m2 0h1m3 0h1m0 0h1m0 0h1m0 0h1m3 0h1m0 0h1m5 0h1m-24 1h1m0 0h1m1 0h1m1 0h1m0 0h1m1 0h1m0 0h1m0 0h1m3 0h1m0 0h1m0 0h1m0 0h1m8 0h1m4 0h1m5 0h1m-43 1h1m4 0h1m2 0h1m0 0h1m0 0h1m5 0h1m1 0h1m0 0h1m1 0h1m12 0h1m0 0h1m1 0h1m4 0h1m0 0h1m-34 1h1m0 0h1m0 0h1m0 0h1m0 0h1m1 0h1m28 0h1m-33 1h1m2 0h1m15 0h1m3 0h1m4 0h1m4 0h1m5 0h1m2 0h1m4 0h1m-53 1h1m3 0h1m21 0h1m3 0h1m0 0h1m0 0h1m2 0h1m4 0h1m-45 1h1m2 0h1m21 0h1m0 0h1m1 0h1m5 0h1m0 0h1m1 0h1m4 0h1m0 0h1m1 0h1m7 0h1m0 0h1m-63 1h1m14 0h1m5 0h1m2 0h1m7 0h1m2 0h1m0 0h1m1 0h1m17 0h1m1 0h1m0 0h1m-29 1h1m1 0h1m0 0h1m3 0h1m16 0h1m6 0h1m-58 1h1m4 0h1m1 0h1m2 0h1m11 0h1m1 0h1m5 0h1m0 0h1m1 0h1m20 0h1m3 0h1m-50 1h1m1 0h1m3 0h1m4 0h1m1 0h1m1 0h1m0 0h1m0 0h1m0 0h1m1 0h1m2 0h1m21 0h1m0 0h1m-42 1h1m7 0h1m1 0h1m0 0h1m1 0h1m0 0h1m0 0h1m0 0h1m23 0h1m1 0h1m-57 1h1m1 0h1m8 0h1m4 0h1m8 0h1m1 0h1m0 0h1m0 0h1m0 0h1m-19 1h1m1 0h1m0 0h1m0 0h1m0 0h1m1 0h1m2 0h1m2 0h1m0 0h1m0 0h1m-25 1h1m1 0h1m3 0h1m0 0h1m4 0h1m0 0h1m0 0h1m2 0h1m0 0h1m0 0h1m0 0h1m1 0h1m-15 1h1m2 0h1m4 0h1m4 0h1m0 0h1m-15 1h1m1 0h1m1 0h1m1 0h1m1 0h1m0 0h1m1 0h1m0 0h1m0 0h1m-19 1h1m0 0h1m0 0h1m5 0h1m1 0h1m2 0h1m0 0h1m2 0h1m0 0h1m-22 1h1m3 0h1m0 0h1m3 0h1m0 0h1m2 0h1m1 0h1m1 0h1m0 0h1m0 0h1m-31 1h1m7 0h1m0 0h1m0 0h1m4 0h1m1 0h1m1 0h1m0 0h1m3 0h1m0 0h1m1 0h1m0 0h1m0 0h1m0 0h1m-18 1h1m3 0h1m0 0h1m1 0h1m0 0h1m0 0h1m0 0h1m3 0h1m1 0h1m0 0h1m0 0h1m-30 1h1m4 0h1m8 0h1m2 0h1m0 0h1m2 0h1m1 0h1m0 0h1m0 0h1m0 0h1m0 0h1m-16 1h1m0 0h1m1 0h1m1 0h1m0 0h1m0 0h1m0 0h1m1 0h1m1 0h1m0 0h1m0 0h1m-18 1h1m2 0h1m4 0h1m0 0h1m2 0h1m0 0h1m0 0h1m0 0h1m0 0h1m0 0h1m-35 1h1m15 0h1m2 0h1m0 0h1m1 0h1m4 0h1m0 0h1m0 0h1m0 0h1m0 0h1m0 0h1m0 0h1m-19 1h1m0 0h1m3 0h1m1 0h1m0 0h1m0 0h1m0 0h1m2 0h1m0 0h1m0 0h1m1 0h1m0 0h1m-16 1h1m1 0h1m0 0h1m0 0h1m3 0h1m0 0h1m0 0h1m1 0h1m0 0h1m0 0h1m38 0h1m-57 1h1m1 0h1m2 0h1m6 0h1m0 0h1m0 0h1m0 0h1m1 0h1m0 0h1m38 0h1m-52 1h1m0 0h1m1 0h1m0 0h1m0 0h1m0 0h1m0 0h1m0 0h1m0 0h1m1 0h1m0 0h1m0 0h1m-18 1h1m2 0h1m1 0h1m2 0h1m0 0h1m1 0h1m1 0h1m0 0h1m0 0h1m0 0h1m0 0h1m35 0h1m-59 1h1m6 0h1m0 0h1m3 0h1m0 0h1m1 0h1m2 0h1m1 0h1m0 0h1m0 0h1m33 0h1m-55 1h1m0 0h1m1 0h1m2 0h1m2 0h1m2 0h1m3 0h1m0 0h1m0 0h1m1 0h1m0 0h1m0 0h1m31 0h1m-55 1h1m3 0h1m8 0h1m0 0h1m1 0h1m0 0h1m1 0h1m0 0h1m0 0h1m0 0h1m0 0h1m30 0h1m-74 1h1m14 0h1m10 0h1m2 0h1m4 0h1m2 0h1m0 0h1m0 0h1m0 0h1m0 0h1m0 0h1m0 0h1m30 0h1m-53 1h1m1 0h1m4 0h1m0 0h1m2 0h1m1 0h1m0 0h1m0 0h1m0 0h1m0 0h1m0 0h1m0 0h1m0 0h1m29 0h1m-52 1h1m5 0h1m0 0h1m1 0h1m0 0h1m2 0h1m0 0h1m0 0h1m2 0h1m0 0h1m1 0h1m0 0h1m0 0h1m-22 1h1m10 0h1m0 0h1m6 0h1m0 0h1m0 0h1m27 0h1m0 0h1m-51 1h1m12 0h1m7 0h1m28 0h1m-49 1h1m10 0h1m1 0h1m3 0h1m0 0h1m0 0h1m0 0h1m25 0h1m-64 1h1m12 0h1m6 0h1m1 0h1m0 0h1m7 0h1m0 0h1m1 0h1m28 0h1m0 0h1m0 0h1m-32 1h1m0 0h1m0 0h1m-24 1h1m10 0h1m2 0h1m2 0h1m33 0h1m-40 1h1m3 0h1m6 0h1m-29 1h1m15 0h1m1 0h1m3 0h1m0 0h1m0 0h1m2 0h1m1 0h1m24 0h1m0 0h1m-37 1h1m5 0h1m-37 1h1m15 0h1m6 0h1m40 0h1m-2 1h1m-40 1h1m38 0h1m-41 3h1m36 0h1m-40 1h1m25 1h1m12 0h1m-54 1h1m51 0h1m-30 1h1m16 0h1m10 0h1m0 0h1m-40 1h1m15 0h1m13 1h1m0 0h1m4 0h1m-9 1h1m0 0h1m0 0h1m0 0h1m0 0h1m1 0h1m0 0h1m0 0h1m-6 1h1m0 0h1m1 0h1m0 0h1m-7 1h1m0 0h1m1 0h1m2 0h1m0 0h1m-10 1h1m1 0h1m3 0h1m0 0h1m0 0h1m0 0h1m0 0h1m-13 1h1m0 0h1m1 0h1m2 0h1m0 0h1m0 0h1m0 0h1m2 0h1m-11 1h1m0 0h1m2 0h1m0 0h1m2 0h1m0 0h1m1 0h1m-7 1h1m0 0h1m1 0h1m0 0h1m-11 1h1m3 0h1m1 0h1m0 0h1m1 0h1m-4 1h1m-6 1h1m2 0h1m1 0h1m0 0h1m0 0h1m-6 1h1" stroke="#000" stroke-opacity="0.7" stroke-width="1" fill="none"/>
<path transform="translate(0,0.5)" d="M426 165h1m6 2h1m-3 5h1m-7 5h1m3 0h1m-39 2h1m19 0h1m2 0h1m18 0h1m-37 1h1m17 0h1m-7 1h1m7 0h1m0 0h1m-5 1h1m0 0h1m4 0h1m10 0h1m-37 1h1m2 0h1m3 0h1m3 0h1m7 0h1m1 0h1m0 0h1m0 0h1m0 0h1m1 0h1m-16 1h1m1 0h1m2 0h1m0 0h1m15 0h1m-25 1h1m10 0h1m1 0h1m0 0h1m11 0h1m-20 1h1m1 0h1m17 0h1m-30 1h1m0 0h1m0 0h1m0 0h1m2 0h1m5 0h1m0 0h1m11 0h1m-30 1h1m2 0h1m0 0h1m2 0h1m1 0h1m2 0h1m0 0h1m1 0h1m-19 1h1m2 0h1m1 0h1m0 0h1m3 0h1m1 0h1m0 0h1m-15 1h1m6 0h1m1 0h1m1 0h1m0 0h1m1 0h1m0 0h1m1 0h1m4 0h1m-22 1h1m6 0h1m2 0h1m0 0h1m0 0h1m0 0h1m1 0h1m5 0h1m9 0h1m1 0h1m-29 1h1m0 0h1m1 0h1m0 0h1m2 0h1m0 0h1m1 0h1m1 0h1m-18 1h1m1 0h1m0 0h1m0 0h1m0 0h1m0 0h1m8 0h1m-18 1h1m1 0h1m3 0h1m3 0h1m2 0h1m2 0h1m1 0h1m3 0h1m-20 1h1m3 0h1m3 0h1m7 0h1m10 0h1m-40 1h1m7 0h1m9 0h1m2 0h1m5 0h1m9 0h1m19 0h1m-59 1h1m7 0h1m2 0h1m11 0h1m11 0h1m1 0h1m-34 1h1m3 0h1m3 0h1m0 0h1m15 0h1m30 0h1m0 0h1m-54 1h1m5 0h1m4 0h1m0 0h1m3 0h1m3 0h1m8 0h1m5 0h1m0 0h1m3 0h1m0 0h1m7 0h1m-43 1h1m2 0h1m0 0h1m12 0h1m4 0h1m6 0h1m0 0h1m-42 1h1m5 0h1m4 0h1m18 0h1m3 0h1m0 0h1m3 0h1m10 0h1m-37 1h1m10 0h1m6 0h1m0 0h1m5 0h1m9 0h1m4 0h1m4 0h1m-45 1h1m13 0h1m1 0h1m21 0h1m0 0h1m3 0h1m-50 1h1m14 0h1m1 0h1m3 0h1m23 0h1m0 0h1m-45 1h1m0 0h1m11 0h1m1 0h1m1 0h1m0 0h1m0 0h1m0 0h1m1 0h1m-27 1h1m1 0h1m1 0h1m1 0h1m9 0h1m2 0h1m-9 1h1m5 0h1m1 0h1m-24 1h1m12 0h1m8 0h1m1 0h1m29 0h1m-44 1h1m5 0h1m0 0h1m0 0h1m2 0h1m-26 1h1m16 0h1m3 0h1m1 0h1m1 0h1m-19 1h1m10 0h1m6 0h1m-13 1h1m0 0h1m1 0h1m0 0h1m1 0h1m1 0h1m0 0h1m1 0h1m-41 1h1m17 0h1m5 0h1m1 0h1m2 0h1m1 0h1m0 0h1m1 0h1m2 0h1m1 0h1m-14 1h1m0 0h1m0 0h1m2 0h1m4 0h1m1 0h1m-17 1h1m7 0h1m2 0h1m0 0h1m1 0h1m0 0h1m-15 1h1m0 0h1m0 0h1m0 0h1m0 0h1m0 0h1m5 0h1m0 0h1m0 0h1m-19 1h1m5 0h1m6 0h1m3 0h1m-13 1h1m1 0h1m2 0h1m0 0h1m3 0h1m1 0h1m-28 1h1m8 0h1m6 0h1m6 0h1m0 0h1m0 0h1m1 0h1m-18 1h1m6 0h1m3 0h1m1 0h1m1 0h1m0 0h1m0 0h1m-16 1h1m4 0h1m3 0h1m1 0h1m0 0h1m1 0h1m0 0h1m-13 1h1m5 0h1m0 0h1m1 0h1m2 0h1m-19 1h1m5 0h1m5 0h1m0 0h1m0 0h1m0 0h1m0 0h1m0 0h1m0 0h1m36 0h1m0 0h1m-52 1h1m2 0h1m1 0h1m0 0h1m0 0h1m0 0h1m2 0h1m0 0h1m0 0h1m37 0h1m-62 1h1m16 0h1m0 0h1m0 0h1m0 0h1m0 0h1m0 0h1m1 0h1m0 0h1m34 0h1m-57 1h1m1 0h1m1 0h1m1 0h1m4 0h1m0 0h1m4 0h1m1 0h1m0 0h1m0 0h1m0 0h1m-22 1h1m2 0h1m3 0h1m3 0h1m2 0h1m0 0h1m4 0h1m-20 1h1m6 0h1m0 0h1m0 0h1m5 0h1m0 0h1m0 0h1m1 0h1m0 0h1m0 0h1m0 0h1m-23 1h1m11 0h1m5 0h1m1 0h1m0 0h1m0 0h1m-26 1h1m10 0h1m2 0h1m8 0h1m1 0h1m0 0h1m27 0h1m0 0h1m-58 1h1m13 0h1m7 0h1m1 0h1m3 0h1m0 0h1m29 0h1m-50 1h1m0 0h1m5 0h1m1 0h1m2 0h1m1 0h1m-19 1h1m6 0h1m7 0h1m3 0h1m2 0h1m-12 1h1m6 0h1m32 0h1m-45 1h1m0 0h1m1 0h1m0 0h1m9 0h1m2 0h1m-24 1h1m0 0h1m5 1h1m8 0h1m-8 1h1m1 0h1m3 0h1m-2 2h1m31 0h1m-2 1h1m1 0h1m-3 2h1m-41 1h1m19 1h1m4 2h1m10 1h1m-3 1h1m-1 1h1m0 0h1m0 0h1m-1 1h1m-11 1h1m0 0h1m2 0h1m0 0h1m-5 1h1m6 0h1m-8 1h1m0 0h1m0 0h1m1 0h1m0 0h1m1 0h1m-59 1h1m46 0h1m1 0h1m0 0h1m0 0h1m6 0h1m0 0h1m-10 1h1m0 0h1m2 0h1m1 0h1m-10 1h1m1 0h1m2 0h1m1 0h1m1 0h1m1 0h1m-10 1h1m1 0h1m0 0h1m1 0h1m-6 1h1m3 0h1m-1 1h1m-3 1h1m0 0h1" stroke="#000" stroke-opacity="0.38" stroke-width="1" fill="none"/>
<ellipse cx="425" cy="262.4" rx="25" ry="3" fill="#000" fill-opacity="0.06" stroke="#000" stroke-opacity="0.4" stroke-width="0.5"/>
<ellipse cx="427" cy="262.4" rx="17.9" ry="2.2" fill="none" stroke="#000" stroke-opacity="0.3" stroke-width="0.5"/>
<ellipse cx="426" cy="262.5" rx="10" ry="2.8" fill="#000" fill-opacity="0.8" filter="url(#blur05)"/>
<path d="M409.1,218.1 410.2,216.3 411.4,214.4 412.9,212.5 414.5,210.8 416.1,209.4 417.4,208.3 419.4,206.6 421.5,205.5 423.4,204.7 425.4,204.3 427.4,203.9 429.2,203.7 431,203.5 432.7,203.5 435,203.6 436.3,203.9 437.5,204.4 438.6,205.3 439.8,206.8 440.5,208.2 440.9,210.2 441,212.7 441,214.4 441,216.7 440.8,218.3 440.5,220.7 440,223.2 439.4,225.3 438.9,227.4 438.4,229 438,230.6 437.4,232.5 436.7,234.6 436,236.4 435.3,238 434.5,239.6 433.7,241 432.6,242.9 431.4,244.6 430.3,246.2 429.2,247.7 428,249.1 426,250.4 424,249.7 423.1,248.4 422.3,246.7 421.7,245.2 421,243.7 420.4,242 419.6,240.2 418.6,237.9 417.7,236 416.5,233.6 415.4,231.5 414.2,229.4 413.1,227.7 411.8,226 410.6,224.6 409.4,223.5 408.5,222.1 408.3,220.6 408.7,219Z" fill="#fff"/>
<clipPath id="c4k"><path d="M409.1,218.1 410.2,216.3 411.4,214.4 412.9,212.5 414.5,210.8 416.1,209.4 417.4,208.3 419.4,206.6 421.5,205.5 423.4,204.7 425.4,204.3 427.4,203.9 429.2,203.7 431,203.5 432.7,203.5 435,203.6 436.3,203.9 437.5,204.4 438.6,205.3 439.8,206.8 440.5,208.2 440.9,210.2 441,212.7 441,214.4 441,216.7 440.8,218.3 440.5,220.7 440,223.2 439.4,225.3 438.9,227.4 438.4,229 438,230.6 437.4,232.5 436.7,234.6 436,236.4 435.3,238 434.5,239.6 433.7,241 432.6,242.9 431.4,244.6 430.3,246.2 429.2,247.7 428,249.1 426,250.4 424,249.7 423.1,248.4 422.3,246.7 421.7,245.2 421,243.7 420.4,242 419.6,240.2 418.6,237.9 417.7,236 416.5,233.6 415.4,231.5 414.2,229.4 413.1,227.7 411.8,226 410.6,224.6 409.4,223.5 408.5,222.1 408.3,220.6 408.7,219Z"/></clipPath>
<g clip-path="url(#c4k)">
<ellipse cx="429" cy="219" rx="14.5" ry="20.2" transform="rotate(-12 429 219)" fill="#000" fill-opacity="0.3" filter="url(#blur15)"/>
<ellipse cx="429" cy="219" rx="10" ry="15" transform="rotate(-12 429 219)" fill="#0a0a0a" fill-opacity="0.62" filter="url(#blur1)"/>
</g>
<path d="M411.1,217.7 412,216.1 413.1,214.3 414.5,212.6 415.9,211.1 417.4,209.8 418.5,208.8 420.4,207.3 422.3,206.2 424,205.6 425.8,205.2 427.6,204.8 429.3,204.6 431,204.5 432.5,204.4 434.6,204.5 435.7,204.8 436.9,205.3 437.8,206.1 438.9,207.5 439.5,208.7 439.9,210.5 440,212.8 440,214.4 440,216.4 439.8,217.9 439.5,220.1 439,222.4 438.6,224.3 438.1,226.1 437.6,227.6 437.2,229.1 436.7,230.8 436.1,232.7 435.4,234.4 434.8,235.8 434.1,237.2 433.4,238.5 432.4,240.2 431.3,241.8 430.3,243.2 429.2,244.6 428.2,245.9 426.4,247.1 424.5,246.4 423.7,245.2 423,243.7 422.4,242.4 421.9,241 421.2,239.5 420.5,237.8 419.7,235.7 418.9,234 417.8,231.8 416.7,229.8 415.6,228 414.6,226.4 413.5,224.9 412.4,223.6 411.3,222.6 410.5,221.4 410.3,220 410.7,218.6ZM412.9,217.4 413.8,215.9 414.8,214.3 416,212.8 417.3,211.4 418.6,210.2 419.6,209.3 421.3,208 423,207 424.6,206.4 426.2,206.1 427.9,205.8 429.3,205.5 430.9,205.4 432.2,205.4 434.1,205.5 435.2,205.7 436.2,206.2 437,206.9 438.1,208.1 438.6,209.2 438.9,210.9 439,212.9 439,214.4 439,216.2 438.9,217.5 438.6,219.5 438.2,221.6 437.7,223.3 437.3,224.9 436.9,226.3 436.5,227.6 436.1,229.1 435.5,230.8 434.9,232.4 434.3,233.6 433.7,234.9 433.1,236.1 432.1,237.6 431.2,239 430.2,240.3 429.3,241.6 428.4,242.7 426.7,243.8 425.1,243.2 424.3,242.2 423.7,240.8 423.2,239.6 422.7,238.3 422.1,237 421.5,235.4 420.7,233.6 420,232 419,230 418,228.3 417.1,226.6 416.1,225.2 415.1,223.8 414.1,222.7 413.2,221.8 412.4,220.7 412.2,219.4 412.6,218.1ZM414.8,217 415.5,215.7 416.4,214.3 417.5,212.9 418.7,211.7 419.8,210.6 420.8,209.8 422.3,208.6 423.8,207.8 425.2,207.2 426.6,206.9 428.1,206.6 429.4,206.4 430.8,206.3 432,206.3 433.7,206.4 434.6,206.6 435.5,207 436.3,207.7 437.2,208.8 437.6,209.7 437.9,211.2 438,213.1 438,214.3 438,216 437.9,217.1 437.6,218.9 437.3,220.7 436.9,222.3 436.5,223.8 436.2,225 435.8,226.1 435.4,227.5 434.9,229 434.4,230.4 433.9,231.5 433.3,232.7 432.7,233.7 431.9,235.1 431.1,236.3 430.2,237.5 429.4,238.7 428.5,239.7 427.1,240.6 425.6,240.1 424.9,239.1 424.3,237.9 423.9,236.8 423.5,235.7 423,234.5 422.4,233.1 421.7,231.5 421,230.1 420.2,228.3 419.3,226.8 418.4,225.3 417.6,224 416.7,222.8 415.8,221.8 415,220.9 414.3,220 414.1,218.8 414.4,217.7ZM416.5,216.7 417.2,215.5 418,214.2 419,213 420,211.9 421,211 421.8,210.3 423.2,209.2 424.5,208.5 425.7,208 427,207.7 428.3,207.5 429.5,207.3 430.7,207.2 431.8,207.2 433.2,207.3 434.1,207.4 434.9,207.8 435.5,208.4 436.4,209.4 436.8,210.2 437,211.5 437.1,213.2 437.1,214.3 437.1,215.7 437,216.8 436.8,218.3 436.4,220 436.1,221.3 435.7,222.6 435.4,223.7 435.1,224.7 434.8,225.9 434.3,227.3 433.9,228.5 433.4,229.5 432.9,230.5 432.4,231.4 431.7,232.7 430.9,233.7 430.2,234.8 429.5,235.8 428.7,236.7 427.4,237.5 426.1,237.1 425.5,236.2 425,235.1 424.6,234.2 424.2,233.2 423.8,232.1 423.3,230.9 422.6,229.5 422.1,228.2 421.3,226.7 420.5,225.3 419.8,223.9 419.1,222.8 418.3,221.7 417.5,220.9 416.7,220.1 416.1,219.3 416,218.3 416.2,217.2ZM418.3,216.3 418.8,215.3 419.5,214.2 420.4,213.1 421.3,212.2 422.2,211.4 422.9,210.8 424,209.9 425.2,209.2 426.3,208.8 427.4,208.5 428.5,208.3 429.5,208.2 430.6,208.1 431.5,208.1 432.8,208.1 433.5,208.3 434.2,208.6 434.8,209.1 435.5,210 435.9,210.7 436.1,211.8 436.2,213.3 436.2,214.2 436.2,215.5 436.1,216.4 435.9,217.8 435.6,219.2 435.3,220.4 435,221.5 434.7,222.4 434.5,223.4 434.2,224.4 433.8,225.6 433.4,226.6 433,227.5 432.5,228.4 432.1,229.2 431.5,230.3 430.8,231.2 430.2,232.1 429.5,233 428.9,233.8 427.7,234.5 426.6,234.1 426.1,233.4 425.6,232.4 425.3,231.6 425,230.7 424.6,229.8 424.1,228.7 423.6,227.5 423.1,226.4 422.4,225 421.8,223.8 421.1,222.7 420.5,221.7 419.8,220.7 419.1,220 418.4,219.3 417.9,218.6 417.8,217.7 418,216.8ZM419.9,216 420.4,215.1 421,214.2 421.7,213.3 422.5,212.5 423.3,211.8 423.9,211.2 424.9,210.4 425.9,209.9 426.8,209.5 427.8,209.3 428.7,209.1 429.6,209 430.5,208.9 431.3,208.9 432.4,209 433,209.1 433.6,209.4 434.1,209.8 434.8,210.5 435.1,211.2 435.3,212.1 435.3,213.4 435.3,214.2 435.3,215.3 435.2,216.1 435.1,217.2 434.8,218.5 434.6,219.5 434.3,220.5 434.1,221.2 433.8,222 433.6,222.9 433.2,223.9 432.9,224.8 432.5,225.6 432.2,226.4 431.8,227.1 431.3,228 430.7,228.8 430.1,229.5 429.6,230.3 429,231 428.1,231.6 427.1,231.3 426.7,230.6 426.3,229.8 426,229.1 425.7,228.4 425.3,227.5 425,226.6 424.5,225.6 424.1,224.6 423.5,223.5 422.9,222.4 422.4,221.4 421.8,220.6 421.2,219.8 420.6,219.1 420.1,218.6 419.6,217.9 419.5,217.2 419.7,216.4ZM421.5,215.7 421.9,214.9 422.4,214.1 423.1,213.4 423.7,212.7 424.3,212.1 424.9,211.7 425.7,211 426.5,210.5 427.3,210.2 428.1,210.1 428.9,209.9 429.7,209.8 430.4,209.7 431.1,209.7 432,209.8 432.6,209.9 433.1,210.1 433.5,210.5 434,211.1 434.2,211.6 434.4,212.4 434.5,213.5 434.5,214.2 434.4,215.1 434.4,215.7 434.2,216.7 434,217.7 433.8,218.6 433.6,219.4 433.4,220.1 433.2,220.7 433,221.5 432.7,222.4 432.4,223.1 432.1,223.7 431.8,224.4 431.5,225 431.1,225.7 430.6,226.4 430.1,227.1 429.7,227.7 429.2,228.3 428.4,228.8 427.6,228.5 427.2,228 426.9,227.3 426.6,226.7 426.4,226.1 426.1,225.4 425.8,224.6 425.4,223.7 425,222.9 424.5,222 424.1,221.1 423.6,220.3 423.1,219.5 422.6,218.9 422.1,218.3 421.6,217.8 421.3,217.3 421.2,216.7 421.3,216ZM423.1,215.4 423.4,214.8 423.8,214.1 424.3,213.5 424.8,212.9 425.4,212.5 425.8,212.1 426.5,211.6 427.2,211.2 427.8,210.9 428.5,210.8 429.1,210.6 429.7,210.6 430.3,210.5 430.9,210.5 431.7,210.5 432.1,210.6 432.5,210.8 432.8,211.1 433.3,211.6 433.5,212.1 433.6,212.7 433.7,213.6 433.7,214.1 433.6,214.9 433.6,215.4 433.5,216.2 433.3,217.1 433.1,217.8 433,218.4 432.8,219 432.6,219.5 432.5,220.1 432.2,220.8 432,221.5 431.8,222 431.5,222.5 431.2,223 430.9,223.6 430.5,224.2 430.1,224.7 429.7,225.2 429.3,225.7 428.7,226.1 428,225.9 427.7,225.4 427.4,224.9 427.2,224.4 427,223.9 426.8,223.3 426.5,222.7 426.2,222 425.9,221.3 425.5,220.5 425.1,219.8 424.7,219.1 424.4,218.5 424,218 423.5,217.5 423.2,217.2 422.8,216.7 422.8,216.2 422.9,215.7ZM424.5,215.1 424.8,214.6 425.1,214.1 425.5,213.6 425.9,213.2 426.4,212.8 426.7,212.5 427.2,212.1 427.8,211.8 428.3,211.6 428.8,211.5 429.3,211.4 429.8,211.3 430.3,211.2 430.7,211.2 431.3,211.3 431.7,211.3 432,211.5 432.2,211.7 432.6,212.1 432.7,212.5 432.9,213 432.9,213.7 432.9,214.1 432.9,214.7 432.8,215.1 432.7,215.8 432.6,216.4 432.5,217 432.3,217.5 432.2,217.9 432.1,218.4 431.9,218.8 431.8,219.4 431.6,219.9 431.4,220.3 431.2,220.7 431,221.1 430.7,221.6 430.4,222 430.1,222.4 429.8,222.8 429.5,223.2 428.9,223.5 428.4,223.4 428.2,223 428,222.6 427.8,222.2 427.7,221.8 427.5,221.4 427.3,220.9 427,220.3 426.8,219.8 426.5,219.1 426.2,218.6 425.9,218 425.6,217.6 425.2,217.1 424.9,216.8 424.6,216.5 424.4,216.1 424.3,215.7 424.4,215.3ZM425.9,214.8 426.1,214.4 426.3,214.1 426.6,213.7 427,213.4 427.3,213.1 427.5,212.9 427.9,212.6 428.3,212.3 428.7,212.2 429.1,212.1 429.5,212 429.8,212 430.2,211.9 430.5,211.9 431,212 431.2,212 431.5,212.1 431.7,212.3 431.9,212.6 432.1,212.9 432.1,213.2 432.2,213.7 432.2,214.1 432.1,214.5 432.1,214.8 432.1,215.3 432,215.8 431.9,216.2 431.7,216.6 431.7,216.9 431.6,217.3 431.5,217.6 431.3,218 431.2,218.4 431,218.7 430.9,219 430.7,219.3 430.5,219.7 430.3,220 430.1,220.3 429.8,220.6 429.6,220.9 429.2,221.1 428.8,221 428.6,220.7 428.5,220.4 428.4,220.1 428.2,219.8 428.1,219.5 428,219.1 427.8,218.7 427.6,218.3 427.4,217.8 427.1,217.4 426.9,217 426.7,216.7 426.4,216.4 426.2,216.1 426,215.9 425.8,215.6 425.7,215.3 425.8,215ZM427.2,214.6 427.3,214.3 427.5,214 427.7,213.8 427.9,213.6 428.1,213.4 428.3,213.2 428.6,213 428.9,212.8 429.1,212.8 429.4,212.7 429.6,212.6 429.9,212.6 430.1,212.6 430.4,212.6 430.7,212.6 430.9,212.6 431,212.7 431.2,212.8 431.3,213 431.4,213.2 431.5,213.5 431.5,213.8 431.5,214.1 431.5,214.4 431.5,214.6 431.4,214.9 431.3,215.2 431.3,215.5 431.2,215.8 431.1,216 431.1,216.2 431,216.5 430.9,216.8 430.8,217 430.7,217.2 430.6,217.5 430.5,217.6 430.3,217.9 430.2,218.1 430,218.3 429.9,218.6 429.7,218.7 429.5,218.9 429.2,218.8 429.1,218.6 429,218.4 428.9,218.2 428.8,218 428.7,217.8 428.6,217.5 428.5,217.2 428.3,217 428.2,216.6 428,216.4 427.9,216.1 427.7,215.8 427.5,215.6 427.4,215.4 427.2,215.3 427.1,215.1 427.1,214.9 427.1,214.7ZM428.3,214.3 428.4,214.2 428.5,214 428.6,213.9 428.8,213.7 428.9,213.6 429,213.5 429.2,213.4 429.3,213.3 429.5,213.3 429.6,213.2 429.8,213.2 429.9,213.2 430.1,213.2 430.2,213.2 430.4,213.2 430.5,213.2 430.6,213.2 430.7,213.3 430.8,213.4 430.8,213.5 430.9,213.7 430.9,213.9 430.9,214 430.9,214.2 430.9,214.3 430.8,214.5 430.8,214.7 430.8,214.9 430.7,215.1 430.7,215.2 430.6,215.3 430.6,215.5 430.5,215.6 430.5,215.8 430.4,215.9 430.4,216 430.3,216.2 430.2,216.3 430.1,216.4 430,216.6 429.9,216.7 429.8,216.8 429.7,216.9 429.5,216.8 429.4,216.7 429.4,216.6 429.3,216.5 429.3,216.4 429.2,216.2 429.2,216.1 429.1,215.9 429,215.8 428.9,215.6 428.8,215.4 428.7,215.2 428.7,215.1 428.6,215 428.5,214.8 428.4,214.8 428.3,214.6 428.3,214.5 428.3,214.4ZM429.3,214.1 429.4,214.1 429.4,214 429.4,214 429.5,213.9 429.5,213.9 429.6,213.8 429.7,213.8 429.7,213.7 429.8,213.7 429.9,213.7 429.9,213.7 430,213.7 430,213.7 430.1,213.7 430.2,213.7 430.2,213.7 430.2,213.7 430.3,213.7 430.3,213.8 430.3,213.8 430.4,213.9 430.4,214 430.4,214 430.4,214.1 430.4,214.1 430.3,214.2 430.3,214.3 430.3,214.4 430.3,214.4 430.3,214.5 430.3,214.5 430.2,214.6 430.2,214.7 430.2,214.7 430.2,214.8 430.1,214.8 430.1,214.9 430.1,214.9 430,215 430,215 430,215.1 429.9,215.1 429.9,215.2 429.8,215.2 429.8,215.1 429.7,215.1 429.7,215 429.7,215 429.7,214.9 429.7,214.8 429.6,214.8 429.6,214.7 429.6,214.6 429.5,214.6 429.5,214.5 429.5,214.4 429.4,214.4 429.4,214.3 429.3,214.3 429.3,214.3 429.3,214.2 429.3,214.2Z" fill="none" stroke="#000" stroke-opacity="0.72" stroke-width="0.5"/>
<path d="M409.1,218.1 409.7,217.2 410.2,216.3 410.7,215.4 411.4,214.4 411.9,213.6 412.9,212.5 413.5,211.8 414.5,210.8 415.4,209.9 416.1,209.4 416.7,208.8 417.4,208.3 418.3,207.4 419.4,206.6 420.2,206.1 421.5,205.5 422.3,205.1 423.4,204.7 424.4,204.5 425.4,204.3 426.4,204.1 427.4,203.9 428.5,203.8 429.2,203.7 430.4,203.5 431,203.5 431.9,203.5 432.7,203.5 434.3,203.5 435,203.6 435.8,203.7 436.3,203.9 437.1,204.2 437.5,204.4 438.1,204.9 438.6,205.3 439.4,206.3 439.8,206.8 440.2,207.5 440.5,208.2 440.7,209.4 440.9,210.2 441,211.4 441,212.7 441,213.6 441,214.4 441,215.3 441,216.7 440.9,217.5 440.8,218.3 440.7,219.6 440.5,220.7 440.3,221.8 440,223.2 439.7,224.3 439.4,225.3 439.2,226.3 438.9,227.4 438.6,228.2 438.4,229 438.2,229.8 438,230.6 437.7,231.4 437.4,232.5 437.1,233.5 436.7,234.6 436.3,235.7 436,236.4 435.7,237.2 435.3,238 434.9,238.8 434.5,239.6 434.1,240.3 433.7,241 433.2,242 432.6,242.9 432,243.7 431.4,244.6 430.9,245.4 430.3,246.2 429.7,246.9 429.2,247.7 428.6,248.4 428,249.1 426.8,250.1 426,250.4 424.7,250.2 424,249.7 423.5,249.1 423.1,248.4 422.7,247.6 422.3,246.7 422,246 421.7,245.2 421.3,244.5 421,243.7 420.7,243 420.4,242 420,241.1 419.6,240.2 419.2,239.2 418.6,237.9 418.2,237 417.7,236 417.2,234.9 416.5,233.6 415.9,232.5 415.4,231.5 414.8,230.4 414.2,229.4 413.5,228.4 413.1,227.7 412.3,226.6 411.8,226 411.2,225.2 410.6,224.6 410,224.1 409.4,223.5 408.9,222.9 408.5,222.1 408.3,221.6 408.3,220.6 408.4,220 408.7,219Z" fill="none" stroke="#000" stroke-opacity="0.75" stroke-width="0.55"/>
<ellipse cx="427.5" cy="217.3" rx="0.5" ry="1.0" fill="#fff" fill-opacity="0.75"/>
</g>
<path d="M351.9,257.2h-1.3M358.6,263.3v1.3M351.9,254h-1.3M362.1,263.3v1.3M351.9,251.7h-1.3M364.7,263.3v1.3M351.9,249.9h-1.3M366.6,263.3v1.3M351.9,248.5h-1.3M368.2,263.3v1.3M351.9,247.2h-1.3M369.6,263.3v1.3M351.9,246.2h-1.3M370.7,263.3v1.3M351.9,245.2h-1.3M371.8,263.3v1.3M351.9,238.9h-1.3M378.8,263.3v1.3M351.9,235.7h-1.3M382.3,263.3v1.3M351.9,233.4h-1.3M384.8,263.3v1.3M351.9,231.6h-1.3M386.8,263.3v1.3M351.9,230.2h-1.3M388.4,263.3v1.3M351.9,228.9h-1.3M389.7,263.3v1.3M351.9,227.9h-1.3M390.9,263.3v1.3M351.9,226.9h-1.3M391.9,263.3v1.3M351.9,220.6h-1.3M398.9,263.3v1.3M351.9,217.4h-1.3M402.5,263.3v1.3M351.9,215.1h-1.3M405,263.3v1.3M351.9,213.3h-1.3M407,263.3v1.3M351.9,211.9h-1.3M408.6,263.3v1.3M351.9,210.6h-1.3M409.9,263.3v1.3M351.9,209.6h-1.3M411.1,263.3v1.3M351.9,208.6h-1.3M412.1,263.3v1.3M351.9,202.3h-1.3M419.1,263.3v1.3M351.9,199.1h-1.3M422.7,263.3v1.3M351.9,196.8h-1.3M425.2,263.3v1.3M351.9,195h-1.3M427.2,263.3v1.3M351.9,193.6h-1.3M428.8,263.3v1.3M351.9,192.3h-1.3M430.1,263.3v1.3M351.9,191.3h-1.3M431.3,263.3v1.3M351.9,190.3h-1.3M432.3,263.3v1.3M351.9,184h-1.3M439.3,263.3v1.3M351.9,180.8h-1.3M442.9,263.3v1.3M351.9,178.5h-1.3M445.4,263.3v1.3M351.9,176.7h-1.3M447.3,263.3v1.3M351.9,175.3h-1.3M448.9,263.3v1.3M351.9,174h-1.3M450.3,263.3v1.3M351.9,173h-1.3M451.5,263.3v1.3M351.9,172h-1.3M452.5,263.3v1.3M351.9,165.7h-1.3M459.5,263.3v1.3M351.9,162.5h-1.3M463,263.3v1.3M351.9,160.2h-1.3M465.6,263.3v1.3M351.9,158.4h-1.3M467.5,263.3v1.3M351.9,157h-1.3M469.1,263.3v1.3M351.9,155.7h-1.3M470.5,263.3v1.3M351.9,154.7h-1.3M471.6,263.3v1.3M351.9,153.7h-1.3M472.7,263.3v1.3" stroke="#555" stroke-width="0.5" fill="none"/>
<path d="M352.5,262.7h-3M352.5,262.7v2.6M352.5,244.4h-3M372.7,262.7v2.6M352.5,226.1h-3M392.9,262.7v2.6M352.5,207.8h-3M413.1,262.7v2.6M352.5,189.5h-3M433.2,262.7v2.6M352.5,171.2h-3M453.4,262.7v2.6M352.5,152.9h-3M473.6,262.7v2.6" stroke="#111" stroke-width="0.9" fill="none"/>
<text x="347.5" y="265.7" font-size="8.3" text-anchor="end" font-family="'Liberation Sans', sans-serif" fill="#111" textLength="11.2" lengthAdjust="spacingAndGlyphs">10<tspan font-size="6.0" dy="-3.0">0</tspan></text>
<text x="347.5" y="247.4" font-size="8.3" text-anchor="end" font-family="'Liberation Sans', sans-serif" fill="#111" textLength="11.2" lengthAdjust="spacingAndGlyphs">10<tspan font-size="6.0" dy="-3.0">1</tspan></text>
<text x="347.5" y="229.1" font-size="8.3" text-anchor="end" font-family="'Liberation Sans', sans-serif" fill="#111" textLength="11.2" lengthAdjust="spacingAndGlyphs">10<tspan font-size="6.0" dy="-3.0">2</tspan></text>
<text x="347.5" y="210.8" font-size="8.3" text-anchor="end" font-family="'Liberation Sans', sans-serif" fill="#111" textLength="11.2" lengthAdjust="spacingAndGlyphs">10<tspan font-size="6.0" dy="-3.0">3</tspan></text>
<text x="347.5" y="192.5" font-size="8.3" text-anchor="end" font-family="'Liberation Sans', sans-serif" fill="#111" textLength="11.2" lengthAdjust="spacingAndGlyphs">10<tspan font-size="6.0" dy="-3.0">4</tspan></text>
<text x="347.5" y="174.2" font-size="8.3" text-anchor="end" font-family="'Liberation Sans', sans-serif" fill="#111" textLength="11.2" lengthAdjust="spacingAndGlyphs">10<tspan font-size="6.0" dy="-3.0">5</tspan></text>
<text x="347.5" y="157.5" font-size="8.3" text-anchor="end" font-family="'Liberation Sans', sans-serif" fill="#111" textLength="11.2" lengthAdjust="spacingAndGlyphs">10<tspan font-size="6.0" dy="-3.0">6</tspan></text>
<text x="356.2" y="274.7" font-size="8.3" text-anchor="middle" font-family="'Liberation Sans', sans-serif" fill="#111" textLength="11.2" lengthAdjust="spacingAndGlyphs">10<tspan font-size="6.0" dy="-3.0">0</tspan></text>
<text x="373.1" y="274.7" font-size="8.3" text-anchor="middle" font-family="'Liberation Sans', sans-serif" fill="#111" textLength="11.2" lengthAdjust="spacingAndGlyphs">10<tspan font-size="6.0" dy="-3.0">1</tspan></text>
<text x="392.7" y="274.7" font-size="8.3" text-anchor="middle" font-family="'Liberation Sans', sans-serif" fill="#111" textLength="11.2" lengthAdjust="spacingAndGlyphs">10<tspan font-size="6.0" dy="-3.0">2</tspan></text>
<text x="412.3" y="274.7" font-size="8.3" text-anchor="middle" font-family="'Liberation Sans', sans-serif" fill="#111" textLength="11.2" lengthAdjust="spacingAndGlyphs">10<tspan font-size="6.0" dy="-3.0">3</tspan></text>
<text x="431.9" y="274.7" font-size="8.3" text-anchor="middle" font-family="'Liberation Sans', sans-serif" fill="#111" textLength="11.2" lengthAdjust="spacingAndGlyphs">10<tspan font-size="6.0" dy="-3.0">4</tspan></text>
<text x="451.5" y="274.7" font-size="8.3" text-anchor="middle" font-family="'Liberation Sans', sans-serif" fill="#111" textLength="11.2" lengthAdjust="spacingAndGlyphs">10<tspan font-size="6.0" dy="-3.0">5</tspan></text>
<text x="471.1" y="274.7" font-size="8.3" text-anchor="middle" font-family="'Liberation Sans', sans-serif" fill="#111" textLength="11.2" lengthAdjust="spacingAndGlyphs">10<tspan font-size="6.0" dy="-3.0">6</tspan></text>
<rect x="352.5" y="152.9" width="121.1" height="109.8" fill="none" stroke="#000" stroke-width="1.35"/>
<rect x="387.2" y="177.1" width="33.4" height="26" fill="none" stroke="#111" stroke-width="1.4"/>
<text x="404.5" y="174.2" font-size="7.7" text-anchor="middle" font-family="'Liberation Sans', sans-serif" fill="#222">0.1</text>
<clipPath id="c5"><rect x="204.9" y="313.5" width="120.2" height="110.4"/></clipPath>
<g clip-path="url(#c5)">
<path transform="translate(0,0.5)" d="M271 316h1m4 0h1m6 2h1m0 0h1m-9 1h1m2 0h1m-4 1h1m2 0h1m-6 2h1m9 1h1m-6 2h1m0 0h1m-2 1h1m6 0h1m-5 1h1m-6 1h1m5 0h1m-2 1h1m0 0h1m-5 1h1m-2 1h1m7 0h1m-9 2h1m-6 2h1m4 0h1m0 0h1m-2 1h1m3 0h1m-6 1h1m6 1h1m-6 2h1m6 0h1m-6 1h1m3 0h1m-8 1h1m1 0h1m2 0h1m-9 1h1m3 0h1m5 0h1m-9 1h1m2 0h1m1 0h1m-35 1h1m30 0h1m4 0h1m-6 1h1m0 1h1m4 1h1m0 2h1m-11 1h1m5 0h1m-6 1h1m1 2h1m0 0h1m-2 2h1m0 0h1m1 2h1m-1 2h1m3 1h1m-45 1h1m16 1h1m6 0h1m-5 1h1m-18 1h1m8 0h1m7 0h1m-19 1h1m19 0h1m0 0h1m-9 1h1m0 0h1m-15 1h1m18 0h1m0 0h1m-20 2h1m12 0h1m-27 1h1m27 0h1m-14 1h1m10 0h1m-20 1h1m2 0h1m9 0h1m5 0h1m-9 1h1m5 0h1m0 0h1m1 0h1m-14 1h1m3 0h1m4 0h1m1 0h1m0 0h1m-16 1h1m6 0h1m3 0h1m0 0h1m0 0h1m-20 1h1m11 0h1m3 0h1m0 0h1m0 0h1m1 0h1m-22 1h1m17 0h1m-13 1h1m13 0h1m-13 1h1m6 0h1m3 0h1m0 0h1m0 1h1m-7 1h1m1 0h1m2 0h1m0 0h1m-18 1h1m0 0h1m1 0h1m5 0h1m3 0h1m-7 1h1m1 0h1m3 0h1m0 0h1m1 0h1m0 0h1m-9 1h1m0 0h1m2 0h1m-15 1h1m13 0h1m4 0h1m2 0h1m-14 1h1m5 0h1m5 0h1m-20 1h1m1 0h1m5 0h1m6 0h1m3 0h1m0 0h1m0 0h1m-14 1h1m1 0h1m-1 1h1m1 0h1m1 0h1m1 0h1m3 0h1m-16 1h1m8 0h1m2 0h1m0 0h1m-28 1h1m12 0h1m1 0h1m0 0h1m2 0h1m4 0h1m2 0h1m-19 1h1m8 0h1m1 0h1m4 0h1m-10 1h1m2 0h1m4 0h1m1 0h1m3 0h1m-29 1h1m5 0h1m11 0h1m3 1h1m3 1h1m2 0h1m1 0h1m-44 1h1m14 0h1m9 1h1m3 0h1m-3 1h1m4 0h1m3 0h1m5 0h1m-21 2h1m3 0h1m9 0h1m-10 1h1m12 2h1m5 0h1m-8 1h1m-15 2h1m3 0h1m8 0h1m-41 1h1m38 1h1m9 3h1m-8 1h1m-1 1h1m1 2h1m8 0h1m0 0h1m2 0h1m-3 1h1m2 0h1m-13 1h1m2 0h1m3 0h1m-1 1h1m0 0h1m0 0h1m4 0h1m-11 2h1m3 0h1m0 0h1m-3 1h1m3 0h1m0 0h1" stroke="#000" stroke-opacity="0.55" stroke-width="1" fill="none"/>
<path transform="translate(0,0.5)" d="M271 314h1m9 2h1m0 0h1m2 4h1m-3 3h1m-2 2h1m-8 1h1m5 0h1m-4 3h1m2 0h1m-8 1h1m3 1h1m2 0h1m-1 1h1m4 0h1m-10 1h1m2 0h1m-1 1h1m1 0h1m-4 2h1m2 0h1m1 0h1m-3 2h1m-4 2h1m4 0h1m-3 2h1m-10 2h1m4 0h1m0 2h1m0 2h1m3 1h1m-4 1h1m-2 2h1m-2 1h1m1 5h1m6 1h1m-23 4h1m-6 5h1m1 0h1m-8 1h1m4 2h1m-3 1h1m-3 2h1m0 0h1m0 0h1m0 0h1m-7 1h1m2 0h1m-6 2h1m3 1h1m-9 1h1m5 0h1m1 0h1m39 0h1m-46 1h1m4 0h1m-12 1h1m8 0h1m2 1h1m-14 1h1m6 0h1m0 0h1m0 0h1m1 0h1m-9 1h1m3 0h1m4 0h1m2 0h1m-6 1h1m2 0h1m-23 1h1m19 0h1m1 0h1m1 0h1m-2 1h1m1 0h1m0 1h1m0 0h1m-15 1h1m2 1h1m4 0h1m6 0h1m-27 1h1m3 2h1m13 0h1m-9 1h1m15 0h1m-12 1h1m6 0h1m-13 1h1m1 0h1m10 1h1m-12 1h1m5 0h1m-11 1h1m14 1h1m-11 1h1m0 3h1m-8 1h1m7 2h1m1 2h1m15 3h1m-16 4h1m4 0h1m19 1h1m-5 1h1m4 1h1m-8 1h1m-3 1h1m0 0h1m0 0h1m0 0h1m0 0h1m-5 1h1m0 0h1m1 0h1m1 1h1m3 0h1" stroke="#000" stroke-opacity="0.3" stroke-width="1" fill="none"/>
<ellipse cx="266" cy="424.3" rx="24" ry="3" fill="#000" fill-opacity="0.06" stroke="#000" stroke-opacity="0.4" stroke-width="0.5"/>
<ellipse cx="268" cy="424.3" rx="17.1" ry="2.2" fill="none" stroke="#000" stroke-opacity="0.3" stroke-width="0.5"/>
<ellipse cx="276" cy="424.4" rx="10" ry="2.8" fill="#000" fill-opacity="0.8" filter="url(#blur05)"/>
<path d="M259.1,377 260.1,375.6 261.2,374.2 262.2,372.9 263.1,371.8 264.4,370.2 265.5,369 266.7,367.9 268,366.9 269.6,365.9 271.2,364.8 272.5,364 273.9,363.4 275.2,362.9 276.9,362.4 278.2,362.3 279.9,362.4 281.8,362.7 283.8,363.2 285.6,363.8 287,364.9 287.9,366.3 288.4,368.2 288.9,370.1 289.1,372.3 289.2,374.1 289.1,376.2 289,378 288.8,379.8 288.7,381.6 288.5,383.4 288.3,385.3 287.9,387.7 287.6,390 287.1,392.3 286.6,394.1 286.2,395.8 285.8,397.5 285.3,399.1 284.8,400.9 284.1,403 283.4,405.1 282.6,407.1 281.9,408.6 281.1,410.3 280.2,412.1 278.7,414.3 277.3,414.6 276.1,413.4 275,411.2 274.1,409.4 273.1,407.2 272.3,405.3 271.5,403.6 270.4,401.1 269.5,399 268.8,397.3 267.6,394.8 266.5,392.5 265.6,390.7 264.6,389 263.6,387.3 262.7,385.9 261.5,384.3 260.4,382.9 259.2,381.7 258.4,380.3 258.2,378.9 258.6,377.7Z" fill="#fff"/>
<clipPath id="c5k"><path d="M259.1,377 260.1,375.6 261.2,374.2 262.2,372.9 263.1,371.8 264.4,370.2 265.5,369 266.7,367.9 268,366.9 269.6,365.9 271.2,364.8 272.5,364 273.9,363.4 275.2,362.9 276.9,362.4 278.2,362.3 279.9,362.4 281.8,362.7 283.8,363.2 285.6,363.8 287,364.9 287.9,366.3 288.4,368.2 288.9,370.1 289.1,372.3 289.2,374.1 289.1,376.2 289,378 288.8,379.8 288.7,381.6 288.5,383.4 288.3,385.3 287.9,387.7 287.6,390 287.1,392.3 286.6,394.1 286.2,395.8 285.8,397.5 285.3,399.1 284.8,400.9 284.1,403 283.4,405.1 282.6,407.1 281.9,408.6 281.1,410.3 280.2,412.1 278.7,414.3 277.3,414.6 276.1,413.4 275,411.2 274.1,409.4 273.1,407.2 272.3,405.3 271.5,403.6 270.4,401.1 269.5,399 268.8,397.3 267.6,394.8 266.5,392.5 265.6,390.7 264.6,389 263.6,387.3 262.7,385.9 261.5,384.3 260.4,382.9 259.2,381.7 258.4,380.3 258.2,378.9 258.6,377.7Z"/></clipPath>
<g clip-path="url(#c5k)">
<ellipse cx="278.5" cy="379" rx="13.8" ry="21.6" transform="rotate(-5 278.5 379)" fill="#000" fill-opacity="0.3" filter="url(#blur15)"/>
<ellipse cx="278.5" cy="379" rx="9.5" ry="16" transform="rotate(-5 278.5 379)" fill="#0a0a0a" fill-opacity="0.66" filter="url(#blur1)"/>
</g>
<path d="M262.1,376.4 263,375.2 263.9,374 264.8,372.9 265.5,372 266.6,370.6 267.5,369.6 268.6,368.7 269.7,367.8 271,367 272.3,366.1 273.5,365.4 274.7,364.9 275.7,364.5 277.2,364.1 278.2,364 279.7,364.1 281.3,364.3 283,364.7 284.5,365.2 285.7,366.2 286.4,367.4 286.9,368.9 287.2,370.5 287.5,372.4 287.5,373.9 287.5,375.7 287.4,377.2 287.2,378.7 287.1,380.3 286.9,381.8 286.8,383.4 286.5,385.4 286.1,387.4 285.7,389.3 285.4,390.9 285,392.3 284.7,393.7 284.3,395.1 283.9,396.6 283.3,398.4 282.6,400.1 281.9,401.8 281.4,403.1 280.7,404.5 279.9,406.1 278.7,407.9 277.5,408.2 276.4,407.1 275.5,405.3 274.8,403.7 274,401.9 273.2,400.3 272.6,398.8 271.7,396.7 270.9,394.9 270.3,393.5 269.3,391.4 268.4,389.5 267.6,388 266.8,386.5 265.9,385.1 265.1,383.9 264.2,382.6 263.2,381.4 262.2,380.3 261.5,379.2 261.3,378 261.7,376.9ZM264.9,375.8 265.6,374.8 266.4,373.9 267.1,372.9 267.7,372.2 268.7,371 269.4,370.2 270.3,369.4 271.2,368.7 272.3,368 273.4,367.3 274.3,366.7 275.3,366.3 276.2,365.9 277.4,365.6 278.3,365.5 279.5,365.6 280.8,365.8 282.2,366.1 283.5,366.6 284.5,367.4 285.1,368.3 285.4,369.6 285.7,371 285.9,372.5 286,373.8 285.9,375.2 285.8,376.5 285.7,377.8 285.6,379 285.5,380.3 285.3,381.6 285.1,383.3 284.8,384.9 284.5,386.5 284.2,387.8 283.9,389 283.6,390.1 283.3,391.3 282.9,392.5 282.4,394 281.9,395.4 281.3,396.9 280.9,397.9 280.3,399.1 279.7,400.4 278.7,401.9 277.7,402.1 276.8,401.3 276,399.7 275.4,398.4 274.7,396.9 274.1,395.6 273.6,394.4 272.8,392.7 272.2,391.2 271.7,390 270.9,388.2 270.1,386.6 269.5,385.4 268.8,384.2 268.1,383 267.4,382 266.6,380.9 265.8,379.9 265,379.1 264.4,378.1 264.3,377.1 264.6,376.3ZM267.5,375.2 268.1,374.5 268.7,373.7 269.3,373 269.8,372.3 270.5,371.4 271.1,370.7 271.8,370.1 272.6,369.5 273.5,369 274.4,368.4 275.1,367.9 275.9,367.6 276.6,367.3 277.6,367 278.3,367 279.3,367 280.4,367.2 281.5,367.4 282.5,367.8 283.3,368.4 283.8,369.2 284.1,370.3 284.4,371.4 284.5,372.6 284.5,373.6 284.5,374.8 284.4,375.8 284.3,376.8 284.2,377.9 284.1,378.9 284,380 283.8,381.3 283.6,382.6 283.3,383.9 283.1,384.9 282.9,385.9 282.6,386.8 282.4,387.8 282.1,388.8 281.7,390 281.3,391.1 280.8,392.3 280.4,393.1 280,394.1 279.4,395.1 278.6,396.3 277.8,396.5 277.1,395.8 276.5,394.6 276,393.5 275.5,392.3 275,391.3 274.5,390.3 273.9,388.9 273.4,387.7 273,386.7 272.4,385.3 271.7,384 271.2,383 270.6,382 270.1,381.1 269.6,380.3 268.9,379.4 268.2,378.6 267.6,377.9 267.1,377.1 267,376.4 267.3,375.6ZM269.9,374.8 270.4,374.2 270.9,373.5 271.3,373 271.7,372.5 272.3,371.7 272.7,371.2 273.3,370.7 273.9,370.3 274.6,369.8 275.3,369.4 275.9,369 276.5,368.7 277,368.5 277.8,368.3 278.4,368.3 279.1,368.3 280,368.5 280.8,368.7 281.7,368.9 282.3,369.4 282.6,370.1 282.9,370.9 283.1,371.7 283.2,372.7 283.2,373.5 283.2,374.4 283.1,375.2 283.1,376 283,376.8 282.9,377.6 282.8,378.4 282.7,379.5 282.5,380.5 282.3,381.5 282.1,382.3 281.9,383.1 281.7,383.8 281.5,384.5 281.3,385.3 281,386.3 280.7,387.2 280.3,388.1 280,388.7 279.6,389.5 279.2,390.3 278.6,391.2 278,391.4 277.4,390.8 276.9,389.9 276.6,389.1 276.1,388.1 275.8,387.3 275.4,386.5 274.9,385.4 274.5,384.5 274.2,383.7 273.7,382.6 273.2,381.6 272.8,380.8 272.4,380.1 271.9,379.3 271.5,378.7 271,378 270.5,377.4 270,376.8 269.6,376.2 269.5,375.6 269.7,375.1ZM272.1,374.3 272.4,373.9 272.8,373.4 273.1,373 273.4,372.6 273.9,372.1 274.2,371.7 274.6,371.3 275.1,371 275.6,370.6 276.1,370.3 276.5,370 277,369.8 277.4,369.7 278,369.5 278.4,369.5 279,369.5 279.6,369.6 280.2,369.8 280.9,370 281.3,370.3 281.6,370.8 281.8,371.4 281.9,372 282,372.8 282,373.4 282,374.1 282,374.7 281.9,375.2 281.9,375.8 281.8,376.4 281.7,377.1 281.6,377.9 281.5,378.6 281.3,379.4 281.2,380 281,380.5 280.9,381.1 280.8,381.6 280.6,382.2 280.4,382.9 280.1,383.6 279.8,384.2 279.6,384.8 279.4,385.3 279.1,385.9 278.6,386.6 278.1,386.7 277.7,386.3 277.3,385.6 277.1,385 276.7,384.3 276.4,383.7 276.2,383.1 275.8,382.3 275.5,381.6 275.3,381 274.9,380.2 274.5,379.4 274.2,378.8 273.9,378.3 273.6,377.7 273.3,377.2 272.9,376.7 272.5,376.3 272.1,375.9 271.9,375.4 271.8,375 271.9,374.5ZM274,373.9 274.3,373.6 274.5,373.3 274.7,373 274.9,372.7 275.3,372.3 275.5,372.1 275.8,371.8 276.1,371.6 276.4,371.3 276.8,371.1 277.1,370.9 277.4,370.8 277.7,370.7 278.1,370.6 278.4,370.5 278.8,370.6 279.3,370.6 279.7,370.7 280.1,370.9 280.5,371.1 280.7,371.5 280.8,371.9 280.9,372.3 280.9,372.8 281,373.3 280.9,373.7 280.9,374.2 280.9,374.6 280.8,375 280.8,375.4 280.8,375.8 280.7,376.4 280.6,376.9 280.5,377.5 280.4,377.9 280.3,378.3 280.2,378.6 280.1,379 280,379.4 279.8,379.9 279.6,380.4 279.4,380.9 279.3,381.2 279.1,381.6 278.9,382 278.6,382.5 278.2,382.6 277.9,382.3 277.7,381.8 277.5,381.4 277.3,380.9 277.1,380.5 276.9,380.1 276.6,379.5 276.4,379 276.3,378.6 276,378 275.7,377.5 275.5,377.1 275.3,376.7 275.1,376.3 274.8,376 274.6,375.6 274.3,375.3 274.1,375 273.8,374.7 273.8,374.4 273.9,374.1ZM275.7,373.6 275.8,373.4 276,373.2 276.1,373 276.3,372.8 276.5,372.6 276.6,372.4 276.8,372.3 277,372.1 277.2,372 277.4,371.8 277.6,371.7 277.8,371.6 278,371.5 278.3,371.5 278.5,371.4 278.7,371.5 279,371.5 279.3,371.6 279.5,371.7 279.7,371.8 279.9,372 279.9,372.3 280,372.6 280,372.9 280.1,373.2 280,373.5 280,373.7 280,374 280,374.3 280,374.5 279.9,374.8 279.9,375.1 279.8,375.5 279.7,375.8 279.7,376.1 279.6,376.3 279.6,376.6 279.5,376.8 279.4,377.1 279.3,377.4 279.2,377.7 279.1,378 279,378.2 278.9,378.4 278.7,378.7 278.5,379 278.3,379.1 278.1,378.9 278,378.6 277.9,378.3 277.7,378 277.6,377.7 277.5,377.5 277.3,377.1 277.2,376.8 277.1,376.5 276.9,376.2 276.8,375.8 276.6,375.6 276.5,375.3 276.3,375.1 276.2,374.9 276,374.7 275.9,374.4 275.7,374.3 275.6,374.1 275.5,373.9 275.6,373.7ZM277,373.3 277.1,373.2 277.2,373.1 277.3,373 277.3,372.9 277.4,372.8 277.5,372.7 277.6,372.6 277.7,372.5 277.8,372.5 277.9,372.4 278,372.3 278.2,372.3 278.2,372.2 278.4,372.2 278.5,372.2 278.6,372.2 278.8,372.2 278.9,372.3 279,372.3 279.1,372.4 279.2,372.5 279.3,372.6 279.3,372.8 279.3,372.9 279.3,373.1 279.3,373.2 279.3,373.4 279.3,373.5 279.3,373.7 279.3,373.8 279.2,373.9 279.2,374.1 279.2,374.3 279.2,374.5 279.1,374.6 279.1,374.7 279.1,374.9 279,375 279,375.1 278.9,375.3 278.9,375.4 278.8,375.6 278.8,375.7 278.7,375.8 278.6,376 278.5,376.1 278.4,376.2 278.3,376.1 278.2,375.9 278.2,375.8 278.1,375.6 278,375.5 278,375.3 277.9,375.1 277.8,375 277.8,374.9 277.7,374.7 277.6,374.5 277.5,374.3 277.4,374.2 277.4,374.1 277.3,374 277.2,373.9 277.1,373.8 277,373.7 277,373.6 277,373.5 277,373.4ZM278,373.1 278,373.1 278.1,373 278.1,373 278.1,373 278.1,372.9 278.2,372.9 278.2,372.9 278.2,372.8 278.3,372.8 278.3,372.8 278.4,372.8 278.4,372.8 278.4,372.7 278.5,372.7 278.5,372.7 278.5,372.7 278.6,372.7 278.6,372.8 278.7,372.8 278.7,372.8 278.7,372.8 278.7,372.9 278.8,372.9 278.8,373 278.8,373 278.8,373.1 278.8,373.1 278.8,373.2 278.8,373.2 278.8,373.3 278.7,373.3 278.7,373.4 278.7,373.4 278.7,373.5 278.7,373.5 278.7,373.6 278.7,373.6 278.7,373.7 278.7,373.7 278.6,373.8 278.6,373.8 278.6,373.9 278.6,373.9 278.6,373.9 278.5,374 278.5,374 278.5,374 278.4,374 278.4,374 278.4,373.9 278.4,373.9 278.3,373.8 278.3,373.8 278.3,373.7 278.3,373.7 278.3,373.6 278.2,373.5 278.2,373.5 278.2,373.4 278.2,373.4 278.1,373.4 278.1,373.3 278.1,373.3 278,373.2 278,373.2 278,373.2 278,373.1 278,373.1Z" fill="none" stroke="#000" stroke-opacity="0.72" stroke-width="0.5"/>
<path d="M259.1,377 259.6,376.3 260.1,375.6 260.6,374.9 261.2,374.2 261.6,373.7 262.2,372.9 262.6,372.4 263.1,371.8 263.6,371.2 264.4,370.2 264.9,369.6 265.5,369 265.9,368.6 266.7,367.9 267.3,367.5 268,366.9 268.8,366.4 269.6,365.9 270.4,365.3 271.2,364.8 272,364.4 272.5,364 273.4,363.6 273.9,363.4 274.6,363.1 275.2,362.9 276.3,362.6 276.9,362.4 277.6,362.3 278.2,362.3 279.2,362.4 279.9,362.4 280.9,362.6 281.8,362.7 282.8,363 283.8,363.2 284.7,363.4 285.6,363.8 286.2,364.2 287,364.9 287.4,365.5 287.9,366.3 288.2,367.2 288.4,368.2 288.6,369.1 288.9,370.1 289,371.3 289.1,372.3 289.1,373.2 289.2,374.1 289.1,375.3 289.1,376.2 289.1,377.1 289,378 288.9,378.9 288.8,379.8 288.8,380.7 288.7,381.6 288.6,382.5 288.5,383.4 288.4,384.3 288.3,385.3 288.2,386.3 287.9,387.7 287.8,388.9 287.6,390 287.3,391.4 287.1,392.3 286.9,393.3 286.6,394.1 286.4,395 286.2,395.8 286,396.7 285.8,397.5 285.6,398.3 285.3,399.1 285.1,400 284.8,400.9 284.6,401.8 284.1,403 283.8,404.1 283.4,405.1 282.9,406.3 282.6,407.1 282.2,407.9 281.9,408.6 281.5,409.4 281.1,410.3 280.6,411.2 280.2,412.1 279.5,413.4 278.7,414.3 278.2,414.6 277.3,414.6 276.8,414.3 276.1,413.4 275.4,412.1 275,411.2 274.5,410.3 274.1,409.4 273.5,407.9 273.1,407.2 272.8,406.4 272.3,405.3 271.9,404.4 271.5,403.6 271,402.5 270.4,401.1 269.8,399.8 269.5,399 269.1,398.1 268.8,397.3 268.2,396.1 267.6,394.8 267.2,393.9 266.5,392.5 266.1,391.7 265.6,390.7 265.1,389.8 264.6,389 264.1,388.2 263.6,387.3 263.1,386.5 262.7,385.9 262,384.9 261.5,384.3 260.9,383.6 260.4,382.9 259.8,382.3 259.2,381.7 258.7,381 258.4,380.3 258.2,379.8 258.2,378.9 258.3,378.4 258.6,377.7Z" fill="none" stroke="#000" stroke-opacity="0.75" stroke-width="0.55"/>
<ellipse cx="276.8" cy="375.4" rx="0.5" ry="1.0" fill="#fff" fill-opacity="0.75"/>
</g>
<path d="M203.6,419h-1.3M210.3,425.2v1.3M203.6,415.7h-1.3M213.9,425.2v1.3M203.6,413.4h-1.3M216.4,425.2v1.3M203.6,411.6h-1.3M218.4,425.2v1.3M203.6,410.1h-1.3M220,425.2v1.3M203.6,408.9h-1.3M221.3,425.2v1.3M203.6,407.8h-1.3M222.5,425.2v1.3M203.6,406.8h-1.3M223.5,425.2v1.3M203.6,400.4h-1.3M230.6,425.2v1.3M203.6,397.1h-1.3M234.1,425.2v1.3M203.6,394.7h-1.3M236.7,425.2v1.3M203.6,392.9h-1.3M238.6,425.2v1.3M203.6,391.5h-1.3M240.2,425.2v1.3M203.6,390.2h-1.3M241.6,425.2v1.3M203.6,389.1h-1.3M242.8,425.2v1.3M203.6,388.2h-1.3M243.8,425.2v1.3M203.6,381.7h-1.3M250.8,425.2v1.3M203.6,378.4h-1.3M254.4,425.2v1.3M203.6,376.1h-1.3M256.9,425.2v1.3M203.6,374.3h-1.3M258.9,425.2v1.3M203.6,372.8h-1.3M260.5,425.2v1.3M203.6,371.6h-1.3M261.9,425.2v1.3M203.6,370.5h-1.3M263,425.2v1.3M203.6,369.6h-1.3M264.1,425.2v1.3M203.6,363.1h-1.3M271.1,425.2v1.3M203.6,359.8h-1.3M274.7,425.2v1.3M203.6,357.5h-1.3M277.2,425.2v1.3M203.6,355.7h-1.3M279.2,425.2v1.3M203.6,354.2h-1.3M280.8,425.2v1.3M203.6,353h-1.3M282.1,425.2v1.3M203.6,351.9h-1.3M283.3,425.2v1.3M203.6,350.9h-1.3M284.3,425.2v1.3M203.6,344.5h-1.3M291.4,425.2v1.3M203.6,341.2h-1.3M294.9,425.2v1.3M203.6,338.8h-1.3M297.5,425.2v1.3M203.6,337h-1.3M299.4,425.2v1.3M203.6,335.6h-1.3M301,425.2v1.3M203.6,334.3h-1.3M302.4,425.2v1.3M203.6,333.2h-1.3M303.6,425.2v1.3M203.6,332.3h-1.3M304.6,425.2v1.3M203.6,325.8h-1.3M311.6,425.2v1.3M203.6,322.5h-1.3M315.2,425.2v1.3M203.6,320.2h-1.3M317.7,425.2v1.3M203.6,318.4h-1.3M319.7,425.2v1.3M203.6,316.9h-1.3M321.3,425.2v1.3M203.6,315.7h-1.3M322.7,425.2v1.3M203.6,314.6h-1.3M323.8,425.2v1.3M203.6,313.7h-1.3M324.9,425.2v1.3" stroke="#555" stroke-width="0.5" fill="none"/>
<path d="M204.2,424.6h-3M204.2,424.6v2.6M204.2,406h-3M224.5,424.6v2.6M204.2,387.3h-3M244.7,424.6v2.6M204.2,368.7h-3M265,424.6v2.6M204.2,350.1h-3M285.3,424.6v2.6M204.2,331.4h-3M305.5,424.6v2.6M204.2,312.8h-3M325.8,424.6v2.6" stroke="#111" stroke-width="0.9" fill="none"/>
<text x="199.2" y="426.6" font-size="8.3" text-anchor="end" font-family="'Liberation Sans', sans-serif" fill="#111" textLength="11.2" lengthAdjust="spacingAndGlyphs">10<tspan font-size="6.0" dy="-3.0">0</tspan></text>
<text x="199.2" y="408" font-size="8.3" text-anchor="end" font-family="'Liberation Sans', sans-serif" fill="#111" textLength="11.2" lengthAdjust="spacingAndGlyphs">10<tspan font-size="6.0" dy="-3.0">1</tspan></text>
<text x="199.2" y="389.3" font-size="8.3" text-anchor="end" font-family="'Liberation Sans', sans-serif" fill="#111" textLength="11.2" lengthAdjust="spacingAndGlyphs">10<tspan font-size="6.0" dy="-3.0">2</tspan></text>
<text x="199.2" y="370.7" font-size="8.3" text-anchor="end" font-family="'Liberation Sans', sans-serif" fill="#111" textLength="11.2" lengthAdjust="spacingAndGlyphs">10<tspan font-size="6.0" dy="-3.0">3</tspan></text>
<text x="199.2" y="352.1" font-size="8.3" text-anchor="end" font-family="'Liberation Sans', sans-serif" fill="#111" textLength="11.2" lengthAdjust="spacingAndGlyphs">10<tspan font-size="6.0" dy="-3.0">4</tspan></text>
<text x="199.2" y="333.4" font-size="8.3" text-anchor="end" font-family="'Liberation Sans', sans-serif" fill="#111" textLength="11.2" lengthAdjust="spacingAndGlyphs">10<tspan font-size="6.0" dy="-3.0">5</tspan></text>
<text x="199.2" y="316.4" font-size="8.3" text-anchor="end" font-family="'Liberation Sans', sans-serif" fill="#111" textLength="11.2" lengthAdjust="spacingAndGlyphs">10<tspan font-size="6.0" dy="-3.0">6</tspan></text>
<text x="207.9" y="435.6" font-size="8.3" text-anchor="middle" font-family="'Liberation Sans', sans-serif" fill="#111" textLength="11.2" lengthAdjust="spacingAndGlyphs">10<tspan font-size="6.0" dy="-3.0">0</tspan></text>
<text x="224.8" y="435.6" font-size="8.3" text-anchor="middle" font-family="'Liberation Sans', sans-serif" fill="#111" textLength="11.2" lengthAdjust="spacingAndGlyphs">10<tspan font-size="6.0" dy="-3.0">1</tspan></text>
<text x="244.4" y="435.6" font-size="8.3" text-anchor="middle" font-family="'Liberation Sans', sans-serif" fill="#111" textLength="11.2" lengthAdjust="spacingAndGlyphs">10<tspan font-size="6.0" dy="-3.0">2</tspan></text>
<text x="264" y="435.6" font-size="8.3" text-anchor="middle" font-family="'Liberation Sans', sans-serif" fill="#111" textLength="11.2" lengthAdjust="spacingAndGlyphs">10<tspan font-size="6.0" dy="-3.0">3</tspan></text>
<text x="283.6" y="435.6" font-size="8.3" text-anchor="middle" font-family="'Liberation Sans', sans-serif" fill="#111" textLength="11.2" lengthAdjust="spacingAndGlyphs">10<tspan font-size="6.0" dy="-3.0">4</tspan></text>
<text x="303.2" y="435.6" font-size="8.3" text-anchor="middle" font-family="'Liberation Sans', sans-serif" fill="#111" textLength="11.2" lengthAdjust="spacingAndGlyphs">10<tspan font-size="6.0" dy="-3.0">5</tspan></text>
<text x="322.8" y="435.6" font-size="8.3" text-anchor="middle" font-family="'Liberation Sans', sans-serif" fill="#111" textLength="11.2" lengthAdjust="spacingAndGlyphs">10<tspan font-size="6.0" dy="-3.0">6</tspan></text>
<rect x="204.2" y="312.8" width="121.6" height="111.8" fill="none" stroke="#000" stroke-width="1.35"/>
<rect x="239" y="337.9" width="33.1" height="26.3" fill="none" stroke="#111" stroke-width="1.4"/>
<text x="255.9" y="335.2" font-size="7.7" text-anchor="middle" font-family="'Liberation Sans', sans-serif" fill="#222">0.009</text>
<clipPath id="c6"><rect x="204.5" y="448.3" width="120.5" height="108.2"/></clipPath>
<g clip-path="url(#c6)">
<path transform="translate(0,0.5)" d="M284 451h1m-6 4h1m0 0h1m1 0h1m-7 1h1m1 0h1m4 0h1m-8 1h1m3 0h1m1 0h1m-4 1h1m3 2h1m-5 2h1m0 0h1m-3 2h1m4 0h1m-6 1h1m4 0h1m-7 1h1m-3 1h1m1 1h1m0 0h1m5 1h1m1 0h1m-7 1h1m5 0h1m-9 2h1m4 0h1m-5 1h1m1 1h1m1 0h1m-3 1h1m2 0h1m4 0h1m-13 1h1m0 0h1m0 0h1m2 0h1m1 1h1m-4 1h1m6 0h1m-10 2h1m0 0h1m-4 1h1m7 1h1m-11 1h1m5 3h1m2 0h1m-4 1h1m2 0h1m-3 2h1m-15 1h1m-11 1h1m22 0h1m-1 1h1m3 0h1m-8 2h1m-47 2h1m30 0h1m0 1h1m2 1h1m-10 1h1m0 0h1m4 0h1m3 0h1m-6 1h1m0 0h1m-5 1h1m1 0h1m-2 1h1m0 0h1m-31 1h1m27 0h1m0 0h1m-20 1h1m3 0h1m15 0h1m-16 1h1m3 0h1m5 0h1m2 0h1m0 0h1m-10 2h1m7 0h1m-12 1h1m9 0h1m-15 1h1m3 0h1m5 0h1m3 0h1m-17 1h1m6 0h1m-17 1h1m12 0h1m8 0h1m-19 1h1m5 0h1m10 0h1m-14 1h1m11 0h1m0 0h1m1 0h1m33 0h1m-51 1h1m6 0h1m6 0h1m-15 1h1m13 0h1m-3 1h1m-11 1h1m13 0h1m-15 1h1m2 0h1m3 0h1m6 0h1m-21 1h1m12 0h1m2 0h1m2 0h1m2 0h1m0 0h1m-9 1h1m2 0h1m1 0h1m1 0h1m-24 1h1m5 0h1m7 0h1m3 0h1m1 0h1m0 0h1m1 0h1m0 0h1m1 0h1m-17 1h1m6 0h1m4 0h1m2 0h1m-14 1h1m8 0h1m4 0h1m-19 1h1m8 0h1m5 0h1m-14 1h1m2 0h1m-4 1h1m7 0h1m0 0h1m-23 1h1m13 0h1m4 0h1m0 0h1m-1 1h1m5 0h1m-21 1h1m8 1h1m6 0h1m3 0h1m2 1h1m-9 1h1m-3 1h1m-12 1h1m-10 1h1m7 0h1m3 0h1m3 0h1m10 0h1m-12 1h1m2 0h1m0 0h1m-7 2h1m2 2h1m-1 2h1m13 0h1m-7 6h1m16 0h1m6 0h1m-17 1h1m11 0h1m0 0h1m-4 1h1m2 0h1m0 0h1m5 0h1m-9 1h1m-7 1h1m1 0h1m4 0h1m2 0h1m1 0h1m-8 1h1m1 0h1m-7 1h1m2 0h1m0 0h1m0 0h1m0 0h1m2 0h1m-2 1h1" stroke="#000" stroke-opacity="0.55" stroke-width="1" fill="none"/>
<path transform="translate(0,0.5)" d="M281 448h1m-1 2h1m6 2h1m-3 3h1m-5 6h1m1 3h1m-3 1h1m-2 2h1m1 1h1m1 1h1m-4 2h1m-3 1h1m0 1h1m-5 3h1m4 0h1m-3 3h1m1 0h1m-3 3h1m3 1h1m-3 1h1m0 0h1m-12 2h1m12 2h1m-3 1h1m-38 1h1m36 0h1m-37 3h1m33 0h1m-35 3h1m16 1h1m-1 2h1m2 0h1m-8 1h1m-2 1h1m-7 1h1m9 0h1m0 0h1m-27 1h1m14 0h1m-3 1h1m6 0h1m1 0h1m-6 1h1m5 0h1m-11 1h1m8 0h1m0 0h1m-23 1h1m17 0h1m2 0h1m-18 1h1m8 0h1m4 0h1m0 0h1m-12 1h1m1 0h1m0 0h1m2 0h1m2 0h1m0 0h1m-11 2h1m8 0h1m0 0h1m-6 1h1m1 0h1m1 1h1m-4 1h1m0 0h1m-13 1h1m9 0h1m-14 1h1m7 0h1m2 0h1m-10 1h1m12 0h1m0 0h1m0 0h1m-6 2h1m5 1h1m0 0h1m-17 2h1m-5 1h1m21 0h1m-14 1h1m9 0h1m3 0h1m-16 2h1m14 0h1m-8 1h1m0 1h1m9 0h1m-13 1h1m5 0h1m-5 2h1m1 0h1m-24 3h1m10 0h1m7 1h1m1 9h1m20 4h1m0 2h1m-3 1h1m4 0h1m-9 1h1m2 0h1m1 1h1m-3 1h1m0 0h1m0 1h1m3 0h1" stroke="#000" stroke-opacity="0.3" stroke-width="1" fill="none"/>
<ellipse cx="267" cy="556.9" rx="25" ry="3" fill="#000" fill-opacity="0.06" stroke="#000" stroke-opacity="0.4" stroke-width="0.5"/>
<ellipse cx="269" cy="556.9" rx="17.9" ry="2.2" fill="none" stroke="#000" stroke-opacity="0.3" stroke-width="0.5"/>
<ellipse cx="277" cy="557" rx="11" ry="2.8" fill="#000" fill-opacity="0.8" filter="url(#blur05)"/>
<path d="M259.1,511.3 260.1,509.9 261.2,508.5 262.2,507.2 263.1,506.1 264.4,504.5 265.5,503.3 266.7,502.2 268,501.2 269.6,500.2 271.2,499.1 272.5,498.3 273.9,497.7 275.2,497.2 276.9,496.7 278.2,496.6 279.9,496.7 281.8,497 283.8,497.5 285.6,498.1 287,499.2 287.9,500.6 288.4,502.5 288.9,504.4 289.1,506.6 289.2,508.4 289.1,510.5 289,512.3 288.8,514.1 288.7,515.9 288.5,517.7 288.3,519.6 287.9,522 287.6,524.3 287.1,526.6 286.6,528.4 286.2,530.1 285.8,531.8 285.3,533.4 284.8,535.1 284.1,537.2 283.4,539.1 282.2,541.6 281.1,543.7 280.2,545.2 278.7,547.1 277.3,547.3 276.1,546.3 275,544.4 274.1,542.9 272.8,540.3 271.9,538.5 271,536.7 269.8,534.1 269.1,532.4 268.2,530.4 267.2,528.2 266.1,526 265.1,524.1 264.1,522.5 263.1,520.8 262,519.2 260.9,517.9 259.8,516.6 258.7,515.3 258.2,514.1 258.3,512.7Z" fill="#fff"/>
<clipPath id="c6k"><path d="M259.1,511.3 260.1,509.9 261.2,508.5 262.2,507.2 263.1,506.1 264.4,504.5 265.5,503.3 266.7,502.2 268,501.2 269.6,500.2 271.2,499.1 272.5,498.3 273.9,497.7 275.2,497.2 276.9,496.7 278.2,496.6 279.9,496.7 281.8,497 283.8,497.5 285.6,498.1 287,499.2 287.9,500.6 288.4,502.5 288.9,504.4 289.1,506.6 289.2,508.4 289.1,510.5 289,512.3 288.8,514.1 288.7,515.9 288.5,517.7 288.3,519.6 287.9,522 287.6,524.3 287.1,526.6 286.6,528.4 286.2,530.1 285.8,531.8 285.3,533.4 284.8,535.1 284.1,537.2 283.4,539.1 282.2,541.6 281.1,543.7 280.2,545.2 278.7,547.1 277.3,547.3 276.1,546.3 275,544.4 274.1,542.9 272.8,540.3 271.9,538.5 271,536.7 269.8,534.1 269.1,532.4 268.2,530.4 267.2,528.2 266.1,526 265.1,524.1 264.1,522.5 263.1,520.8 262,519.2 260.9,517.9 259.8,516.6 258.7,515.3 258.2,514.1 258.3,512.7Z"/></clipPath>
<g clip-path="url(#c6k)">
<ellipse cx="279" cy="513" rx="13.8" ry="21.6" transform="rotate(-5 279 513)" fill="#000" fill-opacity="0.3" filter="url(#blur15)"/>
<ellipse cx="279" cy="513" rx="9.5" ry="16" transform="rotate(-5 279 513)" fill="#0a0a0a" fill-opacity="0.66" filter="url(#blur1)"/>
</g>
<path d="M262.2,510.6 263,509.5 264,508.3 264.8,507.2 265.6,506.2 266.7,504.9 267.6,503.9 268.6,502.9 269.7,502.1 271.1,501.2 272.4,500.4 273.5,499.7 274.7,499.1 275.8,498.7 277.2,498.3 278.3,498.2 279.7,498.3 281.4,498.6 283,498.9 284.6,499.5 285.8,500.4 286.5,501.6 286.9,503.2 287.3,504.8 287.5,506.7 287.6,508.2 287.5,510 287.4,511.5 287.3,513 287.2,514.5 287,516.1 286.8,517.7 286.6,519.7 286.2,521.6 285.8,523.6 285.5,525.1 285.1,526.5 284.7,527.9 284.4,529.3 283.9,530.8 283.3,532.5 282.7,534.1 281.7,536.2 280.8,538 280,539.3 278.8,540.8 277.6,541.1 276.5,540.2 275.6,538.6 274.9,537.3 273.7,535.2 273,533.6 272.3,532.1 271.3,529.9 270.7,528.5 269.9,526.7 269,524.9 268.1,523.1 267.2,521.5 266.4,520.1 265.5,518.6 264.6,517.3 263.7,516.2 262.8,515.1 261.9,514 261.4,513 261.5,511.8ZM265.1,510 265.8,509.1 266.5,508.1 267.3,507.2 267.9,506.4 268.8,505.2 269.5,504.4 270.4,503.6 271.3,502.9 272.4,502.2 273.5,501.5 274.5,500.9 275.5,500.5 276.3,500.2 277.5,499.8 278.4,499.7 279.6,499.8 281,500 282.3,500.3 283.6,500.8 284.6,501.6 285.2,502.5 285.6,503.8 285.9,505.2 286.1,506.7 286.1,508 286.1,509.5 286,510.7 285.9,512 285.8,513.2 285.6,514.5 285.5,515.8 285.3,517.5 285,519.1 284.6,520.7 284.4,522 284,523.2 283.7,524.3 283.4,525.5 283.1,526.7 282.6,528.1 282.1,529.5 281.3,531.2 280.5,532.7 279.8,533.7 278.8,535 277.8,535.2 276.9,534.5 276.2,533.2 275.6,532.1 274.6,530.3 274,529.1 273.4,527.8 272.6,526 272.1,524.8 271.4,523.3 270.7,521.8 270,520.3 269.3,519 268.6,517.8 267.9,516.6 267.1,515.5 266.4,514.6 265.6,513.7 264.8,512.8 264.5,512 264.5,511ZM267.7,509.4 268.3,508.7 268.9,507.9 269.5,507.1 270,506.5 270.8,505.6 271.3,504.9 272.1,504.3 272.8,503.7 273.7,503.1 274.6,502.6 275.4,502.1 276.1,501.7 276.9,501.5 277.8,501.2 278.5,501.1 279.5,501.2 280.6,501.4 281.7,501.6 282.8,502 283.5,502.6 284,503.4 284.3,504.4 284.6,505.5 284.7,506.8 284.7,507.8 284.7,509 284.6,510 284.6,511 284.5,512 284.4,513.1 284.2,514.1 284.1,515.5 283.8,516.8 283.6,518.1 283.3,519.1 283.1,520.1 282.8,521 282.6,521.9 282.3,522.9 281.9,524.1 281.5,525.1 280.8,526.6 280.2,527.7 279.7,528.6 278.8,529.6 278,529.8 277.3,529.2 276.7,528.2 276.2,527.3 275.5,525.8 275,524.8 274.5,523.8 273.8,522.3 273.4,521.4 272.9,520.2 272.3,519 271.7,517.7 271.1,516.7 270.6,515.7 270,514.8 269.4,513.9 268.8,513.2 268.1,512.4 267.5,511.7 267.3,511 267.3,510.2ZM270.2,508.9 270.7,508.3 271.1,507.7 271.6,507.1 272,506.6 272.6,505.9 273,505.4 273.6,504.9 274.2,504.4 274.8,504 275.5,503.5 276.2,503.2 276.8,502.9 277.3,502.7 278.1,502.5 278.6,502.4 279.4,502.5 280.2,502.6 281.1,502.8 281.9,503.1 282.5,503.6 282.9,504.2 283.2,505 283.4,505.8 283.5,506.8 283.5,507.6 283.5,508.6 283.4,509.3 283.3,510.1 283.3,510.9 283.2,511.7 283.1,512.6 283,513.6 282.8,514.6 282.6,515.7 282.4,516.5 282.2,517.2 282,517.9 281.8,518.7 281.6,519.4 281.3,520.3 280.9,521.2 280.4,522.3 279.9,523.2 279.5,523.9 278.9,524.7 278.2,524.8 277.7,524.3 277.2,523.5 276.8,522.8 276.2,521.7 275.9,520.9 275.5,520.1 275,519 274.6,518.2 274.2,517.3 273.8,516.4 273.3,515.4 272.9,514.6 272.4,513.8 272,513.1 271.5,512.4 271,511.8 270.5,511.2 270.1,510.7 269.8,510.1 269.9,509.5ZM272.4,508.4 272.8,508 273.1,507.5 273.5,507.1 273.8,506.7 274.2,506.2 274.5,505.8 275,505.4 275.4,505.1 275.9,504.7 276.4,504.4 276.9,504.1 277.3,503.9 277.7,503.8 278.3,503.6 278.7,503.6 279.3,503.6 279.9,503.7 280.6,503.9 281.2,504.1 281.6,504.4 281.9,504.9 282.1,505.5 282.3,506.1 282.3,506.9 282.3,507.5 282.3,508.2 282.3,508.8 282.2,509.3 282.2,509.9 282.1,510.5 282.1,511.2 282,512 281.8,512.7 281.7,513.5 281.5,514.1 281.4,514.6 281.2,515.2 281.1,515.7 280.9,516.3 280.7,517 280.5,517.6 280.1,518.4 279.7,519.1 279.4,519.6 278.9,520.2 278.4,520.3 278,520 277.7,519.4 277.4,518.8 276.9,518 276.7,517.4 276.4,516.8 276,515.9 275.7,515.4 275.4,514.7 275.1,514 274.7,513.3 274.4,512.6 274.1,512.1 273.7,511.5 273.4,511 273,510.6 272.7,510.2 272.3,509.7 272.1,509.3 272.2,508.9ZM274.4,508 274.6,507.7 274.9,507.4 275.1,507.1 275.3,506.8 275.6,506.4 275.9,506.1 276.2,505.9 276.5,505.7 276.8,505.4 277.2,505.2 277.5,505 277.8,504.8 278.1,504.7 278.5,504.6 278.8,504.6 279.2,504.6 279.7,504.7 280.1,504.8 280.5,504.9 280.9,505.2 281,505.5 281.2,505.9 281.3,506.4 281.3,506.9 281.3,507.3 281.3,507.8 281.3,508.2 281.3,508.6 281.2,509.1 281.2,509.5 281.1,509.9 281.1,510.5 281,511 280.9,511.5 280.8,511.9 280.7,512.3 280.6,512.7 280.5,513.1 280.3,513.5 280.2,514 280,514.4 279.7,515 279.5,515.5 279.3,515.8 278.9,516.2 278.6,516.3 278.3,516.1 278.1,515.6 277.9,515.3 277.6,514.7 277.4,514.3 277.2,513.9 276.9,513.3 276.7,512.9 276.5,512.4 276.3,511.9 276,511.4 275.8,511 275.6,510.6 275.3,510.2 275.1,509.8 274.8,509.5 274.6,509.2 274.3,508.9 274.2,508.6 274.2,508.3ZM276.1,507.6 276.2,507.4 276.4,507.2 276.6,507 276.7,506.9 276.9,506.6 277,506.5 277.2,506.3 277.4,506.2 277.6,506 277.9,505.9 278.1,505.7 278.3,505.6 278.4,505.6 278.7,505.5 278.9,505.5 279.1,505.5 279.4,505.5 279.7,505.6 280,505.7 280.2,505.9 280.3,506.1 280.4,506.3 280.4,506.6 280.5,506.9 280.5,507.2 280.5,507.5 280.5,507.8 280.4,508 280.4,508.3 280.4,508.6 280.4,508.8 280.3,509.2 280.2,509.5 280.2,509.9 280.1,510.1 280.1,510.4 280,510.6 279.9,510.9 279.8,511.1 279.7,511.4 279.6,511.7 279.5,512 279.3,512.3 279.2,512.6 279,512.8 278.8,512.9 278.6,512.7 278.4,512.5 278.3,512.2 278.1,511.9 278,511.6 277.8,511.3 277.7,510.9 277.6,510.7 277.4,510.4 277.3,510.1 277.1,509.8 277,509.5 276.8,509.3 276.7,509 276.5,508.8 276.4,508.6 276.2,508.4 276,508.2 276,508 276,507.8ZM277.5,507.3 277.6,507.2 277.6,507.1 277.7,507 277.8,506.9 277.9,506.8 278,506.7 278.1,506.6 278.2,506.6 278.3,506.5 278.4,506.4 278.5,506.3 278.6,506.3 278.7,506.3 278.8,506.2 278.9,506.2 279.1,506.2 279.2,506.2 279.4,506.3 279.5,506.3 279.6,506.4 279.7,506.5 279.7,506.7 279.8,506.8 279.8,507 279.8,507.1 279.8,507.3 279.8,507.4 279.7,507.5 279.7,507.7 279.7,507.8 279.7,508 279.7,508.1 279.7,508.3 279.6,508.5 279.6,508.6 279.5,508.8 279.5,508.9 279.5,509 279.4,509.1 279.4,509.3 279.3,509.4 279.2,509.6 279.2,509.8 279.1,509.9 279,510.1 278.9,510.1 278.8,510 278.7,509.9 278.6,509.7 278.5,509.5 278.5,509.4 278.4,509.3 278.3,509.1 278.2,508.9 278.2,508.8 278.1,508.6 278,508.4 277.9,508.3 277.9,508.2 277.8,508 277.7,507.9 277.6,507.8 277.5,507.7 277.5,507.6 277.4,507.5 277.4,507.4ZM278.5,507.1 278.5,507.1 278.6,507 278.6,507 278.6,507 278.6,506.9 278.7,506.9 278.7,506.9 278.7,506.9 278.8,506.8 278.8,506.8 278.8,506.8 278.9,506.8 278.9,506.8 278.9,506.7 279,506.7 279,506.7 279.1,506.7 279.1,506.8 279.2,506.8 279.2,506.8 279.2,506.8 279.2,506.9 279.2,506.9 279.3,507 279.3,507 279.3,507.1 279.3,507.1 279.2,507.2 279.2,507.2 279.2,507.3 279.2,507.3 279.2,507.4 279.2,507.4 279.2,507.5 279.2,507.5 279.2,507.6 279.2,507.6 279.2,507.7 279.1,507.7 279.1,507.8 279.1,507.8 279.1,507.9 279.1,507.9 279,508 279,508 279,508 278.9,508 278.9,507.9 278.9,507.9 278.8,507.8 278.8,507.8 278.8,507.7 278.8,507.7 278.8,507.6 278.7,507.6 278.7,507.5 278.7,507.5 278.7,507.4 278.6,507.4 278.6,507.3 278.6,507.3 278.5,507.3 278.5,507.2 278.5,507.2 278.5,507.2 278.5,507.1Z" fill="none" stroke="#000" stroke-opacity="0.72" stroke-width="0.5"/>
<path d="M259.1,511.3 259.6,510.6 260.1,509.9 260.6,509.2 261.2,508.5 261.6,508 262.2,507.2 262.6,506.7 263.1,506.1 263.6,505.5 264.4,504.5 264.9,503.9 265.5,503.3 265.9,502.9 266.7,502.2 267.3,501.8 268,501.2 268.8,500.7 269.6,500.2 270.4,499.6 271.2,499.1 272,498.7 272.5,498.3 273.4,497.9 273.9,497.7 274.6,497.4 275.2,497.2 276.3,496.9 276.9,496.7 277.6,496.6 278.2,496.6 279.2,496.7 279.9,496.7 280.9,496.9 281.8,497 282.8,497.3 283.8,497.5 284.7,497.7 285.6,498.1 286.2,498.5 287,499.2 287.4,499.8 287.9,500.6 288.2,501.5 288.4,502.5 288.6,503.4 288.9,504.4 289,505.6 289.1,506.6 289.1,507.5 289.2,508.4 289.1,509.6 289.1,510.5 289.1,511.4 289,512.3 288.9,513.2 288.8,514.1 288.8,515 288.7,515.9 288.6,516.8 288.5,517.7 288.4,518.6 288.3,519.6 288.2,520.6 287.9,522 287.8,523.2 287.6,524.3 287.3,525.7 287.1,526.6 286.9,527.6 286.6,528.4 286.4,529.3 286.2,530.1 286,531 285.8,531.8 285.6,532.6 285.3,533.4 285.1,534.3 284.8,535.1 284.6,536 284.1,537.2 283.8,538.2 283.4,539.1 282.9,540.2 282.2,541.6 281.5,542.9 281.1,543.7 280.6,544.4 280.2,545.2 279.5,546.3 278.7,547.1 278.2,547.3 277.3,547.3 276.8,547.1 276.1,546.3 275.4,545.2 275,544.4 274.5,543.7 274.1,542.9 273.5,541.6 272.8,540.3 272.3,539.3 271.9,538.5 271.5,537.7 271,536.7 270.4,535.4 269.8,534.1 269.5,533.3 269.1,532.4 268.8,531.6 268.2,530.4 267.6,529.1 267.2,528.2 266.5,526.8 266.1,526 265.6,525 265.1,524.1 264.6,523.3 264.1,522.5 263.6,521.6 263.1,520.8 262.7,520.2 262,519.2 261.5,518.6 260.9,517.9 260.4,517.2 259.8,516.6 259.2,516 258.7,515.3 258.4,514.6 258.2,514.1 258.2,513.2 258.3,512.7 258.6,512Z" fill="none" stroke="#000" stroke-opacity="0.75" stroke-width="0.55"/>
<ellipse cx="277.7" cy="508.6" rx="0.5" ry="1.0" fill="#fff" fill-opacity="0.75"/>
</g>
<path d="M203.2,551.7h-1.3M209.9,557.8v1.3M203.2,548.5h-1.3M213.5,557.8v1.3M203.2,546.2h-1.3M216,557.8v1.3M203.2,544.4h-1.3M218,557.8v1.3M203.2,543h-1.3M219.6,557.8v1.3M203.2,541.8h-1.3M221,557.8v1.3M203.2,540.7h-1.3M222.1,557.8v1.3M203.2,539.8h-1.3M223.2,557.8v1.3M203.2,533.4h-1.3M230.2,557.8v1.3M203.2,530.2h-1.3M233.8,557.8v1.3M203.2,527.9h-1.3M236.3,557.8v1.3M203.2,526.2h-1.3M238.3,557.8v1.3M203.2,524.7h-1.3M239.9,557.8v1.3M203.2,523.5h-1.3M241.3,557.8v1.3M203.2,522.4h-1.3M242.5,557.8v1.3M203.2,521.5h-1.3M243.5,557.8v1.3M203.2,515.2h-1.3M250.5,557.8v1.3M203.2,512h-1.3M254.1,557.8v1.3M203.2,509.7h-1.3M256.7,557.8v1.3M203.2,507.9h-1.3M258.6,557.8v1.3M203.2,506.5h-1.3M260.2,557.8v1.3M203.2,505.2h-1.3M261.6,557.8v1.3M203.2,504.2h-1.3M262.8,557.8v1.3M203.2,503.2h-1.3M263.8,557.8v1.3M203.2,496.9h-1.3M270.9,557.8v1.3M203.2,493.7h-1.3M274.4,557.8v1.3M203.2,491.4h-1.3M277,557.8v1.3M203.2,489.6h-1.3M279,557.8v1.3M203.2,488.2h-1.3M280.6,557.8v1.3M203.2,487h-1.3M281.9,557.8v1.3M203.2,485.9h-1.3M283.1,557.8v1.3M203.2,485h-1.3M284.1,557.8v1.3M203.2,478.6h-1.3M291.2,557.8v1.3M203.2,475.4h-1.3M294.8,557.8v1.3M203.2,473.1h-1.3M297.3,557.8v1.3M203.2,471.4h-1.3M299.3,557.8v1.3M203.2,469.9h-1.3M300.9,557.8v1.3M203.2,468.7h-1.3M302.2,557.8v1.3M203.2,467.6h-1.3M303.4,557.8v1.3M203.2,466.7h-1.3M304.5,557.8v1.3M203.2,460.4h-1.3M311.5,557.8v1.3M203.2,457.2h-1.3M315.1,557.8v1.3M203.2,454.9h-1.3M317.6,557.8v1.3M203.2,453.1h-1.3M319.6,557.8v1.3M203.2,451.7h-1.3M321.2,557.8v1.3M203.2,450.4h-1.3M322.6,557.8v1.3M203.2,449.4h-1.3M323.7,557.8v1.3M203.2,448.4h-1.3M324.8,557.8v1.3" stroke="#555" stroke-width="0.5" fill="none"/>
<path d="M203.8,557.2h-3M203.8,557.2v2.6M203.8,538.9h-3M224.1,557.2v2.6M203.8,520.7h-3M244.4,557.2v2.6M203.8,502.4h-3M264.8,557.2v2.6M203.8,484.1h-3M285.1,557.2v2.6M203.8,465.9h-3M305.4,557.2v2.6M203.8,447.6h-3M325.7,557.2v2.6" stroke="#111" stroke-width="0.9" fill="none"/>
<text x="198.8" y="560.7" font-size="8.3" text-anchor="end" font-family="'Liberation Sans', sans-serif" fill="#111" textLength="11.2" lengthAdjust="spacingAndGlyphs">10<tspan font-size="6.0" dy="-3.0">0</tspan></text>
<text x="198.8" y="542.4" font-size="8.3" text-anchor="end" font-family="'Liberation Sans', sans-serif" fill="#111" textLength="11.2" lengthAdjust="spacingAndGlyphs">10<tspan font-size="6.0" dy="-3.0">1</tspan></text>
<text x="198.8" y="524.2" font-size="8.3" text-anchor="end" font-family="'Liberation Sans', sans-serif" fill="#111" textLength="11.2" lengthAdjust="spacingAndGlyphs">10<tspan font-size="6.0" dy="-3.0">2</tspan></text>
<text x="198.8" y="505.9" font-size="8.3" text-anchor="end" font-family="'Liberation Sans', sans-serif" fill="#111" textLength="11.2" lengthAdjust="spacingAndGlyphs">10<tspan font-size="6.0" dy="-3.0">3</tspan></text>
<text x="198.8" y="487.6" font-size="8.3" text-anchor="end" font-family="'Liberation Sans', sans-serif" fill="#111" textLength="11.2" lengthAdjust="spacingAndGlyphs">10<tspan font-size="6.0" dy="-3.0">4</tspan></text>
<text x="198.8" y="469.4" font-size="8.3" text-anchor="end" font-family="'Liberation Sans', sans-serif" fill="#111" textLength="11.2" lengthAdjust="spacingAndGlyphs">10<tspan font-size="6.0" dy="-3.0">5</tspan></text>
<text x="198.8" y="452.7" font-size="8.3" text-anchor="end" font-family="'Liberation Sans', sans-serif" fill="#111" textLength="11.2" lengthAdjust="spacingAndGlyphs">10<tspan font-size="6.0" dy="-3.0">6</tspan></text>
<text x="208.5" y="568.2" font-size="8.3" text-anchor="middle" font-family="'Liberation Sans', sans-serif" fill="#111" textLength="11.2" lengthAdjust="spacingAndGlyphs">10<tspan font-size="6.0" dy="-3.0">0</tspan></text>
<text x="225.4" y="568.2" font-size="8.3" text-anchor="middle" font-family="'Liberation Sans', sans-serif" fill="#111" textLength="11.2" lengthAdjust="spacingAndGlyphs">10<tspan font-size="6.0" dy="-3.0">1</tspan></text>
<text x="245" y="568.2" font-size="8.3" text-anchor="middle" font-family="'Liberation Sans', sans-serif" fill="#111" textLength="11.2" lengthAdjust="spacingAndGlyphs">10<tspan font-size="6.0" dy="-3.0">2</tspan></text>
<text x="264.6" y="568.2" font-size="8.3" text-anchor="middle" font-family="'Liberation Sans', sans-serif" fill="#111" textLength="11.2" lengthAdjust="spacingAndGlyphs">10<tspan font-size="6.0" dy="-3.0">3</tspan></text>
<text x="284.2" y="568.2" font-size="8.3" text-anchor="middle" font-family="'Liberation Sans', sans-serif" fill="#111" textLength="11.2" lengthAdjust="spacingAndGlyphs">10<tspan font-size="6.0" dy="-3.0">4</tspan></text>
<text x="303.8" y="568.2" font-size="8.3" text-anchor="middle" font-family="'Liberation Sans', sans-serif" fill="#111" textLength="11.2" lengthAdjust="spacingAndGlyphs">10<tspan font-size="6.0" dy="-3.0">5</tspan></text>
<text x="323.4" y="568.2" font-size="8.3" text-anchor="middle" font-family="'Liberation Sans', sans-serif" fill="#111" textLength="11.2" lengthAdjust="spacingAndGlyphs">10<tspan font-size="6.0" dy="-3.0">6</tspan></text>
<rect x="203.8" y="447.6" width="121.9" height="109.6" fill="none" stroke="#000" stroke-width="1.35"/>
<rect x="239" y="472.3" width="33.1" height="26" fill="none" stroke="#111" stroke-width="1.4"/>
<text x="255.9" y="469.8" font-size="7.7" text-anchor="middle" font-family="'Liberation Sans', sans-serif" fill="#222">0,008</text>
<text x="93.2" y="82.5" font-size="9.7" text-anchor="middle" font-weight="normal" font-family="'Liberation Sans', sans-serif" fill="#111">0h</text>
<text x="263.6" y="13.6" font-size="9.7" text-anchor="middle" font-weight="normal" font-family="'Liberation Sans', sans-serif" fill="#111">24h</text>
<text x="408.6" y="13.4" font-size="9.7" text-anchor="middle" font-weight="normal" font-family="'Liberation Sans', sans-serif" fill="#111">48h</text>
<text x="263.5" y="308.8" font-size="9" text-anchor="middle" font-weight="normal" font-family="'Liberation Sans', sans-serif" fill="#111" textLength="77.4" lengthAdjust="spacingAndGlyphs">48h post co-culture</text>
<text x="480.8" y="77.4" font-size="9.4" text-anchor="start" font-weight="normal" font-family="'Liberation Sans', sans-serif" fill="#111" textLength="25.2" lengthAdjust="spacingAndGlyphs">huMM</text>
<text x="481" y="205.3" font-size="9.4" text-anchor="start" font-weight="normal" font-family="'Liberation Sans', sans-serif" fill="#111" textLength="31" lengthAdjust="spacingAndGlyphs">huMM+</text>
<text x="481" y="216.3" font-size="9.4" text-anchor="start" font-weight="normal" font-family="'Liberation Sans', sans-serif" fill="#111">EC</text>
<text x="330.4" y="369.9" font-size="9.4" text-anchor="start" font-weight="normal" font-family="'Liberation Sans', sans-serif" fill="#111" textLength="24.8" lengthAdjust="spacingAndGlyphs">huMM</text>
<text x="330.4" y="505.1" font-size="9.4" text-anchor="start" font-weight="normal" font-family="'Liberation Sans', sans-serif" fill="#111" textLength="24.8" lengthAdjust="spacingAndGlyphs">huMM</text>
<text x="6.6" y="14.7" font-size="11.5" text-anchor="start" font-weight="bold" font-family="'Liberation Sans', sans-serif" fill="#111">H</text>
<text x="7" y="311.5" font-size="11" text-anchor="start" font-weight="bold" font-family="'Liberation Sans', sans-serif" fill="#111">I</text>
<text x="176.2" y="309.2" font-size="11" text-anchor="start" font-weight="bold" font-family="'Liberation Sans', sans-serif" fill="#111">J</text>
<text x="392.6" y="309.4" font-size="11" text-anchor="start" font-weight="bold" font-family="'Liberation Sans', sans-serif" fill="#111">K</text>
<path d="M14.5,170.2V209.2H68.8" stroke="#111" stroke-width="1" fill="none"/>
<path d="M14.5,167.2l-2.3,4.2h4.6z" fill="#000"/>
<path d="M72.3,209.2l-4.2,-2.3v4.6z" fill="#000"/>
<path d="M185.5,239V278.6H226" stroke="#111" stroke-width="1" fill="none"/>
<path d="M185.5,236l-2.3,4.2h4.6z" fill="#000"/>
<path d="M229.5,278.6l-4.2,-2.3v4.6z" fill="#000"/>
<path d="M184.6,533.8V571.2H225" stroke="#111" stroke-width="1" fill="none"/>
<path d="M184.6,530.8l-2.3,4.2h4.6z" fill="#000"/>
<path d="M228.5,571.2l-4.2,-2.3v4.6z" fill="#000"/>
<text x="43.8" y="218.2" font-size="8" text-anchor="middle" font-weight="normal" font-family="'Liberation Sans', sans-serif" fill="#111" textLength="24.7" lengthAdjust="spacingAndGlyphs">CD138</text>
<text x="205.4" y="287.2" font-size="8" text-anchor="middle" font-weight="normal" font-family="'Liberation Sans', sans-serif" fill="#111" textLength="24.9" lengthAdjust="spacingAndGlyphs">CD138</text>
<text x="204.6" y="581.8" font-size="8" text-anchor="middle" font-weight="normal" font-family="'Liberation Sans', sans-serif" fill="#111" textLength="24.9" lengthAdjust="spacingAndGlyphs">CD138</text>
<text transform="translate(12.2,202) rotate(-90)" x="0" y="0" font-size="8" font-weight="normal" font-family="'Liberation Sans', sans-serif" fill="#111" textLength="21.6" lengthAdjust="spacingAndGlyphs">JAM-C</text>
<text transform="translate(183.2,270.4) rotate(-90)" x="0" y="0" font-size="8" font-weight="normal" font-family="'Liberation Sans', sans-serif" fill="#111" textLength="21.6" lengthAdjust="spacingAndGlyphs">JAM-C</text>
<text transform="translate(181,564) rotate(-90)" x="0" y="0" font-size="8" font-weight="normal" font-family="'Liberation Sans', sans-serif" fill="#111" textLength="21.6" lengthAdjust="spacingAndGlyphs">JAM-C</text>
<line x1="39" y1="366.9" x2="39" y2="408.5" stroke="#111" stroke-width="1.1"/>
<line x1="36.4" y1="408.5" x2="42" y2="408.5" stroke="#111" stroke-width="1.0"/>
<line x1="35.8" y1="371.5" x2="39" y2="371.5" stroke="#111" stroke-width="0.9"/>
<text x="33.4" y="374.2" font-size="7.6" text-anchor="end" font-weight="normal" font-family="'Liberation Sans', sans-serif" fill="#111" textLength="13.1" lengthAdjust="spacingAndGlyphs">300</text>
<line x1="35.8" y1="385.4" x2="39" y2="385.4" stroke="#111" stroke-width="0.9"/>
<text x="33.4" y="388.1" font-size="7.6" text-anchor="end" font-weight="normal" font-family="'Liberation Sans', sans-serif" fill="#111" textLength="13.1" lengthAdjust="spacingAndGlyphs">200</text>
<line x1="35.8" y1="399.2" x2="39" y2="399.2" stroke="#111" stroke-width="0.9"/>
<text x="33.4" y="401.9" font-size="7.6" text-anchor="end" font-weight="normal" font-family="'Liberation Sans', sans-serif" fill="#111" textLength="13.1" lengthAdjust="spacingAndGlyphs">100</text>
<line x1="39" y1="416.9" x2="39" y2="484.3" stroke="#111" stroke-width="1.1"/>
<line x1="36.4" y1="416.9" x2="42" y2="416.9" stroke="#111" stroke-width="1.0"/>
<line x1="35.8" y1="417.1" x2="39" y2="417.1" stroke="#111" stroke-width="0.9"/>
<text x="33.4" y="419.8" font-size="7.6" text-anchor="end" font-weight="normal" font-family="'Liberation Sans', sans-serif" fill="#111">20</text>
<line x1="35.8" y1="433.8" x2="39" y2="433.8" stroke="#111" stroke-width="0.9"/>
<text x="33.4" y="436.5" font-size="7.6" text-anchor="end" font-weight="normal" font-family="'Liberation Sans', sans-serif" fill="#111">15</text>
<line x1="35.8" y1="450.6" x2="39" y2="450.6" stroke="#111" stroke-width="0.9"/>
<text x="33.4" y="453.3" font-size="7.6" text-anchor="end" font-weight="normal" font-family="'Liberation Sans', sans-serif" fill="#111">10</text>
<line x1="35.8" y1="467.4" x2="39" y2="467.4" stroke="#111" stroke-width="0.9"/>
<text x="33.4" y="470.1" font-size="7.6" text-anchor="end" font-weight="normal" font-family="'Liberation Sans', sans-serif" fill="#111">5</text>
<line x1="35.8" y1="484.3" x2="39" y2="484.3" stroke="#111" stroke-width="0.9"/>
<text x="33.4" y="487" font-size="7.6" text-anchor="end" font-weight="normal" font-family="'Liberation Sans', sans-serif" fill="#111">0</text>
<line x1="38.5" y1="484.3" x2="149.3" y2="484.3" stroke="#111" stroke-width="1.2"/>
<line x1="66.8" y1="484.3" x2="66.8" y2="487.6" stroke="#111" stroke-width="0.9"/>
<line x1="120.6" y1="484.3" x2="120.6" y2="487.6" stroke="#111" stroke-width="0.9"/>
<text x="66.9" y="496.2" font-size="7.6" text-anchor="middle" font-weight="normal" font-family="'Liberation Sans', sans-serif" fill="#111">24</text>
<text x="120.8" y="496.8" font-size="7.6" text-anchor="middle" font-weight="normal" font-family="'Liberation Sans', sans-serif" fill="#111">48</text>
<text x="95.1" y="503.8" font-size="7.6" text-anchor="middle" font-weight="normal" font-family="'Liberation Sans', sans-serif" fill="#111">(h)</text>
<rect x="46.5" y="477.9" width="16.6" height="6" fill="#c8102e"/>
<line x1="55" y1="474.2" x2="55" y2="477.9" stroke="#d8435f" stroke-width="0.9"/>
<line x1="50.9" y1="474.2" x2="59.1" y2="474.2" stroke="#d8435f" stroke-width="1.0"/>
<rect x="100.3" y="476.7" width="16.7" height="7.2" fill="#c8102e"/>
<line x1="109" y1="472.4" x2="109" y2="476.7" stroke="#d8435f" stroke-width="0.9"/>
<line x1="104.6" y1="472.4" x2="112.9" y2="472.4" stroke="#d8435f" stroke-width="1.0"/>
<rect x="70.3" y="398.9" width="16.6" height="9.4" fill="#114d87"/>
<rect x="70.3" y="416.2" width="16.6" height="67.5" fill="#114d87"/>
<line x1="78.5" y1="380.3" x2="78.5" y2="398.9" stroke="#4b7fb0" stroke-width="0.9"/>
<line x1="74.7" y1="380.3" x2="82.7" y2="380.3" stroke="#4b7fb0" stroke-width="1.0"/>
<rect x="124.5" y="406.9" width="16.9" height="1.7" fill="#114d87"/>
<rect x="124.9" y="416.2" width="16.4" height="67.5" fill="#114d87"/>
<line x1="133.3" y1="399.3" x2="133.3" y2="406.5" stroke="#4b7fb0" stroke-width="0.9"/>
<line x1="129.4" y1="399.3" x2="137.1" y2="399.3" stroke="#4b7fb0" stroke-width="1.0"/>
<line x1="46.5" y1="378.5" x2="78.1" y2="378.5" stroke="#111" stroke-width="0.9"/>
<text x="64" y="375.4" font-size="7.6" text-anchor="middle" font-weight="normal" font-family="'Liberation Sans', sans-serif" fill="#111" textLength="19.6" lengthAdjust="spacingAndGlyphs">p=.03</text>
<line x1="112.2" y1="395.5" x2="132.7" y2="395.5" stroke="#111" stroke-width="0.9"/>
<text x="118.2" y="392.2" font-size="7.6" text-anchor="middle" font-weight="normal" font-family="'Liberation Sans', sans-serif" fill="#111" textLength="19.6" lengthAdjust="spacingAndGlyphs">p=.04</text>
<rect x="44" y="352.2" width="3.9" height="3.6" fill="#c8102e"/>
<text x="50" y="356.6" font-size="8" text-anchor="start" font-weight="normal" font-family="'Liberation Sans', sans-serif" fill="#111" textLength="20.8" lengthAdjust="spacingAndGlyphs">huMM</text>
<rect x="44" y="360" width="3.9" height="3.7" fill="#114d87"/>
<text x="50" y="364.4" font-size="8" text-anchor="start" font-weight="normal" font-family="'Liberation Sans', sans-serif" fill="#111" textLength="48" lengthAdjust="spacingAndGlyphs">huMM+huECs</text>
<text transform="translate(13.8,480.6) rotate(-90)" font-size="9.0" font-weight="bold" font-family="'Liberation Sans', sans-serif" fill="#111" textLength="66" lengthAdjust="spacingAndGlyphs">Fold increase of CD138</text>
<text transform="translate(10,413.8) rotate(-90)" font-size="5.8" font-weight="normal" font-family="'Liberation Sans', sans-serif" fill="#111" textLength="16.8" lengthAdjust="spacingAndGlyphs">dim/neg</text>
<text transform="translate(13.8,394.7) rotate(-90)" font-size="9.0" font-weight="bold" font-family="'Liberation Sans', sans-serif" fill="#111" textLength="18.4" lengthAdjust="spacingAndGlyphs">JAM-C</text>
<text transform="translate(10,375.4) rotate(-90)" font-size="5.8" font-weight="normal" font-family="'Liberation Sans', sans-serif" fill="#111" textLength="3" lengthAdjust="spacingAndGlyphs">+</text>
<line x1="434" y1="359.2" x2="434" y2="498.3" stroke="#111" stroke-width="1.1"/>
<line x1="430.8" y1="364.8" x2="434" y2="364.8" stroke="#111" stroke-width="0.9"/>
<text x="427.2" y="367.5" font-size="7.6" text-anchor="end" font-weight="normal" font-family="'Liberation Sans', sans-serif" fill="#111" textLength="19.2" lengthAdjust="spacingAndGlyphs">0.015</text>
<line x1="430.8" y1="409.3" x2="434" y2="409.3" stroke="#111" stroke-width="0.9"/>
<text x="427.2" y="412" font-size="7.6" text-anchor="end" font-weight="normal" font-family="'Liberation Sans', sans-serif" fill="#111" textLength="19.2" lengthAdjust="spacingAndGlyphs">0.010</text>
<line x1="430.8" y1="453.8" x2="434" y2="453.8" stroke="#111" stroke-width="0.9"/>
<text x="427.2" y="456.5" font-size="7.6" text-anchor="end" font-weight="normal" font-family="'Liberation Sans', sans-serif" fill="#111" textLength="19.2" lengthAdjust="spacingAndGlyphs">0.005</text>
<line x1="430.8" y1="498.3" x2="434" y2="498.3" stroke="#111" stroke-width="0.9"/>
<text x="427.2" y="501" font-size="7.6" text-anchor="end" font-weight="normal" font-family="'Liberation Sans', sans-serif" fill="#111" textLength="19.2" lengthAdjust="spacingAndGlyphs">0.000</text>
<line x1="433.5" y1="498.3" x2="490.8" y2="498.3" stroke="#111" stroke-width="1.2"/>
<line x1="462" y1="498.3" x2="462" y2="501.6" stroke="#111" stroke-width="0.9"/>
<rect x="441.7" y="471.7" width="16.6" height="26.6" fill="#c8102e"/>
<line x1="450.2" y1="443.3" x2="450.2" y2="471.7" stroke="#d8435f" stroke-width="0.9"/>
<line x1="446" y1="443.3" x2="454.4" y2="443.3" stroke="#d8435f" stroke-width="1.0"/>
<rect x="466.2" y="452.1" width="16.8" height="46.2" fill="#114d87"/>
<line x1="474.6" y1="410.4" x2="474.6" y2="452.1" stroke="#4b7fb0" stroke-width="0.9"/>
<line x1="470.2" y1="410.4" x2="478.9" y2="410.4" stroke="#4b7fb0" stroke-width="1.0"/>
<text x="460.8" y="509.6" font-size="7.0" text-anchor="middle" font-weight="normal" font-family="'Liberation Sans', sans-serif" fill="#111" textLength="46.5" lengthAdjust="spacingAndGlyphs">48h post co-culture</text>
<rect x="437.9" y="354.8" width="3.7" height="3.6" fill="#c8102e"/>
<text x="443.8" y="359.2" font-size="7.6" text-anchor="start" font-weight="normal" font-family="'Liberation Sans', sans-serif" fill="#111" textLength="21.5" lengthAdjust="spacingAndGlyphs">huMM</text>
<rect x="437.9" y="363.2" width="3.7" height="3.6" fill="#114d87"/>
<text x="443.8" y="367.8" font-size="7.6" text-anchor="start" font-weight="normal" font-family="'Liberation Sans', sans-serif" fill="#111" textLength="48.8" lengthAdjust="spacingAndGlyphs">huMM+huECs</text>
<text transform="translate(402.3,466.4) rotate(-90)" font-size="9.0" font-weight="bold" font-family="'Liberation Sans', sans-serif" fill="#111" textLength="20.6" lengthAdjust="spacingAndGlyphs">CD138</text>
<text transform="translate(397.6,445.2) rotate(-90)" font-size="5.8" font-weight="normal" font-family="'Liberation Sans', sans-serif" fill="#111" textLength="14" lengthAdjust="spacingAndGlyphs">dim/neg</text>
<text transform="translate(402.3,429.4) rotate(-90)" font-size="9.0" font-weight="bold" font-family="'Liberation Sans', sans-serif" fill="#111" textLength="17.5" lengthAdjust="spacingAndGlyphs">JAM-C</text>
<text transform="translate(397.6,411.4) rotate(-90)" font-size="5.8" font-weight="normal" font-family="'Liberation Sans', sans-serif" fill="#111" textLength="2.6" lengthAdjust="spacingAndGlyphs">+</text>
<text transform="translate(402.3,406.4) rotate(-90)" font-size="9.0" font-weight="bold" font-family="'Liberation Sans', sans-serif" fill="#111" textLength="14.4" lengthAdjust="spacingAndGlyphs">(%)</text>
<rect x="0.65" y="0.65" width="518.7" height="586.7" fill="none" stroke="#000" stroke-width="1.3"/>
</svg></body></html>
